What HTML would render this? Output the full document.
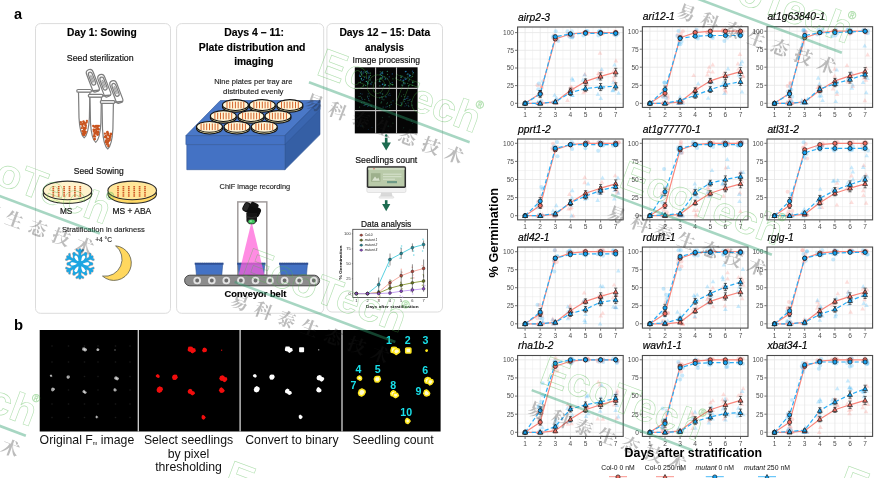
<!DOCTYPE html>
<html lang="en">
<head>
<meta charset="utf-8">
<title>Seed germination phenotyping workflow</title>
<style>
html,body{margin:0;padding:0;background:#fff;}
body{width:878px;height:478px;overflow:hidden;font-family:'Liberation Sans', sans-serif;}
svg{display:block;font-family:'Liberation Sans', sans-serif;}
</style>
</head>
<body>
<svg width="878" height="478" viewBox="0 0 878 478">
<rect x="0" y="0" width="878" height="478" fill="#ffffff"/>
<g id="panel-a-workflow">
<text x="14.00" y="18.70" font-size="14.5" text-anchor="start" fill="#000" font-weight="bold">a</text>
<text x="13.90" y="329.90" font-size="14.8" text-anchor="start" fill="#000" font-weight="bold">b</text>
<rect x="35.5" y="23.6" width="135.0" height="289.7" rx="5" ry="5" fill="#fff" stroke="#dcdcdc" stroke-width="1"/>
<rect x="176.6" y="23.6" width="147.1" height="289.7" rx="5" ry="5" fill="#fff" stroke="#dcdcdc" stroke-width="1"/>
<rect x="326.9" y="23.6" width="115.60000000000002" height="288.4" rx="5" ry="5" fill="#fff" stroke="#dcdcdc" stroke-width="1"/>
<text x="101.95" y="36.20" font-size="10.4" text-anchor="middle" fill="#000" font-weight="bold" textLength="69.70" lengthAdjust="spacingAndGlyphs" stroke="#000" stroke-width="0.15">Day 1: Sowing</text>
<text x="100.20" y="60.70" font-size="8.8" text-anchor="middle" fill="#141414" textLength="66.80" lengthAdjust="spacingAndGlyphs" stroke="#141414" stroke-width="0.2">Seed sterilization</text>
<text x="98.70" y="174.40" font-size="8.8" text-anchor="middle" fill="#141414" textLength="49.80" lengthAdjust="spacingAndGlyphs" stroke="#141414" stroke-width="0.2">Seed Sowing</text>
<text x="66.10" y="214.40" font-size="8.8" text-anchor="middle" fill="#141414" textLength="12.40" lengthAdjust="spacingAndGlyphs" stroke="#141414" stroke-width="0.2">MS</text>
<text x="131.85" y="214.40" font-size="8.8" text-anchor="middle" fill="#141414" textLength="38.70" lengthAdjust="spacingAndGlyphs" stroke="#141414" stroke-width="0.2">MS + ABA</text>
<text x="103.40" y="231.70" font-size="7.5" text-anchor="middle" fill="#1c1c1c" textLength="82.80" lengthAdjust="spacingAndGlyphs" stroke="#141414" stroke-width="0.12">Stratification in darkness</text>
<text x="103.60" y="241.50" font-size="7.5" text-anchor="middle" fill="#1c1c1c" textLength="16.80" lengthAdjust="spacingAndGlyphs" stroke="#141414" stroke-width="0.12">+4 °C</text>
<g fill="#fff" stroke="#7d7d7d" stroke-width="1.2" stroke-linejoin="round" stroke-linecap="round">
<g transform="translate(99.8,90.4) rotate(-21)">
<path d="M-6.6,-3 L-6.6,-19.5 Q-6.6,-23.4 -3.2,-23.4 Q0.4,-23.4 0.4,-19.5 L0.4,-3 Q0.4,0 -2,0 L-4.6,0 Q-6.6,0 -6.6,-3 Z"/>
<path d="M-5.1,-9 L-5.1,-17.6 Q-5.1,-20.6 -3.1,-20.6 Q-1.1,-20.6 -1.1,-17.6 L-1.1,-9 Q-1.1,-7 -3.1,-7 Q-5.1,-7 -5.1,-9 Z" fill="#f4f4f4"/>
<path d="M-3.7,-10 L-3.7,-16.5 Q-3.1,-18 -2.5,-16.5 L-2.5,-10" fill="none" stroke-width="0.7"/>
</g>
<path d="M90.7,91.0 L98.7,90.4" fill="none" stroke-width="1.6"/>
<path d="M78.5,92.0 L79.0,117.8 Q79.9,134.4 84.2,137.9 Q88.5,134.4 89.4,117.8 L89.9,92.0 Z"/>
<rect x="76.8" y="89.5" width="14.6" height="2.7" rx="1.3"/>
</g>
<g fill="#c9541f">
<circle cx="85.3" cy="133.4" r="1.15"/>
<circle cx="82.6" cy="124.2" r="1.15"/>
<circle cx="83.9" cy="128.1" r="1.15"/>
<circle cx="85.9" cy="125.9" r="1.15"/>
<circle cx="82.9" cy="133.9" r="1.15"/>
<circle cx="83.7" cy="123.2" r="1.15"/>
<circle cx="81.0" cy="124.2" r="1.15"/>
<circle cx="85.3" cy="128.8" r="1.15"/>
<circle cx="85.8" cy="132.0" r="1.15"/>
<circle cx="80.9" cy="122.2" r="1.15"/>
<circle cx="84.3" cy="134.9" r="1.15"/>
<circle cx="83.4" cy="121.7" r="1.15"/>
<circle cx="83.9" cy="132.2" r="1.15"/>
<circle cx="83.6" cy="134.9" r="1.15"/>
<circle cx="84.2" cy="129.0" r="1.15"/>
<circle cx="83.2" cy="131.9" r="1.15"/>
<circle cx="84.1" cy="132.1" r="1.15"/>
<circle cx="82.3" cy="131.1" r="1.15"/>
<circle cx="84.6" cy="123.2" r="1.15"/>
<circle cx="82.4" cy="126.0" r="1.15"/>
<circle cx="86.9" cy="120.9" r="1.15"/>
<circle cx="83.7" cy="133.5" r="1.15"/>
<circle cx="85.5" cy="124.8" r="1.15"/>
<circle cx="83.6" cy="121.7" r="1.15"/>
<circle cx="85.3" cy="123.3" r="1.15"/>
<circle cx="84.6" cy="130.9" r="1.15"/>
<circle cx="86.6" cy="122.5" r="1.15"/>
<circle cx="84.7" cy="128.0" r="1.15"/>
<circle cx="83.6" cy="134.8" r="1.15"/>
<circle cx="83.6" cy="123.7" r="1.15"/>
<circle cx="84.4" cy="132.8" r="1.15"/>
<circle cx="85.3" cy="125.1" r="1.15"/>
<circle cx="83.9" cy="129.9" r="1.15"/>
<circle cx="85.7" cy="127.9" r="1.15"/>
<circle cx="83.6" cy="127.7" r="1.15"/>
<circle cx="81.8" cy="128.2" r="1.15"/>
</g>
<g fill="#fff" stroke="#7d7d7d" stroke-width="1.2" stroke-linejoin="round" stroke-linecap="round">
<g transform="translate(111.3,95.3) rotate(-21)">
<path d="M-6.6,-3 L-6.6,-19.5 Q-6.6,-23.4 -3.2,-23.4 Q0.4,-23.4 0.4,-19.5 L0.4,-3 Q0.4,0 -2,0 L-4.6,0 Q-6.6,0 -6.6,-3 Z"/>
<path d="M-5.1,-9 L-5.1,-17.6 Q-5.1,-20.6 -3.1,-20.6 Q-1.1,-20.6 -1.1,-17.6 L-1.1,-9 Q-1.1,-7 -3.1,-7 Q-5.1,-7 -5.1,-9 Z" fill="#f4f4f4"/>
<path d="M-3.7,-10 L-3.7,-16.5 Q-3.1,-18 -2.5,-16.5 L-2.5,-10" fill="none" stroke-width="0.7"/>
</g>
<path d="M102.2,95.9 L110.2,95.3" fill="none" stroke-width="1.6"/>
<path d="M90.0,96.9 L90.5,122.7 Q91.4,138.9 95.7,142.4 Q100.0,138.9 100.9,122.7 L101.4,96.9 Z"/>
<rect x="88.3" y="94.4" width="14.6" height="2.7" rx="1.3"/>
</g>
<g fill="#c9541f">
<circle cx="98.9" cy="125.9" r="1.15"/>
<circle cx="94.7" cy="139.0" r="1.15"/>
<circle cx="97.3" cy="127.7" r="1.15"/>
<circle cx="94.6" cy="130.1" r="1.15"/>
<circle cx="96.3" cy="131.0" r="1.15"/>
<circle cx="93.8" cy="131.4" r="1.15"/>
<circle cx="95.2" cy="133.6" r="1.15"/>
<circle cx="98.8" cy="129.3" r="1.15"/>
<circle cx="96.0" cy="126.0" r="1.15"/>
<circle cx="94.6" cy="133.3" r="1.15"/>
<circle cx="94.7" cy="139.3" r="1.15"/>
<circle cx="94.8" cy="133.1" r="1.15"/>
<circle cx="97.5" cy="134.3" r="1.15"/>
<circle cx="96.0" cy="132.2" r="1.15"/>
<circle cx="93.9" cy="136.4" r="1.15"/>
<circle cx="94.2" cy="135.1" r="1.15"/>
<circle cx="98.3" cy="132.4" r="1.15"/>
<circle cx="93.8" cy="130.0" r="1.15"/>
<circle cx="97.8" cy="126.8" r="1.15"/>
<circle cx="98.3" cy="129.2" r="1.15"/>
<circle cx="97.6" cy="128.7" r="1.15"/>
<circle cx="97.8" cy="134.7" r="1.15"/>
<circle cx="93.2" cy="125.9" r="1.15"/>
<circle cx="97.1" cy="128.9" r="1.15"/>
<circle cx="95.9" cy="133.1" r="1.15"/>
<circle cx="97.9" cy="132.7" r="1.15"/>
<circle cx="97.4" cy="132.5" r="1.15"/>
<circle cx="97.4" cy="134.7" r="1.15"/>
<circle cx="95.4" cy="126.8" r="1.15"/>
<circle cx="98.0" cy="131.6" r="1.15"/>
<circle cx="95.6" cy="129.3" r="1.15"/>
<circle cx="95.1" cy="136.6" r="1.15"/>
<circle cx="93.7" cy="129.7" r="1.15"/>
<circle cx="94.1" cy="126.6" r="1.15"/>
<circle cx="94.4" cy="126.6" r="1.15"/>
<circle cx="97.2" cy="125.9" r="1.15"/>
</g>
<g fill="#fff" stroke="#7d7d7d" stroke-width="1.2" stroke-linejoin="round" stroke-linecap="round">
<g transform="translate(123.3,101.6) rotate(-21)">
<path d="M-6.6,-3 L-6.6,-19.5 Q-6.6,-23.4 -3.2,-23.4 Q0.4,-23.4 0.4,-19.5 L0.4,-3 Q0.4,0 -2,0 L-4.6,0 Q-6.6,0 -6.6,-3 Z"/>
<path d="M-5.1,-9 L-5.1,-17.6 Q-5.1,-20.6 -3.1,-20.6 Q-1.1,-20.6 -1.1,-17.6 L-1.1,-9 Q-1.1,-7 -3.1,-7 Q-5.1,-7 -5.1,-9 Z" fill="#f4f4f4"/>
<path d="M-3.7,-10 L-3.7,-16.5 Q-3.1,-18 -2.5,-16.5 L-2.5,-10" fill="none" stroke-width="0.7"/>
</g>
<path d="M114.2,102.2 L122.2,101.6" fill="none" stroke-width="1.6"/>
<path d="M102.0,103.2 L102.5,129.0 Q103.4,145.5 107.7,149.0 Q112.0,145.5 112.9,129.0 L113.4,103.2 Z"/>
<rect x="100.3" y="100.7" width="14.6" height="2.7" rx="1.3"/>
</g>
<g fill="#c9541f">
<circle cx="107.9" cy="142.9" r="1.15"/>
<circle cx="108.2" cy="141.0" r="1.15"/>
<circle cx="105.2" cy="137.3" r="1.15"/>
<circle cx="108.3" cy="146.2" r="1.15"/>
<circle cx="106.7" cy="142.6" r="1.15"/>
<circle cx="107.5" cy="132.0" r="1.15"/>
<circle cx="107.5" cy="134.3" r="1.15"/>
<circle cx="105.7" cy="137.1" r="1.15"/>
<circle cx="109.8" cy="137.2" r="1.15"/>
<circle cx="109.0" cy="138.8" r="1.15"/>
<circle cx="105.1" cy="136.7" r="1.15"/>
<circle cx="108.3" cy="135.4" r="1.15"/>
<circle cx="105.8" cy="142.0" r="1.15"/>
<circle cx="107.5" cy="133.8" r="1.15"/>
<circle cx="110.0" cy="136.0" r="1.15"/>
<circle cx="110.3" cy="136.0" r="1.15"/>
<circle cx="109.1" cy="140.7" r="1.15"/>
<circle cx="109.8" cy="140.0" r="1.15"/>
<circle cx="104.9" cy="133.7" r="1.15"/>
<circle cx="106.8" cy="144.4" r="1.15"/>
<circle cx="107.2" cy="132.4" r="1.15"/>
<circle cx="106.5" cy="137.3" r="1.15"/>
<circle cx="107.1" cy="139.0" r="1.15"/>
<circle cx="108.1" cy="141.3" r="1.15"/>
<circle cx="110.0" cy="137.9" r="1.15"/>
<circle cx="110.3" cy="136.5" r="1.15"/>
<circle cx="111.0" cy="134.0" r="1.15"/>
<circle cx="105.7" cy="136.7" r="1.15"/>
<circle cx="110.9" cy="133.9" r="1.15"/>
<circle cx="108.2" cy="133.3" r="1.15"/>
<circle cx="105.9" cy="136.0" r="1.15"/>
<circle cx="108.2" cy="134.3" r="1.15"/>
<circle cx="106.0" cy="142.3" r="1.15"/>
<circle cx="111.0" cy="134.0" r="1.15"/>
<circle cx="108.5" cy="145.1" r="1.15"/>
<circle cx="106.1" cy="140.4" r="1.15"/>
</g>
<ellipse cx="67.5" cy="194.1" rx="24.3" ry="9.3" fill="#fdfbc4" stroke="#2b2b2b" stroke-width="1.1"/>
<ellipse cx="67.5" cy="190.4" rx="24.3" ry="9.3" fill="#fff2cc" stroke="#2b2b2b" stroke-width="1.1"/>
<line x1="53.3" y1="186.1" x2="53.3" y2="196.8" stroke="#cf5a26" stroke-width="1.7" stroke-dasharray="1.3 0.55"/>
<line x1="58.7" y1="186.1" x2="58.7" y2="196.8" stroke="#cf5a26" stroke-width="1.7" stroke-dasharray="1.3 0.55"/>
<line x1="64.1" y1="186.1" x2="64.1" y2="196.8" stroke="#cf5a26" stroke-width="1.7" stroke-dasharray="1.3 0.55"/>
<line x1="69.5" y1="186.1" x2="69.5" y2="196.8" stroke="#cf5a26" stroke-width="1.7" stroke-dasharray="1.3 0.55"/>
<line x1="74.9" y1="186.1" x2="74.9" y2="196.8" stroke="#cf5a26" stroke-width="1.7" stroke-dasharray="1.3 0.55"/>
<line x1="80.3" y1="186.1" x2="80.3" y2="196.8" stroke="#cf5a26" stroke-width="1.7" stroke-dasharray="1.3 0.55"/>
<ellipse cx="132.2" cy="194.1" rx="24.3" ry="9.3" fill="#ffd966" stroke="#2b2b2b" stroke-width="1.1"/>
<ellipse cx="132.2" cy="190.4" rx="24.3" ry="9.3" fill="#ffe699" stroke="#2b2b2b" stroke-width="1.1"/>
<line x1="118.0" y1="186.1" x2="118.0" y2="196.8" stroke="#cf5a26" stroke-width="1.7" stroke-dasharray="1.3 0.55"/>
<line x1="123.4" y1="186.1" x2="123.4" y2="196.8" stroke="#cf5a26" stroke-width="1.7" stroke-dasharray="1.3 0.55"/>
<line x1="128.8" y1="186.1" x2="128.8" y2="196.8" stroke="#cf5a26" stroke-width="1.7" stroke-dasharray="1.3 0.55"/>
<line x1="134.2" y1="186.1" x2="134.2" y2="196.8" stroke="#cf5a26" stroke-width="1.7" stroke-dasharray="1.3 0.55"/>
<line x1="139.6" y1="186.1" x2="139.6" y2="196.8" stroke="#cf5a26" stroke-width="1.7" stroke-dasharray="1.3 0.55"/>
<line x1="145.0" y1="186.1" x2="145.0" y2="196.8" stroke="#cf5a26" stroke-width="1.7" stroke-dasharray="1.3 0.55"/>
<g transform="translate(79.85,263.85)">
<g stroke="#c98f80" stroke-linecap="round" stroke-linejoin="round" fill="none" opacity="0.55">
<g transform="rotate(0)"><line x1="0" y1="0" x2="0" y2="-14.10" stroke-width="3.5"/><path d="M-3.06,-13.77 L0,-11.63 L3.06,-13.77" stroke-width="2.9"/><path d="M-6.12,-10.10 L0,-6.43 L6.12,-10.10" stroke-width="3.3"/></g>
<g transform="rotate(60)"><line x1="0" y1="0" x2="0" y2="-14.10" stroke-width="3.5"/><path d="M-3.06,-13.77 L0,-11.63 L3.06,-13.77" stroke-width="2.9"/><path d="M-6.12,-10.10 L0,-6.43 L6.12,-10.10" stroke-width="3.3"/></g>
<g transform="rotate(120)"><line x1="0" y1="0" x2="0" y2="-14.10" stroke-width="3.5"/><path d="M-3.06,-13.77 L0,-11.63 L3.06,-13.77" stroke-width="2.9"/><path d="M-6.12,-10.10 L0,-6.43 L6.12,-10.10" stroke-width="3.3"/></g>
<g transform="rotate(180)"><line x1="0" y1="0" x2="0" y2="-14.10" stroke-width="3.5"/><path d="M-3.06,-13.77 L0,-11.63 L3.06,-13.77" stroke-width="2.9"/><path d="M-6.12,-10.10 L0,-6.43 L6.12,-10.10" stroke-width="3.3"/></g>
<g transform="rotate(240)"><line x1="0" y1="0" x2="0" y2="-14.10" stroke-width="3.5"/><path d="M-3.06,-13.77 L0,-11.63 L3.06,-13.77" stroke-width="2.9"/><path d="M-6.12,-10.10 L0,-6.43 L6.12,-10.10" stroke-width="3.3"/></g>
<g transform="rotate(300)"><line x1="0" y1="0" x2="0" y2="-14.10" stroke-width="3.5"/><path d="M-3.06,-13.77 L0,-11.63 L3.06,-13.77" stroke-width="2.9"/><path d="M-6.12,-10.10 L0,-6.43 L6.12,-10.10" stroke-width="3.3"/></g>
</g>
<g stroke="#1ba6e2" stroke-linecap="round" stroke-linejoin="round" fill="none">
<g transform="rotate(0)"><line x1="0" y1="0" x2="0" y2="-14.10" stroke-width="2.5"/><path d="M-3.06,-13.77 L0,-11.63 L3.06,-13.77" stroke-width="1.9"/><path d="M-6.12,-10.10 L0,-6.43 L6.12,-10.10" stroke-width="2.3"/></g>
<g transform="rotate(60)"><line x1="0" y1="0" x2="0" y2="-14.10" stroke-width="2.5"/><path d="M-3.06,-13.77 L0,-11.63 L3.06,-13.77" stroke-width="1.9"/><path d="M-6.12,-10.10 L0,-6.43 L6.12,-10.10" stroke-width="2.3"/></g>
<g transform="rotate(120)"><line x1="0" y1="0" x2="0" y2="-14.10" stroke-width="2.5"/><path d="M-3.06,-13.77 L0,-11.63 L3.06,-13.77" stroke-width="1.9"/><path d="M-6.12,-10.10 L0,-6.43 L6.12,-10.10" stroke-width="2.3"/></g>
<g transform="rotate(180)"><line x1="0" y1="0" x2="0" y2="-14.10" stroke-width="2.5"/><path d="M-3.06,-13.77 L0,-11.63 L3.06,-13.77" stroke-width="1.9"/><path d="M-6.12,-10.10 L0,-6.43 L6.12,-10.10" stroke-width="2.3"/></g>
<g transform="rotate(240)"><line x1="0" y1="0" x2="0" y2="-14.10" stroke-width="2.5"/><path d="M-3.06,-13.77 L0,-11.63 L3.06,-13.77" stroke-width="1.9"/><path d="M-6.12,-10.10 L0,-6.43 L6.12,-10.10" stroke-width="2.3"/></g>
<g transform="rotate(300)"><line x1="0" y1="0" x2="0" y2="-14.10" stroke-width="2.5"/><path d="M-3.06,-13.77 L0,-11.63 L3.06,-13.77" stroke-width="1.9"/><path d="M-6.12,-10.10 L0,-6.43 L6.12,-10.10" stroke-width="2.3"/></g>
</g>
<circle cx="0" cy="0" r="7.65" fill="#1ba6e2"/>
<path transform="rotate(30)" d="M0,-2.60 Q1.99,-6.12 1.53,-8.26 Q0,-10.71 -1.53,-8.26 Q-1.99,-6.12 0,-2.60 Z" fill="#fff"/>
<path transform="rotate(90)" d="M0,-2.60 Q1.99,-6.12 1.53,-8.26 Q0,-10.71 -1.53,-8.26 Q-1.99,-6.12 0,-2.60 Z" fill="#fff"/>
<path transform="rotate(150)" d="M0,-2.60 Q1.99,-6.12 1.53,-8.26 Q0,-10.71 -1.53,-8.26 Q-1.99,-6.12 0,-2.60 Z" fill="#fff"/>
<path transform="rotate(210)" d="M0,-2.60 Q1.99,-6.12 1.53,-8.26 Q0,-10.71 -1.53,-8.26 Q-1.99,-6.12 0,-2.60 Z" fill="#fff"/>
<path transform="rotate(270)" d="M0,-2.60 Q1.99,-6.12 1.53,-8.26 Q0,-10.71 -1.53,-8.26 Q-1.99,-6.12 0,-2.60 Z" fill="#fff"/>
<path transform="rotate(330)" d="M0,-2.60 Q1.99,-6.12 1.53,-8.26 Q0,-10.71 -1.53,-8.26 Q-1.99,-6.12 0,-2.60 Z" fill="#fff"/>
<circle cx="0" cy="0" r="3.06" fill="#1ba6e2"/>
</g>
<path d="M115.6,245.8 A17.35,17.35 0 1 1 102.5,276.1 A17.1,17.1 0 0 0 115.6,245.8 Z" fill="#ffd75e" stroke="#5a5a4a" stroke-width="0.8" stroke-linejoin="round"/>
<text x="254.15" y="36.20" font-size="10.4" text-anchor="middle" fill="#000" font-weight="bold" textLength="59.90" lengthAdjust="spacingAndGlyphs" stroke="#000" stroke-width="0.15">Days 4 – 11:</text>
<text x="252.10" y="50.70" font-size="10.4" text-anchor="middle" fill="#000" font-weight="bold" textLength="106.80" lengthAdjust="spacingAndGlyphs" stroke="#000" stroke-width="0.15">Plate distribution and</text>
<text x="253.80" y="65.00" font-size="10.4" text-anchor="middle" fill="#000" font-weight="bold" textLength="39.20" lengthAdjust="spacingAndGlyphs" stroke="#000" stroke-width="0.15">imaging</text>
<text x="253.35" y="83.60" font-size="7.5" text-anchor="middle" fill="#1c1c1c" textLength="78.30" lengthAdjust="spacingAndGlyphs" stroke="#141414" stroke-width="0.12">Nine plates per tray are</text>
<text x="253.30" y="93.60" font-size="7.5" text-anchor="middle" fill="#1c1c1c" textLength="60.40" lengthAdjust="spacingAndGlyphs" stroke="#141414" stroke-width="0.12">distributed evenly</text>
<text x="254.90" y="189.20" font-size="7.5" text-anchor="middle" fill="#1c1c1c" textLength="70.60" lengthAdjust="spacingAndGlyphs" stroke="#141414" stroke-width="0.12">ChlF image recording</text>
<text x="255.50" y="296.50" font-size="9.4" text-anchor="middle" fill="#000" font-weight="bold" textLength="61.80" lengthAdjust="spacingAndGlyphs" stroke="#000" stroke-width="0.15">Conveyor belt</text>
<g stroke="#2f5597" stroke-width="0.6" stroke-linejoin="round">
<polygon points="220.3,100.5 320,100.5 284.9,135.6 185.9,135.6" fill="#4a78c8"/>
<polygon points="284.9,135.6 320,100.5 320,134.6 284.9,169.7" fill="#355fa5"/>
<polygon points="284.9,135.6 320,100.5 320,109.5 284.9,144.6" fill="#3a66b0"/>
<polygon points="185.9,135.6 284.9,135.6 284.9,144.6 185.9,144.6" fill="#4472c4"/>
<polygon points="186.8,144.6 284.9,144.6 284.9,169.7 186.8,169.7" fill="#4472c4"/>
</g>
<ellipse cx="235.4" cy="106.7" rx="13" ry="5.4" fill="#efe3a8" stroke="#111" stroke-width="1.05"/>
<ellipse cx="235.4" cy="105" rx="13" ry="5.4" fill="#fff6d8" stroke="#111" stroke-width="1.05"/>
<line x1="227.0" y1="101.7" x2="227.0" y2="108.3" stroke="#d4622a" stroke-width="1.0"/>
<line x1="229.8" y1="101.7" x2="229.8" y2="108.3" stroke="#d4622a" stroke-width="1.0"/>
<line x1="232.6" y1="101.7" x2="232.6" y2="108.3" stroke="#d4622a" stroke-width="1.0"/>
<line x1="235.4" y1="101.7" x2="235.4" y2="108.3" stroke="#d4622a" stroke-width="1.0"/>
<line x1="238.2" y1="101.7" x2="238.2" y2="108.3" stroke="#d4622a" stroke-width="1.0"/>
<line x1="241.0" y1="101.7" x2="241.0" y2="108.3" stroke="#d4622a" stroke-width="1.0"/>
<line x1="243.8" y1="101.7" x2="243.8" y2="108.3" stroke="#d4622a" stroke-width="1.0"/>
<ellipse cx="262.3" cy="106.7" rx="13" ry="5.4" fill="#efe3a8" stroke="#111" stroke-width="1.05"/>
<ellipse cx="262.3" cy="105" rx="13" ry="5.4" fill="#fff6d8" stroke="#111" stroke-width="1.05"/>
<line x1="253.9" y1="101.7" x2="253.9" y2="108.3" stroke="#d4622a" stroke-width="1.0"/>
<line x1="256.7" y1="101.7" x2="256.7" y2="108.3" stroke="#d4622a" stroke-width="1.0"/>
<line x1="259.5" y1="101.7" x2="259.5" y2="108.3" stroke="#d4622a" stroke-width="1.0"/>
<line x1="262.3" y1="101.7" x2="262.3" y2="108.3" stroke="#d4622a" stroke-width="1.0"/>
<line x1="265.1" y1="101.7" x2="265.1" y2="108.3" stroke="#d4622a" stroke-width="1.0"/>
<line x1="267.9" y1="101.7" x2="267.9" y2="108.3" stroke="#d4622a" stroke-width="1.0"/>
<line x1="270.7" y1="101.7" x2="270.7" y2="108.3" stroke="#d4622a" stroke-width="1.0"/>
<ellipse cx="289.9" cy="106.7" rx="13" ry="5.4" fill="#efe3a8" stroke="#111" stroke-width="1.05"/>
<ellipse cx="289.9" cy="105" rx="13" ry="5.4" fill="#fff6d8" stroke="#111" stroke-width="1.05"/>
<line x1="281.5" y1="101.7" x2="281.5" y2="108.3" stroke="#d4622a" stroke-width="1.0"/>
<line x1="284.3" y1="101.7" x2="284.3" y2="108.3" stroke="#d4622a" stroke-width="1.0"/>
<line x1="287.1" y1="101.7" x2="287.1" y2="108.3" stroke="#d4622a" stroke-width="1.0"/>
<line x1="289.9" y1="101.7" x2="289.9" y2="108.3" stroke="#d4622a" stroke-width="1.0"/>
<line x1="292.7" y1="101.7" x2="292.7" y2="108.3" stroke="#d4622a" stroke-width="1.0"/>
<line x1="295.5" y1="101.7" x2="295.5" y2="108.3" stroke="#d4622a" stroke-width="1.0"/>
<line x1="298.3" y1="101.7" x2="298.3" y2="108.3" stroke="#d4622a" stroke-width="1.0"/>
<ellipse cx="223.3" cy="117.7" rx="13" ry="5.4" fill="#efe3a8" stroke="#111" stroke-width="1.05"/>
<ellipse cx="223.3" cy="116" rx="13" ry="5.4" fill="#fff6d8" stroke="#111" stroke-width="1.05"/>
<line x1="214.9" y1="112.7" x2="214.9" y2="119.3" stroke="#d4622a" stroke-width="1.0"/>
<line x1="217.7" y1="112.7" x2="217.7" y2="119.3" stroke="#d4622a" stroke-width="1.0"/>
<line x1="220.5" y1="112.7" x2="220.5" y2="119.3" stroke="#d4622a" stroke-width="1.0"/>
<line x1="223.3" y1="112.7" x2="223.3" y2="119.3" stroke="#d4622a" stroke-width="1.0"/>
<line x1="226.1" y1="112.7" x2="226.1" y2="119.3" stroke="#d4622a" stroke-width="1.0"/>
<line x1="228.9" y1="112.7" x2="228.9" y2="119.3" stroke="#d4622a" stroke-width="1.0"/>
<line x1="231.7" y1="112.7" x2="231.7" y2="119.3" stroke="#d4622a" stroke-width="1.0"/>
<ellipse cx="251" cy="117.7" rx="13" ry="5.4" fill="#efe3a8" stroke="#111" stroke-width="1.05"/>
<ellipse cx="251" cy="116" rx="13" ry="5.4" fill="#fff6d8" stroke="#111" stroke-width="1.05"/>
<line x1="242.6" y1="112.7" x2="242.6" y2="119.3" stroke="#d4622a" stroke-width="1.0"/>
<line x1="245.4" y1="112.7" x2="245.4" y2="119.3" stroke="#d4622a" stroke-width="1.0"/>
<line x1="248.2" y1="112.7" x2="248.2" y2="119.3" stroke="#d4622a" stroke-width="1.0"/>
<line x1="251.0" y1="112.7" x2="251.0" y2="119.3" stroke="#d4622a" stroke-width="1.0"/>
<line x1="253.8" y1="112.7" x2="253.8" y2="119.3" stroke="#d4622a" stroke-width="1.0"/>
<line x1="256.6" y1="112.7" x2="256.6" y2="119.3" stroke="#d4622a" stroke-width="1.0"/>
<line x1="259.4" y1="112.7" x2="259.4" y2="119.3" stroke="#d4622a" stroke-width="1.0"/>
<ellipse cx="278" cy="117.7" rx="13" ry="5.4" fill="#efe3a8" stroke="#111" stroke-width="1.05"/>
<ellipse cx="278" cy="116" rx="13" ry="5.4" fill="#fff6d8" stroke="#111" stroke-width="1.05"/>
<line x1="269.6" y1="112.7" x2="269.6" y2="119.3" stroke="#d4622a" stroke-width="1.0"/>
<line x1="272.4" y1="112.7" x2="272.4" y2="119.3" stroke="#d4622a" stroke-width="1.0"/>
<line x1="275.2" y1="112.7" x2="275.2" y2="119.3" stroke="#d4622a" stroke-width="1.0"/>
<line x1="278.0" y1="112.7" x2="278.0" y2="119.3" stroke="#d4622a" stroke-width="1.0"/>
<line x1="280.8" y1="112.7" x2="280.8" y2="119.3" stroke="#d4622a" stroke-width="1.0"/>
<line x1="283.6" y1="112.7" x2="283.6" y2="119.3" stroke="#d4622a" stroke-width="1.0"/>
<line x1="286.4" y1="112.7" x2="286.4" y2="119.3" stroke="#d4622a" stroke-width="1.0"/>
<ellipse cx="209.5" cy="128.5" rx="13" ry="5.4" fill="#efe3a8" stroke="#111" stroke-width="1.05"/>
<ellipse cx="209.5" cy="126.8" rx="13" ry="5.4" fill="#fff6d8" stroke="#111" stroke-width="1.05"/>
<line x1="201.1" y1="123.5" x2="201.1" y2="130.1" stroke="#d4622a" stroke-width="1.0"/>
<line x1="203.9" y1="123.5" x2="203.9" y2="130.1" stroke="#d4622a" stroke-width="1.0"/>
<line x1="206.7" y1="123.5" x2="206.7" y2="130.1" stroke="#d4622a" stroke-width="1.0"/>
<line x1="209.5" y1="123.5" x2="209.5" y2="130.1" stroke="#d4622a" stroke-width="1.0"/>
<line x1="212.3" y1="123.5" x2="212.3" y2="130.1" stroke="#d4622a" stroke-width="1.0"/>
<line x1="215.1" y1="123.5" x2="215.1" y2="130.1" stroke="#d4622a" stroke-width="1.0"/>
<line x1="217.9" y1="123.5" x2="217.9" y2="130.1" stroke="#d4622a" stroke-width="1.0"/>
<ellipse cx="237" cy="128.5" rx="13" ry="5.4" fill="#efe3a8" stroke="#111" stroke-width="1.05"/>
<ellipse cx="237" cy="126.8" rx="13" ry="5.4" fill="#fff6d8" stroke="#111" stroke-width="1.05"/>
<line x1="228.6" y1="123.5" x2="228.6" y2="130.1" stroke="#d4622a" stroke-width="1.0"/>
<line x1="231.4" y1="123.5" x2="231.4" y2="130.1" stroke="#d4622a" stroke-width="1.0"/>
<line x1="234.2" y1="123.5" x2="234.2" y2="130.1" stroke="#d4622a" stroke-width="1.0"/>
<line x1="237.0" y1="123.5" x2="237.0" y2="130.1" stroke="#d4622a" stroke-width="1.0"/>
<line x1="239.8" y1="123.5" x2="239.8" y2="130.1" stroke="#d4622a" stroke-width="1.0"/>
<line x1="242.6" y1="123.5" x2="242.6" y2="130.1" stroke="#d4622a" stroke-width="1.0"/>
<line x1="245.4" y1="123.5" x2="245.4" y2="130.1" stroke="#d4622a" stroke-width="1.0"/>
<ellipse cx="264.3" cy="128.5" rx="13" ry="5.4" fill="#efe3a8" stroke="#111" stroke-width="1.05"/>
<ellipse cx="264.3" cy="126.8" rx="13" ry="5.4" fill="#fff6d8" stroke="#111" stroke-width="1.05"/>
<line x1="255.9" y1="123.5" x2="255.9" y2="130.1" stroke="#d4622a" stroke-width="1.0"/>
<line x1="258.7" y1="123.5" x2="258.7" y2="130.1" stroke="#d4622a" stroke-width="1.0"/>
<line x1="261.5" y1="123.5" x2="261.5" y2="130.1" stroke="#d4622a" stroke-width="1.0"/>
<line x1="264.3" y1="123.5" x2="264.3" y2="130.1" stroke="#d4622a" stroke-width="1.0"/>
<line x1="267.1" y1="123.5" x2="267.1" y2="130.1" stroke="#d4622a" stroke-width="1.0"/>
<line x1="269.9" y1="123.5" x2="269.9" y2="130.1" stroke="#d4622a" stroke-width="1.0"/>
<line x1="272.7" y1="123.5" x2="272.7" y2="130.1" stroke="#d4622a" stroke-width="1.0"/>
<rect x="237.8" y="201.9" width="29" height="73.2" fill="#fff" stroke="#a19c9c" stroke-width="1.5"/>
<polygon points="195.4,263.3 222.8,263.3 221.8,274.8 196.4,274.8" fill="#4472c4" stroke="#2f5597" stroke-width="0.6"/>
<rect x="194.70000000000002" y="262.7" width="28.800000000000004" height="2.0" fill="#2f4f93"/>
<line x1="196.4" y1="262.5" x2="221.8" y2="262.5" stroke="#e0e0e0" stroke-width="0.5" stroke-dasharray="1 1.2"/>
<polygon points="237.9,263.3 264.8,263.3 263.8,274.8 238.9,274.8" fill="#4472c4" stroke="#2f5597" stroke-width="0.6"/>
<rect x="237.20000000000002" y="262.7" width="28.300000000000004" height="2.0" fill="#2f4f93"/>
<line x1="238.9" y1="262.5" x2="263.8" y2="262.5" stroke="#e0e0e0" stroke-width="0.5" stroke-dasharray="1 1.2"/>
<polygon points="279.8,263.3 307.5,263.3 306.5,274.8 280.8,274.8" fill="#4472c4" stroke="#2f5597" stroke-width="0.6"/>
<rect x="279.1" y="262.7" width="29.099999999999987" height="2.0" fill="#2f4f93"/>
<line x1="280.8" y1="262.5" x2="306.5" y2="262.5" stroke="#e0e0e0" stroke-width="0.5" stroke-dasharray="1 1.2"/>
<polygon points="251.6,221.6 264.4,274.9 238.6,274.9" fill="#ff5fd8" opacity="0.72"/>
<g transform="translate(251.7,209.6)">
<g transform="rotate(27)">
<rect x="-9.2" y="-4.8" width="18.4" height="9.8" rx="3.2" fill="#0d0d0d"/>
<rect x="-3.6" y="-7.6" width="8.2" height="5" rx="1.8" fill="#111"/>
<rect x="-8.4" y="-4" width="4.6" height="8" rx="2" fill="#2a2a2a"/>
</g>
<path d="M-5.4,3.5 L5.4,3.5 L5.2,11.8 Q0,15.0 -5.2,11.8 Z" fill="#151515"/>
<path d="M-5.3,7.3 Q0,8.6 5.3,7.3" stroke="#444" stroke-width="0.6" fill="none"/>
<ellipse cx="-0.1" cy="11.8" rx="4.3" ry="2.8" fill="#2b2b2b"/>
<ellipse cx="-0.1" cy="11.9" rx="3.3" ry="2.1" fill="#3fc35c"/>
<ellipse cx="-0.9" cy="11.5" rx="1.3" ry="0.9" fill="#8fe8a0"/>
</g>
<rect x="184.6" y="275.2" width="135" height="10.6" rx="5.3" fill="#8c8c8c" stroke="#3a3a3a" stroke-width="0.9"/>
<circle cx="197.2" cy="280.5" r="2.9" fill="#6c6c6c" stroke="#e2e2e2" stroke-width="1.9"/>
<circle cx="211.8" cy="280.5" r="2.9" fill="#6c6c6c" stroke="#e2e2e2" stroke-width="1.9"/>
<circle cx="226.3" cy="280.5" r="2.9" fill="#6c6c6c" stroke="#e2e2e2" stroke-width="1.9"/>
<circle cx="240.9" cy="280.5" r="2.9" fill="#6c6c6c" stroke="#e2e2e2" stroke-width="1.9"/>
<circle cx="255.5" cy="280.5" r="2.9" fill="#6c6c6c" stroke="#e2e2e2" stroke-width="1.9"/>
<circle cx="270.0" cy="280.5" r="2.9" fill="#6c6c6c" stroke="#e2e2e2" stroke-width="1.9"/>
<circle cx="284.6" cy="280.5" r="2.9" fill="#6c6c6c" stroke="#e2e2e2" stroke-width="1.9"/>
<circle cx="299.2" cy="280.5" r="2.9" fill="#6c6c6c" stroke="#e2e2e2" stroke-width="1.9"/>
<circle cx="313.8" cy="280.5" r="2.9" fill="#6c6c6c" stroke="#e2e2e2" stroke-width="1.9"/>
<text x="384.82" y="36.20" font-size="10.4" text-anchor="middle" fill="#000" font-weight="bold" textLength="90.85" lengthAdjust="spacingAndGlyphs" stroke="#000" stroke-width="0.15">Days 12 – 15: Data</text>
<text x="384.50" y="50.60" font-size="10.4" text-anchor="middle" fill="#000" font-weight="bold" textLength="38.80" lengthAdjust="spacingAndGlyphs" stroke="#000" stroke-width="0.15">analysis</text>
<text x="386.30" y="62.50" font-size="8.8" text-anchor="middle" fill="#141414" textLength="67.40" lengthAdjust="spacingAndGlyphs" stroke="#141414" stroke-width="0.2">Image processing</text>
<text x="386.30" y="162.50" font-size="8.8" text-anchor="middle" fill="#141414" textLength="62.00" lengthAdjust="spacingAndGlyphs" stroke="#141414" stroke-width="0.2">Seedlings count</text>
<text x="386.15" y="226.50" font-size="8.8" text-anchor="middle" fill="#141414" textLength="50.30" lengthAdjust="spacingAndGlyphs" stroke="#141414" stroke-width="0.2">Data analysis</text>
<rect x="354.8" y="67.3" width="62.8" height="66.1" fill="#050505"/>
<g fill-opacity="0.62">
<circle cx="367.3" cy="71.2" r="0.6" fill="#2f86d0"/>
<circle cx="361.7" cy="72.9" r="0.6" fill="#3ec8a0"/>
<circle cx="367.8" cy="84.2" r="0.6" fill="#3ec8a0"/>
<circle cx="366.6" cy="71.3" r="0.6" fill="#3ec8a0"/>
<circle cx="361.4" cy="78.4" r="0.6" fill="#3ec8a0"/>
<circle cx="366.2" cy="81.5" r="0.6" fill="#2f9fd0"/>
<circle cx="361.4" cy="79.6" r="0.6" fill="#3ec8a0"/>
<circle cx="368.9" cy="73.2" r="0.6" fill="#2f9fd0"/>
<circle cx="363.1" cy="73.1" r="0.6" fill="#2f86d0"/>
<circle cx="359.7" cy="76.5" r="0.6" fill="#2f86d0"/>
<circle cx="370.2" cy="79.9" r="0.6" fill="#3ec8a0"/>
<circle cx="368.5" cy="78.8" r="0.6" fill="#2f9fd0"/>
<circle cx="359.4" cy="75.2" r="0.6" fill="#2f86d0"/>
<circle cx="366.4" cy="81.4" r="0.6" fill="#3ec8a0"/>
<circle cx="367.6" cy="82.4" r="0.6" fill="#3ec8a0"/>
<circle cx="370.3" cy="83.8" r="0.6" fill="#2f9fd0"/>
<circle cx="362.2" cy="80.3" r="0.6" fill="#2f86d0"/>
<circle cx="360.6" cy="76.1" r="0.6" fill="#2f86d0"/>
<circle cx="368.1" cy="81.1" r="0.6" fill="#3ec8a0"/>
<circle cx="366.8" cy="73.4" r="0.6" fill="#49c46a"/>
<circle cx="360.6" cy="76.5" r="0.6" fill="#49c46a"/>
<circle cx="367.9" cy="83.4" r="0.6" fill="#3ec8a0"/>
<circle cx="361.5" cy="71.3" r="0.6" fill="#2f86d0"/>
<circle cx="363.9" cy="71.8" r="0.6" fill="#2f86d0"/>
<circle cx="361.3" cy="78.3" r="0.6" fill="#2f9fd0"/>
<circle cx="360.3" cy="72.9" r="0.6" fill="#2f86d0"/>
<circle cx="368.8" cy="77.2" r="0.6" fill="#2f9fd0"/>
<circle cx="363.4" cy="85.8" r="0.6" fill="#49c46a"/>
<circle cx="365.4" cy="72.2" r="0.6" fill="#3ec8a0"/>
<circle cx="370.4" cy="73.1" r="0.6" fill="#49c46a"/>
<circle cx="369.4" cy="77.1" r="0.6" fill="#3ec8a0"/>
<circle cx="363.7" cy="79.7" r="0.6" fill="#2f9fd0"/>
<circle cx="365.7" cy="85.4" r="0.6" fill="#3ec8a0"/>
<circle cx="367.8" cy="72.5" r="0.6" fill="#2f86d0"/>
<circle cx="369.1" cy="75.9" r="0.6" fill="#2f86d0"/>
<circle cx="364.4" cy="77.6" r="0.6" fill="#2f86d0"/>
<circle cx="371.9" cy="82.2" r="0.6" fill="#3ec8a0"/>
<circle cx="370.5" cy="75.3" r="0.6" fill="#49c46a"/>
<circle cx="360.4" cy="82.2" r="0.6" fill="#3ec8a0"/>
<circle cx="366.7" cy="78.1" r="0.6" fill="#3ec8a0"/>
<circle cx="371.3" cy="84.0" r="0.6" fill="#2f86d0"/>
<circle cx="361.7" cy="74.4" r="0.6" fill="#3ec8a0"/>
</g>
<g fill-opacity="0.62">
<circle cx="380.4" cy="78.1" r="0.6" fill="#3ec8a0"/>
<circle cx="392.9" cy="78.8" r="0.6" fill="#49c46a"/>
<circle cx="381.0" cy="77.9" r="0.6" fill="#49c46a"/>
<circle cx="382.9" cy="83.9" r="0.6" fill="#2f9fd0"/>
<circle cx="392.7" cy="84.7" r="0.6" fill="#49c46a"/>
<circle cx="389.2" cy="76.8" r="0.6" fill="#2f86d0"/>
<circle cx="385.4" cy="78.6" r="0.6" fill="#3ec8a0"/>
<circle cx="382.7" cy="71.8" r="0.6" fill="#3ec8a0"/>
<circle cx="387.5" cy="74.3" r="0.6" fill="#49c46a"/>
<circle cx="379.3" cy="81.4" r="0.6" fill="#3ec8a0"/>
<circle cx="382.4" cy="84.4" r="0.6" fill="#2f86d0"/>
<circle cx="380.2" cy="74.4" r="0.6" fill="#2f9fd0"/>
<circle cx="382.2" cy="72.8" r="0.6" fill="#2f9fd0"/>
<circle cx="382.6" cy="77.9" r="0.6" fill="#2f9fd0"/>
<circle cx="381.9" cy="72.3" r="0.6" fill="#2f9fd0"/>
<circle cx="384.2" cy="77.0" r="0.6" fill="#3ec8a0"/>
<circle cx="388.7" cy="85.6" r="0.6" fill="#3ec8a0"/>
<circle cx="380.1" cy="81.7" r="0.6" fill="#3ec8a0"/>
<circle cx="382.7" cy="73.7" r="0.6" fill="#2f9fd0"/>
<circle cx="381.2" cy="73.6" r="0.6" fill="#2f9fd0"/>
<circle cx="382.7" cy="84.6" r="0.6" fill="#2f9fd0"/>
<circle cx="390.5" cy="83.6" r="0.6" fill="#3ec8a0"/>
<circle cx="379.9" cy="85.8" r="0.6" fill="#3ec8a0"/>
<circle cx="392.8" cy="84.7" r="0.6" fill="#49c46a"/>
<circle cx="381.6" cy="78.1" r="0.6" fill="#49c46a"/>
<circle cx="391.3" cy="84.3" r="0.6" fill="#49c46a"/>
<circle cx="384.5" cy="85.6" r="0.6" fill="#2f86d0"/>
<circle cx="392.2" cy="82.6" r="0.6" fill="#2f86d0"/>
<circle cx="385.2" cy="85.2" r="0.6" fill="#2f9fd0"/>
<circle cx="381.4" cy="75.3" r="0.6" fill="#3ec8a0"/>
<circle cx="387.3" cy="78.9" r="0.6" fill="#2f86d0"/>
<circle cx="380.0" cy="79.6" r="0.6" fill="#49c46a"/>
<circle cx="380.0" cy="78.4" r="0.6" fill="#49c46a"/>
<circle cx="380.2" cy="71.8" r="0.6" fill="#49c46a"/>
<circle cx="384.9" cy="84.9" r="0.6" fill="#49c46a"/>
<circle cx="387.3" cy="71.4" r="0.6" fill="#3ec8a0"/>
<circle cx="385.1" cy="79.6" r="0.6" fill="#2f86d0"/>
<circle cx="392.3" cy="73.9" r="0.6" fill="#2f86d0"/>
<circle cx="382.6" cy="76.7" r="0.6" fill="#2f86d0"/>
<circle cx="385.6" cy="84.7" r="0.6" fill="#3ec8a0"/>
<circle cx="379.4" cy="80.1" r="0.6" fill="#3ec8a0"/>
<circle cx="380.3" cy="74.0" r="0.6" fill="#2f86d0"/>
</g>
<g fill-opacity="0.62">
<circle cx="402.0" cy="76.0" r="0.6" fill="#3ec8a0"/>
<circle cx="412.5" cy="76.3" r="0.6" fill="#49c46a"/>
<circle cx="406.3" cy="78.9" r="0.6" fill="#2f86d0"/>
<circle cx="408.7" cy="85.6" r="0.6" fill="#3ec8a0"/>
<circle cx="409.5" cy="79.1" r="0.6" fill="#3ec8a0"/>
<circle cx="413.3" cy="72.8" r="0.6" fill="#3ec8a0"/>
<circle cx="412.6" cy="81.9" r="0.6" fill="#49c46a"/>
<circle cx="404.0" cy="79.9" r="0.6" fill="#2f86d0"/>
<circle cx="403.0" cy="80.3" r="0.6" fill="#2f86d0"/>
<circle cx="407.2" cy="74.6" r="0.6" fill="#3ec8a0"/>
<circle cx="401.5" cy="77.2" r="0.6" fill="#2f86d0"/>
<circle cx="400.8" cy="75.8" r="0.6" fill="#49c46a"/>
<circle cx="409.1" cy="74.7" r="0.6" fill="#2f9fd0"/>
<circle cx="407.9" cy="77.2" r="0.6" fill="#3ec8a0"/>
<circle cx="401.7" cy="85.0" r="0.6" fill="#49c46a"/>
<circle cx="407.8" cy="83.3" r="0.6" fill="#49c46a"/>
<circle cx="406.2" cy="71.4" r="0.6" fill="#2f86d0"/>
<circle cx="412.7" cy="82.7" r="0.6" fill="#3ec8a0"/>
<circle cx="412.7" cy="74.0" r="0.6" fill="#49c46a"/>
<circle cx="409.5" cy="76.1" r="0.6" fill="#2f9fd0"/>
<circle cx="413.8" cy="82.0" r="0.6" fill="#49c46a"/>
<circle cx="412.3" cy="85.4" r="0.6" fill="#49c46a"/>
<circle cx="412.5" cy="71.2" r="0.6" fill="#2f86d0"/>
<circle cx="411.1" cy="77.0" r="0.6" fill="#49c46a"/>
<circle cx="403.9" cy="82.6" r="0.6" fill="#3ec8a0"/>
<circle cx="405.5" cy="71.4" r="0.6" fill="#2f9fd0"/>
<circle cx="403.3" cy="83.0" r="0.6" fill="#2f9fd0"/>
<circle cx="405.1" cy="83.1" r="0.6" fill="#49c46a"/>
<circle cx="403.3" cy="80.7" r="0.6" fill="#2f9fd0"/>
<circle cx="404.8" cy="83.8" r="0.6" fill="#2f86d0"/>
<circle cx="405.1" cy="78.4" r="0.6" fill="#2f86d0"/>
<circle cx="413.3" cy="72.5" r="0.6" fill="#2f86d0"/>
<circle cx="402.7" cy="85.2" r="0.6" fill="#2f86d0"/>
<circle cx="400.7" cy="79.7" r="0.6" fill="#2f86d0"/>
<circle cx="410.4" cy="75.5" r="0.6" fill="#3ec8a0"/>
<circle cx="405.6" cy="79.4" r="0.6" fill="#2f86d0"/>
<circle cx="400.8" cy="77.3" r="0.6" fill="#49c46a"/>
<circle cx="405.3" cy="71.8" r="0.6" fill="#2f86d0"/>
<circle cx="408.9" cy="80.8" r="0.6" fill="#3ec8a0"/>
<circle cx="410.2" cy="75.3" r="0.6" fill="#2f86d0"/>
<circle cx="409.5" cy="75.7" r="0.6" fill="#2f86d0"/>
<circle cx="407.9" cy="73.7" r="0.6" fill="#2f9fd0"/>
</g>
<g fill-opacity="0.42">
<circle cx="367.8" cy="106.4" r="0.6" fill="#2f86d0"/>
<circle cx="364.0" cy="105.3" r="0.6" fill="#2f86d0"/>
<circle cx="362.3" cy="99.3" r="0.6" fill="#2f86d0"/>
<circle cx="364.8" cy="99.5" r="0.6" fill="#49c46a"/>
<circle cx="365.5" cy="104.7" r="0.6" fill="#49c46a"/>
<circle cx="367.5" cy="97.1" r="0.6" fill="#2f86d0"/>
<circle cx="359.6" cy="107.1" r="0.6" fill="#49c46a"/>
<circle cx="367.7" cy="96.2" r="0.6" fill="#49c46a"/>
<circle cx="360.4" cy="93.5" r="0.6" fill="#2f9fd0"/>
<circle cx="366.9" cy="104.4" r="0.6" fill="#2f9fd0"/>
<circle cx="364.1" cy="102.3" r="0.6" fill="#49c46a"/>
<circle cx="368.4" cy="98.6" r="0.6" fill="#2f9fd0"/>
<circle cx="361.7" cy="102.7" r="0.6" fill="#3ec8a0"/>
<circle cx="370.8" cy="105.7" r="0.6" fill="#3ec8a0"/>
<circle cx="369.2" cy="96.1" r="0.6" fill="#2f9fd0"/>
<circle cx="359.0" cy="96.6" r="0.6" fill="#3ec8a0"/>
<circle cx="364.7" cy="104.9" r="0.6" fill="#2f86d0"/>
<circle cx="371.6" cy="106.2" r="0.6" fill="#2f9fd0"/>
<circle cx="369.9" cy="101.0" r="0.6" fill="#49c46a"/>
<circle cx="368.7" cy="100.0" r="0.6" fill="#2f86d0"/>
<circle cx="368.8" cy="105.4" r="0.6" fill="#2f86d0"/>
<circle cx="369.0" cy="100.6" r="0.6" fill="#49c46a"/>
<circle cx="362.1" cy="94.0" r="0.6" fill="#2f86d0"/>
<circle cx="361.6" cy="97.9" r="0.6" fill="#3ec8a0"/>
<circle cx="360.2" cy="96.3" r="0.6" fill="#49c46a"/>
<circle cx="368.2" cy="93.8" r="0.6" fill="#2f9fd0"/>
</g>
<g fill-opacity="0.42">
<circle cx="383.9" cy="99.8" r="0.6" fill="#3ec8a0"/>
<circle cx="382.1" cy="99.1" r="0.6" fill="#3ec8a0"/>
<circle cx="391.2" cy="104.3" r="0.6" fill="#2f9fd0"/>
<circle cx="385.9" cy="107.0" r="0.6" fill="#2f86d0"/>
<circle cx="389.8" cy="105.6" r="0.6" fill="#2f9fd0"/>
<circle cx="386.8" cy="103.8" r="0.6" fill="#49c46a"/>
<circle cx="386.1" cy="96.9" r="0.6" fill="#2f9fd0"/>
<circle cx="379.6" cy="97.9" r="0.6" fill="#2f9fd0"/>
<circle cx="389.4" cy="105.4" r="0.6" fill="#49c46a"/>
<circle cx="393.0" cy="100.8" r="0.6" fill="#2f9fd0"/>
<circle cx="387.5" cy="102.8" r="0.6" fill="#3ec8a0"/>
<circle cx="388.2" cy="94.9" r="0.6" fill="#2f9fd0"/>
<circle cx="381.8" cy="96.7" r="0.6" fill="#2f86d0"/>
<circle cx="382.2" cy="97.7" r="0.6" fill="#2f9fd0"/>
<circle cx="383.1" cy="107.1" r="0.6" fill="#2f9fd0"/>
<circle cx="382.8" cy="94.1" r="0.6" fill="#3ec8a0"/>
<circle cx="389.7" cy="93.6" r="0.6" fill="#2f86d0"/>
<circle cx="382.4" cy="93.9" r="0.6" fill="#3ec8a0"/>
<circle cx="389.8" cy="107.1" r="0.6" fill="#49c46a"/>
<circle cx="391.0" cy="102.2" r="0.6" fill="#49c46a"/>
<circle cx="381.0" cy="102.9" r="0.6" fill="#49c46a"/>
<circle cx="385.7" cy="96.7" r="0.6" fill="#2f86d0"/>
<circle cx="381.6" cy="101.9" r="0.6" fill="#3ec8a0"/>
<circle cx="390.1" cy="95.3" r="0.6" fill="#2f86d0"/>
<circle cx="380.7" cy="93.2" r="0.6" fill="#2f86d0"/>
<circle cx="387.3" cy="106.5" r="0.6" fill="#2f9fd0"/>
</g>
<g fill-opacity="0.42">
<circle cx="405.7" cy="103.6" r="0.6" fill="#3ec8a0"/>
<circle cx="408.4" cy="105.3" r="0.6" fill="#49c46a"/>
<circle cx="401.6" cy="104.4" r="0.6" fill="#3ec8a0"/>
<circle cx="411.3" cy="101.3" r="0.6" fill="#3ec8a0"/>
<circle cx="405.0" cy="99.3" r="0.6" fill="#2f86d0"/>
<circle cx="401.1" cy="102.5" r="0.6" fill="#3ec8a0"/>
<circle cx="412.1" cy="105.2" r="0.6" fill="#3ec8a0"/>
<circle cx="406.2" cy="98.3" r="0.6" fill="#2f9fd0"/>
<circle cx="410.1" cy="99.4" r="0.6" fill="#2f86d0"/>
<circle cx="408.8" cy="106.6" r="0.6" fill="#2f9fd0"/>
<circle cx="406.7" cy="105.2" r="0.6" fill="#2f86d0"/>
<circle cx="404.7" cy="96.5" r="0.6" fill="#3ec8a0"/>
<circle cx="404.1" cy="99.6" r="0.6" fill="#2f9fd0"/>
<circle cx="408.1" cy="102.9" r="0.6" fill="#2f86d0"/>
<circle cx="400.6" cy="105.6" r="0.6" fill="#49c46a"/>
<circle cx="407.0" cy="98.2" r="0.6" fill="#2f86d0"/>
<circle cx="404.9" cy="106.0" r="0.6" fill="#2f86d0"/>
<circle cx="407.9" cy="100.6" r="0.6" fill="#49c46a"/>
<circle cx="401.4" cy="103.6" r="0.6" fill="#2f9fd0"/>
<circle cx="407.9" cy="96.4" r="0.6" fill="#2f9fd0"/>
<circle cx="409.2" cy="100.2" r="0.6" fill="#3ec8a0"/>
<circle cx="401.5" cy="96.2" r="0.6" fill="#49c46a"/>
<circle cx="404.4" cy="101.6" r="0.6" fill="#2f9fd0"/>
<circle cx="407.9" cy="98.0" r="0.6" fill="#2f86d0"/>
<circle cx="405.1" cy="99.6" r="0.6" fill="#2f86d0"/>
<circle cx="403.7" cy="94.6" r="0.6" fill="#49c46a"/>
</g>
<g fill-opacity="0.25">
<circle cx="362.7" cy="126.0" r="0.6" fill="#49c46a"/>
<circle cx="361.0" cy="125.9" r="0.6" fill="#2f86d0"/>
<circle cx="368.4" cy="129.5" r="0.6" fill="#2f86d0"/>
<circle cx="372.0" cy="127.3" r="0.6" fill="#2f86d0"/>
</g>
<g fill-opacity="0.25">
<circle cx="382.4" cy="117.6" r="0.6" fill="#3ec8a0"/>
<circle cx="389.1" cy="116.8" r="0.6" fill="#3ec8a0"/>
<circle cx="392.9" cy="123.2" r="0.6" fill="#49c46a"/>
<circle cx="388.2" cy="126.2" r="0.6" fill="#3ec8a0"/>
</g>
<g fill-opacity="0.25">
<circle cx="412.4" cy="123.5" r="0.6" fill="#2f9fd0"/>
<circle cx="406.9" cy="120.0" r="0.6" fill="#3ec8a0"/>
<circle cx="403.7" cy="127.8" r="0.6" fill="#3ec8a0"/>
<circle cx="411.7" cy="120.9" r="0.6" fill="#3ec8a0"/>
</g>
<g stroke="#bdbdbd" stroke-width="1.1">
<line x1="375.6" y1="67.3" x2="375.6" y2="133.4"/><line x1="396.5" y1="67.3" x2="396.5" y2="133.4"/>
<line x1="354.8" y1="88.4" x2="417.6" y2="88.4"/><line x1="354.8" y1="110.6" x2="417.6" y2="110.6"/>
</g>
<circle cx="386.2" cy="135.5" r="1.25" fill="#1d6b50"/>
<rect x="384.9" y="137.70000000000002" width="2.6" height="5.3" fill="#1d6b50"/>
<polygon points="381.5,142.6 390.9,142.6 386.2,150.6" fill="#1d6b50"/>
<rect x="384.9" y="200.2" width="2.6" height="4.2" fill="#1d6b50"/>
<polygon points="382.09999999999997,203.89999999999998 390.3,203.89999999999998 386.2,211.2" fill="#1d6b50"/>
<rect x="366.8" y="166.3" width="39.2" height="26.2" rx="1.6" fill="#f1f1f1" stroke="#cfcfcf" stroke-width="0.5"/>
<rect x="366.8" y="166.3" width="39.2" height="21.6" rx="1.6" fill="#2e2e2e"/>
<rect x="368.3" y="167.8" width="36.2" height="18.6" fill="#b9caa9"/>
<rect x="368.3" y="167.8" width="36.2" height="2" fill="#cfdcc3"/>
<circle cx="374" cy="168.8" r="0.7" fill="#d9534f"/>
<rect x="371" y="173.2" width="9.5" height="8.5" fill="#9db08c"/>
<polygon points="372,180.8 375,176.5 377,179 378.3,177.5 379.8,180.8" fill="#d9e3cf"/>
<g stroke="#dbe5d2" stroke-width="0.9"><line x1="383" y1="174.2" x2="401.5" y2="174.2"/><line x1="383" y1="176.7" x2="401.5" y2="176.7"/><line x1="383" y1="179.2" x2="395" y2="179.2"/></g>
<rect x="387" y="181" width="10" height="2.2" fill="#6f9a86"/>
<polygon points="381.2,192.5 391.6,192.5 392.6,196.6 380.2,196.6" fill="#d9d9d9"/>
<rect x="379" y="196.4" width="14.8" height="1.8" rx="0.8" fill="#ededed" stroke="#cfcfcf" stroke-width="0.4"/>
<rect x="352.8" y="229.3" width="74.80000000000001" height="68.09999999999997" fill="#fff" stroke="#3a3a3a" stroke-width="0.8"/>
<circle cx="378.2" cy="290.5" r="0.8" fill="#45cbdc" opacity="0.7"/>
<circle cx="379.2" cy="291.8" r="0.8" fill="#45cbdc" opacity="0.7"/>
<circle cx="378.8" cy="286.9" r="0.8" fill="#45cbdc" opacity="0.7"/>
<circle cx="388.6" cy="259.4" r="0.8" fill="#45cbdc" opacity="0.7"/>
<circle cx="388.6" cy="260.6" r="0.8" fill="#45cbdc" opacity="0.7"/>
<circle cx="388.7" cy="266.4" r="0.8" fill="#45cbdc" opacity="0.7"/>
<circle cx="401.0" cy="248.1" r="0.8" fill="#45cbdc" opacity="0.7"/>
<circle cx="400.1" cy="258.2" r="0.8" fill="#45cbdc" opacity="0.7"/>
<circle cx="401.6" cy="246.0" r="0.8" fill="#45cbdc" opacity="0.7"/>
<circle cx="412.6" cy="249.3" r="0.8" fill="#45cbdc" opacity="0.7"/>
<circle cx="413.8" cy="255.1" r="0.8" fill="#45cbdc" opacity="0.7"/>
<circle cx="413.5" cy="251.1" r="0.8" fill="#45cbdc" opacity="0.7"/>
<circle cx="422.6" cy="251.0" r="0.8" fill="#45cbdc" opacity="0.7"/>
<circle cx="423.0" cy="239.3" r="0.8" fill="#45cbdc" opacity="0.7"/>
<circle cx="422.7" cy="243.2" r="0.8" fill="#45cbdc" opacity="0.7"/>
<circle cx="379.2" cy="294.5" r="0.8" fill="#f5a397" opacity="0.7"/>
<circle cx="378.9" cy="299.7" r="0.8" fill="#f5a397" opacity="0.7"/>
<circle cx="377.4" cy="297.3" r="0.8" fill="#f5a397" opacity="0.7"/>
<circle cx="390.5" cy="284.0" r="0.8" fill="#f5a397" opacity="0.7"/>
<circle cx="389.4" cy="281.4" r="0.8" fill="#f5a397" opacity="0.7"/>
<circle cx="389.8" cy="286.2" r="0.8" fill="#f5a397" opacity="0.7"/>
<circle cx="402.1" cy="272.3" r="0.8" fill="#f5a397" opacity="0.7"/>
<circle cx="400.4" cy="274.4" r="0.8" fill="#f5a397" opacity="0.7"/>
<circle cx="401.3" cy="269.4" r="0.8" fill="#f5a397" opacity="0.7"/>
<circle cx="413.1" cy="275.0" r="0.8" fill="#f5a397" opacity="0.7"/>
<circle cx="413.8" cy="277.9" r="0.8" fill="#f5a397" opacity="0.7"/>
<circle cx="412.2" cy="267.2" r="0.8" fill="#f5a397" opacity="0.7"/>
<circle cx="422.6" cy="268.7" r="0.8" fill="#f5a397" opacity="0.7"/>
<circle cx="422.2" cy="265.7" r="0.8" fill="#f5a397" opacity="0.7"/>
<circle cx="424.4" cy="267.3" r="0.8" fill="#f5a397" opacity="0.7"/>
<circle cx="379.9" cy="296.1" r="0.8" fill="#8a9a35" opacity="0.7"/>
<circle cx="379.3" cy="291.4" r="0.8" fill="#8a9a35" opacity="0.7"/>
<circle cx="379.0" cy="293.7" r="0.8" fill="#8a9a35" opacity="0.7"/>
<circle cx="391.0" cy="280.8" r="0.8" fill="#8a9a35" opacity="0.7"/>
<circle cx="389.9" cy="285.5" r="0.8" fill="#8a9a35" opacity="0.7"/>
<circle cx="388.6" cy="284.8" r="0.8" fill="#8a9a35" opacity="0.7"/>
<circle cx="401.6" cy="277.0" r="0.8" fill="#8a9a35" opacity="0.7"/>
<circle cx="402.1" cy="288.8" r="0.8" fill="#8a9a35" opacity="0.7"/>
<circle cx="400.8" cy="282.4" r="0.8" fill="#8a9a35" opacity="0.7"/>
<circle cx="411.0" cy="283.5" r="0.8" fill="#8a9a35" opacity="0.7"/>
<circle cx="411.4" cy="289.2" r="0.8" fill="#8a9a35" opacity="0.7"/>
<circle cx="411.1" cy="278.3" r="0.8" fill="#8a9a35" opacity="0.7"/>
<circle cx="422.5" cy="285.3" r="0.8" fill="#8a9a35" opacity="0.7"/>
<circle cx="423.3" cy="274.8" r="0.8" fill="#8a9a35" opacity="0.7"/>
<circle cx="422.4" cy="281.9" r="0.8" fill="#8a9a35" opacity="0.7"/>
<circle cx="390.1" cy="286.6" r="0.8" fill="#c19af0" opacity="0.7"/>
<circle cx="390.9" cy="286.9" r="0.8" fill="#c19af0" opacity="0.7"/>
<circle cx="389.3" cy="294.4" r="0.8" fill="#c19af0" opacity="0.7"/>
<circle cx="400.8" cy="284.8" r="0.8" fill="#c19af0" opacity="0.7"/>
<circle cx="402.6" cy="297.1" r="0.8" fill="#c19af0" opacity="0.7"/>
<circle cx="400.2" cy="295.7" r="0.8" fill="#c19af0" opacity="0.7"/>
<circle cx="411.6" cy="290.3" r="0.8" fill="#c19af0" opacity="0.7"/>
<circle cx="412.7" cy="294.0" r="0.8" fill="#c19af0" opacity="0.7"/>
<circle cx="410.9" cy="291.4" r="0.8" fill="#c19af0" opacity="0.7"/>
<circle cx="423.2" cy="287.7" r="0.8" fill="#c19af0" opacity="0.7"/>
<circle cx="425.0" cy="285.6" r="0.8" fill="#c19af0" opacity="0.7"/>
<circle cx="423.7" cy="286.8" r="0.8" fill="#c19af0" opacity="0.7"/>
<polyline points="356.3,293.6 367.5,293.6 378.7,284.6 390.0,259.5 401.2,253.5 412.4,247.6 423.6,244.6" fill="none" stroke="#45cbdc" stroke-width="0.9"/>
<polyline points="356.3,293.6 367.5,293.6 378.7,292.4 390.0,282.8 401.2,275.7 412.4,271.5 423.6,268.5" fill="none" stroke="#f5a397" stroke-width="0.9"/>
<polyline points="356.3,293.6 367.5,293.6 378.7,293.0 390.0,288.2 401.2,285.2 412.4,282.8 423.6,281.0" fill="none" stroke="#8a9a35" stroke-width="0.9"/>
<polyline points="356.3,293.6 367.5,293.6 378.7,293.6 390.0,293.0 401.2,291.2 412.4,290.0 423.6,288.8" fill="none" stroke="#c19af0" stroke-width="0.9"/>
<circle cx="356.3" cy="293.6" r="1.4" fill="#1f8a99" stroke="#222" stroke-width="0.45"/>
<circle cx="367.5" cy="293.6" r="1.4" fill="#1f8a99" stroke="#222" stroke-width="0.45"/>
<line x1="378.7" y1="291.8" x2="378.7" y2="277.5" stroke="#222" stroke-width="0.5"/>
<circle cx="378.7" cy="284.6" r="1.4" fill="#1f8a99" stroke="#222" stroke-width="0.45"/>
<line x1="390.0" y1="265.5" x2="390.0" y2="253.5" stroke="#222" stroke-width="0.5"/>
<circle cx="390.0" cy="259.5" r="1.4" fill="#1f8a99" stroke="#222" stroke-width="0.45"/>
<line x1="401.2" y1="258.9" x2="401.2" y2="248.2" stroke="#222" stroke-width="0.5"/>
<circle cx="401.2" cy="253.5" r="1.4" fill="#1f8a99" stroke="#222" stroke-width="0.45"/>
<line x1="412.4" y1="251.7" x2="412.4" y2="243.4" stroke="#222" stroke-width="0.5"/>
<circle cx="412.4" cy="247.6" r="1.4" fill="#1f8a99" stroke="#222" stroke-width="0.45"/>
<line x1="423.6" y1="248.8" x2="423.6" y2="240.4" stroke="#222" stroke-width="0.5"/>
<circle cx="423.6" cy="244.6" r="1.4" fill="#1f8a99" stroke="#222" stroke-width="0.45"/>
<circle cx="356.3" cy="293.6" r="1.4" fill="#b5483c" stroke="#222" stroke-width="0.45"/>
<circle cx="367.5" cy="293.6" r="1.4" fill="#b5483c" stroke="#222" stroke-width="0.45"/>
<line x1="378.7" y1="294.8" x2="378.7" y2="290.0" stroke="#222" stroke-width="0.5"/>
<circle cx="378.7" cy="292.4" r="1.4" fill="#b5483c" stroke="#222" stroke-width="0.45"/>
<line x1="390.0" y1="286.4" x2="390.0" y2="279.2" stroke="#222" stroke-width="0.5"/>
<circle cx="390.0" cy="282.8" r="1.4" fill="#b5483c" stroke="#222" stroke-width="0.45"/>
<line x1="401.2" y1="281.0" x2="401.2" y2="270.3" stroke="#222" stroke-width="0.5"/>
<circle cx="401.2" cy="275.7" r="1.4" fill="#b5483c" stroke="#222" stroke-width="0.45"/>
<line x1="412.4" y1="278.7" x2="412.4" y2="264.3" stroke="#222" stroke-width="0.5"/>
<circle cx="412.4" cy="271.5" r="1.4" fill="#b5483c" stroke="#222" stroke-width="0.45"/>
<line x1="423.6" y1="277.5" x2="423.6" y2="259.5" stroke="#222" stroke-width="0.5"/>
<circle cx="423.6" cy="268.5" r="1.4" fill="#b5483c" stroke="#222" stroke-width="0.45"/>
<circle cx="356.3" cy="293.6" r="1.4" fill="#66751c" stroke="#222" stroke-width="0.45"/>
<circle cx="367.5" cy="293.6" r="1.4" fill="#66751c" stroke="#222" stroke-width="0.45"/>
<line x1="378.7" y1="294.8" x2="378.7" y2="291.2" stroke="#222" stroke-width="0.5"/>
<circle cx="378.7" cy="293.0" r="1.4" fill="#66751c" stroke="#222" stroke-width="0.45"/>
<line x1="390.0" y1="291.2" x2="390.0" y2="285.2" stroke="#222" stroke-width="0.5"/>
<circle cx="390.0" cy="288.2" r="1.4" fill="#66751c" stroke="#222" stroke-width="0.45"/>
<line x1="401.2" y1="289.4" x2="401.2" y2="281.0" stroke="#222" stroke-width="0.5"/>
<circle cx="401.2" cy="285.2" r="1.4" fill="#66751c" stroke="#222" stroke-width="0.45"/>
<line x1="412.4" y1="288.2" x2="412.4" y2="277.5" stroke="#222" stroke-width="0.5"/>
<circle cx="412.4" cy="282.8" r="1.4" fill="#66751c" stroke="#222" stroke-width="0.45"/>
<line x1="423.6" y1="287.0" x2="423.6" y2="275.1" stroke="#222" stroke-width="0.5"/>
<circle cx="423.6" cy="281.0" r="1.4" fill="#66751c" stroke="#222" stroke-width="0.45"/>
<circle cx="356.3" cy="293.6" r="1.4" fill="#8a45c8" stroke="#222" stroke-width="0.45"/>
<circle cx="367.5" cy="293.6" r="1.4" fill="#8a45c8" stroke="#222" stroke-width="0.45"/>
<line x1="378.7" y1="294.2" x2="378.7" y2="293.0" stroke="#222" stroke-width="0.5"/>
<circle cx="378.7" cy="293.6" r="1.4" fill="#8a45c8" stroke="#222" stroke-width="0.45"/>
<line x1="390.0" y1="294.2" x2="390.0" y2="291.8" stroke="#222" stroke-width="0.5"/>
<circle cx="390.0" cy="293.0" r="1.4" fill="#8a45c8" stroke="#222" stroke-width="0.45"/>
<line x1="401.2" y1="293.0" x2="401.2" y2="289.4" stroke="#222" stroke-width="0.5"/>
<circle cx="401.2" cy="291.2" r="1.4" fill="#8a45c8" stroke="#222" stroke-width="0.45"/>
<line x1="412.4" y1="293.0" x2="412.4" y2="287.0" stroke="#222" stroke-width="0.5"/>
<circle cx="412.4" cy="290.0" r="1.4" fill="#8a45c8" stroke="#222" stroke-width="0.45"/>
<line x1="423.6" y1="291.8" x2="423.6" y2="285.8" stroke="#222" stroke-width="0.5"/>
<circle cx="423.6" cy="288.8" r="1.4" fill="#8a45c8" stroke="#222" stroke-width="0.45"/>
<line x1="359.3" y1="235.2" x2="363.3" y2="235.2" stroke="#b5483c" stroke-width="0.5"/>
<circle cx="361.3" cy="235.2" r="1.15" fill="#b5483c" stroke="#222" stroke-width="0.4"/>
<text x="364.80" y="236.30" font-size="3.2" text-anchor="start" fill="#141414">Col-0</text>
<line x1="359.3" y1="240.2" x2="363.3" y2="240.2" stroke="#66751c" stroke-width="0.5"/>
<circle cx="361.3" cy="240.2" r="1.15" fill="#66751c" stroke="#222" stroke-width="0.4"/>
<text x="364.80" y="241.30" font-size="3.2" text-anchor="start" fill="#141414" font-style="italic">mutant 1</text>
<line x1="359.3" y1="245.2" x2="363.3" y2="245.2" stroke="#1f8a99" stroke-width="0.5"/>
<circle cx="361.3" cy="245.2" r="1.15" fill="#1f8a99" stroke="#222" stroke-width="0.4"/>
<text x="364.80" y="246.30" font-size="3.2" text-anchor="start" fill="#141414" font-style="italic">mutant 2</text>
<line x1="359.3" y1="250.2" x2="363.3" y2="250.2" stroke="#8a45c8" stroke-width="0.5"/>
<circle cx="361.3" cy="250.2" r="1.15" fill="#8a45c8" stroke="#222" stroke-width="0.4"/>
<text x="364.80" y="251.30" font-size="3.2" text-anchor="start" fill="#141414" font-style="italic">mutant 3</text>
<text x="350.80" y="295.00" font-size="4.0" text-anchor="end" fill="#333">0</text>
<line x1="351.8" y1="293.6" x2="352.8" y2="293.6" stroke="#333" stroke-width="0.4"/>
<text x="350.80" y="280.05" font-size="4.0" text-anchor="end" fill="#333">25</text>
<line x1="351.8" y1="278.7" x2="352.8" y2="278.7" stroke="#333" stroke-width="0.4"/>
<text x="350.80" y="265.10" font-size="4.0" text-anchor="end" fill="#333">50</text>
<line x1="351.8" y1="263.7" x2="352.8" y2="263.7" stroke="#333" stroke-width="0.4"/>
<text x="350.80" y="250.15" font-size="4.0" text-anchor="end" fill="#333">75</text>
<line x1="351.8" y1="248.8" x2="352.8" y2="248.8" stroke="#333" stroke-width="0.4"/>
<text x="350.80" y="235.20" font-size="4.0" text-anchor="end" fill="#333">100</text>
<line x1="351.8" y1="233.8" x2="352.8" y2="233.8" stroke="#333" stroke-width="0.4"/>
<text x="356.30" y="302.00" font-size="4.0" text-anchor="middle" fill="#333">1</text>
<text x="367.52" y="302.00" font-size="4.0" text-anchor="middle" fill="#333">2</text>
<text x="378.74" y="302.00" font-size="4.0" text-anchor="middle" fill="#333">3</text>
<text x="389.96" y="302.00" font-size="4.0" text-anchor="middle" fill="#333">4</text>
<text x="401.18" y="302.00" font-size="4.0" text-anchor="middle" fill="#333">5</text>
<text x="412.40" y="302.00" font-size="4.0" text-anchor="middle" fill="#333">6</text>
<text x="423.62" y="302.00" font-size="4.0" text-anchor="middle" fill="#333">7</text>
<text transform="translate(342.2,262.5) rotate(-90)" font-size="4.3" font-weight="bold" text-anchor="middle" fill="#111" textLength="34" lengthAdjust="spacingAndGlyphs">% Germination</text>
<text x="392.30" y="307.60" font-size="4.3" text-anchor="middle" fill="#111" font-weight="bold" textLength="52.50" lengthAdjust="spacingAndGlyphs">Days after stratification</text>
</g>
<g id="panel-b-image-analysis">
<rect x="39.7" y="330" width="400.9" height="101.5" fill="#000"/>
<rect x="137.65" y="330" width="1.3" height="101.5" fill="#d4d4d4"/>
<rect x="239.45" y="330" width="1.3" height="101.5" fill="#d4d4d4"/>
<rect x="341.35" y="330" width="1.3" height="101.5" fill="#d4d4d4"/>
<defs><filter id="bl" x="-50%" y="-50%" width="200%" height="200%"><feGaussianBlur stdDeviation="0.6"/></filter><filter id="bl2" x="-50%" y="-50%" width="200%" height="200%"><feGaussianBlur stdDeviation="0.35"/></filter></defs>
<g filter="url(#bl)">
<path d="M85.6,348.7 L84.7,350.2 L83.7,350.7 L82.2,350.2 L82.2,349.2 L82.6,347.6 L83.8,347.5 L84.9,347.6Z" fill="#e6e6e6" opacity="0.78" stroke-linejoin="round"/>
<path d="M87.1,350.3 L86.4,350.7 L85.0,351.7 L84.1,350.9 L83.6,349.9 L84.2,348.9 L85.2,348.3 L86.7,348.7Z" fill="#e6e6e6" opacity="0.78" stroke-linejoin="round"/>
<path d="M99.3,349.5 L99.0,350.7 L97.7,351.0 L96.9,351.1 L96.4,349.8 L97.0,348.5 L98.0,348.2 L98.8,348.8Z" fill="#e6e6e6" opacity="0.78" stroke-linejoin="round"/>
<circle cx="115.0" cy="349.9" r="1" fill="#777" opacity="0.5"/>
<path d="M52.2,375.8 L52.1,376.6 L51.2,377.0 L50.2,376.4 L49.8,375.8 L50.0,375.1 L51.1,374.6 L51.8,375.1Z" fill="#e6e6e6" opacity="0.78" stroke-linejoin="round"/>
<path d="M70.0,377.1 L69.2,378.2 L68.5,378.7 L67.0,378.5 L66.5,377.0 L67.0,375.8 L68.0,375.5 L69.3,375.6Z" fill="#e6e6e6" opacity="0.78" stroke-linejoin="round"/>
<path d="M117.4,377.8 L116.9,379.0 L115.7,379.7 L114.6,379.2 L114.1,378.2 L114.6,376.9 L115.8,376.3 L117.2,376.7Z" fill="#e6e6e6" opacity="0.78" stroke-linejoin="round"/>
<path d="M119.0,378.8 L118.1,380.0 L117.0,380.5 L116.2,379.7 L115.7,379.1 L116.3,377.7 L117.2,377.3 L118.7,377.7Z" fill="#e6e6e6" opacity="0.78" stroke-linejoin="round"/>
<path d="M54.8,389.2 L54.1,390.6 L52.8,391.4 L51.5,390.9 L51.0,389.7 L51.6,388.1 L52.9,387.4 L54.6,388.2Z" fill="#e6e6e6" opacity="0.78" stroke-linejoin="round"/>
<path d="M85.1,391.9 L85.2,392.6 L83.9,393.0 L82.7,392.6 L82.4,391.4 L82.9,390.4 L83.8,389.9 L85.1,390.5Z" fill="#e6e6e6" opacity="0.78" stroke-linejoin="round"/>
<path d="M86.8,392.7 L85.9,393.5 L85.1,393.9 L84.2,393.4 L83.7,392.6 L84.0,391.6 L84.9,391.2 L86.2,391.6Z" fill="#e6e6e6" opacity="0.78" stroke-linejoin="round"/>
<path d="M116.7,390.0 L116.4,391.0 L115.2,391.5 L114.0,391.3 L113.4,390.1 L113.9,388.6 L115.0,388.2 L116.1,389.1Z" fill="#e6e6e6" opacity="0.78" stroke-linejoin="round"/>
<path d="M98.1,417.1 L97.4,418.0 L97.0,418.4 L95.9,418.0 L95.5,416.9 L95.9,415.9 L96.4,415.5 L97.5,416.2Z" fill="#e6e6e6" opacity="0.78" stroke-linejoin="round"/>
<circle cx="52" cy="346" r="0.8" fill="#5a5a5a" opacity="0.3"/>
<circle cx="52" cy="362" r="0.8" fill="#5a5a5a" opacity="0.3"/>
<circle cx="52" cy="376.5" r="0.8" fill="#5a5a5a" opacity="0.3"/>
<circle cx="52" cy="390" r="0.8" fill="#5a5a5a" opacity="0.3"/>
<circle cx="52" cy="404" r="0.8" fill="#5a5a5a" opacity="0.3"/>
<circle cx="52" cy="417.5" r="0.8" fill="#5a5a5a" opacity="0.3"/>
<circle cx="68.5" cy="346" r="0.8" fill="#5a5a5a" opacity="0.3"/>
<circle cx="68.5" cy="362" r="0.8" fill="#5a5a5a" opacity="0.3"/>
<circle cx="68.5" cy="376.5" r="0.8" fill="#5a5a5a" opacity="0.3"/>
<circle cx="68.5" cy="390" r="0.8" fill="#5a5a5a" opacity="0.3"/>
<circle cx="68.5" cy="404" r="0.8" fill="#5a5a5a" opacity="0.3"/>
<circle cx="68.5" cy="417.5" r="0.8" fill="#5a5a5a" opacity="0.3"/>
<circle cx="84.5" cy="346" r="0.8" fill="#5a5a5a" opacity="0.3"/>
<circle cx="84.5" cy="362" r="0.8" fill="#5a5a5a" opacity="0.3"/>
<circle cx="84.5" cy="376.5" r="0.8" fill="#5a5a5a" opacity="0.3"/>
<circle cx="84.5" cy="390" r="0.8" fill="#5a5a5a" opacity="0.3"/>
<circle cx="84.5" cy="404" r="0.8" fill="#5a5a5a" opacity="0.3"/>
<circle cx="84.5" cy="417.5" r="0.8" fill="#5a5a5a" opacity="0.3"/>
<circle cx="98" cy="346" r="0.8" fill="#5a5a5a" opacity="0.3"/>
<circle cx="98" cy="362" r="0.8" fill="#5a5a5a" opacity="0.3"/>
<circle cx="98" cy="376.5" r="0.8" fill="#5a5a5a" opacity="0.3"/>
<circle cx="98" cy="390" r="0.8" fill="#5a5a5a" opacity="0.3"/>
<circle cx="98" cy="404" r="0.8" fill="#5a5a5a" opacity="0.3"/>
<circle cx="98" cy="417.5" r="0.8" fill="#5a5a5a" opacity="0.3"/>
<circle cx="115.5" cy="346" r="0.8" fill="#5a5a5a" opacity="0.3"/>
<circle cx="115.5" cy="362" r="0.8" fill="#5a5a5a" opacity="0.3"/>
<circle cx="115.5" cy="376.5" r="0.8" fill="#5a5a5a" opacity="0.3"/>
<circle cx="115.5" cy="390" r="0.8" fill="#5a5a5a" opacity="0.3"/>
<circle cx="115.5" cy="404" r="0.8" fill="#5a5a5a" opacity="0.3"/>
<circle cx="115.5" cy="417.5" r="0.8" fill="#5a5a5a" opacity="0.3"/>
<circle cx="130" cy="346" r="0.8" fill="#5a5a5a" opacity="0.3"/>
<circle cx="130" cy="362" r="0.8" fill="#5a5a5a" opacity="0.3"/>
<circle cx="130" cy="376.5" r="0.8" fill="#5a5a5a" opacity="0.3"/>
<circle cx="130" cy="390" r="0.8" fill="#5a5a5a" opacity="0.3"/>
<circle cx="130" cy="404" r="0.8" fill="#5a5a5a" opacity="0.3"/>
<circle cx="130" cy="417.5" r="0.8" fill="#5a5a5a" opacity="0.3"/>
</g>
<g filter="url(#bl2)">
<path d="M193.4,348.5 L191.9,351.1 L190.2,351.9 L187.8,351.1 L187.7,349.4 L188.4,346.7 L190.4,346.5 L192.3,346.7Z" fill="#f20d0d" opacity="1" stroke-linejoin="round"/>
<path d="M195.9,351.2 L194.8,352.0 L192.4,353.5 L190.9,352.3 L190.0,350.5 L191.1,348.8 L192.8,347.9 L195.3,348.5Z" fill="#f20d0d" opacity="1" stroke-linejoin="round"/>
<path d="M207.1,349.7 L206.5,351.8 L204.4,352.2 L202.9,352.3 L202.2,350.2 L203.1,347.9 L204.8,347.5 L206.2,348.5Z" fill="#f20d0d" opacity="1" stroke-linejoin="round"/>
<path d="M222.4,350.3 L222.1,350.6 L221.8,350.8 L221.2,350.7 L221.0,350.2 L221.2,349.8 L221.8,349.6 L222.2,349.8Z" fill="#f20d0d" opacity="1" stroke-linejoin="round"/>
<path d="M159.7,376.1 L159.5,377.5 L158.1,378.1 L156.3,377.1 L155.6,376.1 L156.1,375.0 L157.9,374.1 L159.1,374.9Z" fill="#f20d0d" opacity="1" stroke-linejoin="round"/>
<path d="M177.9,377.4 L176.6,379.3 L175.4,380.1 L172.9,379.8 L172.0,377.2 L172.8,375.2 L174.5,374.6 L176.8,374.8Z" fill="#f20d0d" opacity="1" stroke-linejoin="round"/>
<path d="M224.7,377.7 L223.9,379.8 L222.0,380.9 L220.0,380.2 L219.3,378.4 L220.0,376.2 L222.1,375.2 L224.4,375.9Z" fill="#f20d0d" opacity="1" stroke-linejoin="round"/>
<path d="M227.4,379.5 L225.9,381.5 L224.2,382.3 L222.7,381.0 L221.9,380.0 L222.9,377.5 L224.5,376.9 L226.9,377.6Z" fill="#f20d0d" opacity="1" stroke-linejoin="round"/>
<path d="M162.9,389.4 L161.7,391.7 L159.5,393.1 L157.2,392.1 L156.5,390.1 L157.5,387.5 L159.7,386.3 L162.5,387.6Z" fill="#f20d0d" opacity="1" stroke-linejoin="round"/>
<path d="M192.3,392.1 L192.5,393.3 L190.3,393.9 L188.1,393.3 L187.6,391.3 L188.6,389.6 L190.1,388.7 L192.2,389.8Z" fill="#f20d0d" opacity="1" stroke-linejoin="round"/>
<path d="M195.1,393.6 L193.6,394.8 L192.3,395.5 L190.8,394.6 L190.0,393.4 L190.5,391.6 L192.0,391.0 L194.2,391.5Z" fill="#f20d0d" opacity="1" stroke-linejoin="round"/>
<path d="M224.6,390.4 L224.1,392.1 L222.0,393.0 L220.0,392.5 L218.9,390.6 L219.9,388.0 L221.6,387.3 L223.6,388.9Z" fill="#f20d0d" opacity="1" stroke-linejoin="round"/>
<path d="M205.8,417.4 L204.6,419.0 L203.8,419.7 L202.0,418.9 L201.4,417.0 L202.1,415.5 L203.0,414.8 L204.8,416.0Z" fill="#f20d0d" opacity="1" stroke-linejoin="round"/>
</g>
<g filter="url(#bl2)">
<path d="M290.4,348.3 L288.9,350.7 L287.3,351.5 L285.0,350.7 L284.9,349.1 L285.6,346.5 L287.6,346.4 L289.4,346.6Z" fill="#fff" opacity="1" stroke-linejoin="round"/>
<path d="M292.8,350.8 L291.7,351.6 L289.5,353.1 L288.0,351.9 L287.1,350.1 L288.2,348.5 L289.8,347.7 L292.2,348.3Z" fill="#fff" opacity="1" stroke-linejoin="round"/>
<rect x="299.1" y="347.2" width="5.0" height="5.0" rx="0.9" fill="#fff" opacity="1"/>
<path d="M319.4,350.0 L319.2,350.3 L318.9,350.5 L318.4,350.3 L318.2,349.9 L318.3,349.5 L318.9,349.3 L319.2,349.5Z" fill="#fff" opacity="1" stroke-linejoin="round"/>
<path d="M256.7,375.8 L256.5,377.1 L255.2,377.7 L253.4,376.8 L252.8,375.8 L253.3,374.7 L255.0,373.9 L256.1,374.7Z" fill="#fff" opacity="1" stroke-linejoin="round"/>
<path d="M274.8,377.1 L273.6,378.9 L272.5,379.7 L270.1,379.4 L269.2,376.9 L270.0,375.0 L271.6,374.5 L273.9,374.7Z" fill="#fff" opacity="1" stroke-linejoin="round"/>
<path d="M321.7,377.5 L321.0,379.5 L319.1,380.5 L317.2,379.8 L316.5,378.1 L317.2,376.0 L319.3,375.1 L321.5,375.7Z" fill="#fff" opacity="1" stroke-linejoin="round"/>
<path d="M324.3,379.1 L322.9,381.1 L321.2,381.8 L319.8,380.6 L319.1,379.6 L320.0,377.3 L321.5,376.7 L323.8,377.4Z" fill="#fff" opacity="1" stroke-linejoin="round"/>
<path d="M259.8,389.1 L258.7,391.4 L256.6,392.6 L254.5,391.7 L253.7,389.8 L254.7,387.3 L256.8,386.1 L259.4,387.4Z" fill="#fff" opacity="1" stroke-linejoin="round"/>
<path d="M289.3,391.8 L289.5,393.0 L287.4,393.6 L285.4,393.0 L284.9,391.0 L285.8,389.5 L287.3,388.6 L289.3,389.6Z" fill="#fff" opacity="1" stroke-linejoin="round"/>
<path d="M292.0,393.2 L290.6,394.4 L289.3,395.0 L287.9,394.2 L287.1,393.0 L287.6,391.3 L289.0,390.8 L291.1,391.3Z" fill="#fff" opacity="1" stroke-linejoin="round"/>
<path d="M321.6,390.1 L321.1,391.7 L319.1,392.5 L317.2,392.1 L316.1,390.3 L317.1,387.8 L318.7,387.1 L320.6,388.7Z" fill="#fff" opacity="1" stroke-linejoin="round"/>
<path d="M302.8,417.1 L301.6,418.6 L300.9,419.3 L299.2,418.5 L298.6,416.8 L299.3,415.3 L300.1,414.6 L301.9,415.7Z" fill="#fff" opacity="1" stroke-linejoin="round"/>
</g>
<g filter="url(#bl2)">
<path d="M397.1,349.3 L395.5,352.0 L393.7,352.8 L391.2,352.0 L391.1,350.2 L391.9,347.4 L394.0,347.2 L396.0,347.4Z" fill="#fffbd0" opacity="1" stroke-linejoin="round" stroke="#ffe81a" stroke-width="1.5"/>
<path d="M399.7,352.0 L398.6,352.9 L396.1,354.5 L394.4,353.2 L393.5,351.3 L394.7,349.5 L396.4,348.6 L399.1,349.3Z" fill="#fffbd0" opacity="1" stroke-linejoin="round" stroke="#ffe81a" stroke-width="1.5"/>
<rect x="405.7" y="347.9" width="5.2" height="5.2" rx="0.9" fill="#fffbd0" opacity="1" stroke="#ffe81a" stroke-width="1.5"/>
<path d="M427.3,350.6 L427.0,350.9 L426.7,351.2 L426.1,351.0 L425.9,350.5 L426.1,350.1 L426.7,349.9 L427.1,350.0Z" fill="#fffbd0" opacity="1" stroke-linejoin="round" stroke="#ffe81a" stroke-width="1.5"/>
<path d="M361.6,378.1 L361.4,379.5 L359.9,380.2 L358.0,379.2 L357.3,378.1 L357.8,376.9 L359.7,376.0 L361.0,376.9Z" fill="#fffbd0" opacity="1" stroke-linejoin="round" stroke="#ffe81a" stroke-width="1.5"/>
<path d="M380.5,379.3 L379.1,381.3 L378.0,382.1 L375.3,381.8 L374.3,379.1 L375.2,377.0 L377.0,376.4 L379.4,376.6Z" fill="#fffbd0" opacity="1" stroke-linejoin="round" stroke="#ffe81a" stroke-width="1.5"/>
<path d="M430.4,380.1 L429.6,382.3 L427.5,383.4 L425.4,382.7 L424.7,380.8 L425.4,378.5 L427.7,377.5 L430.1,378.2Z" fill="#fffbd0" opacity="1" stroke-linejoin="round" stroke="#ffe81a" stroke-width="1.5"/>
<path d="M433.2,381.9 L431.6,384.1 L429.8,384.9 L428.3,383.5 L427.5,382.4 L428.5,379.9 L430.2,379.2 L432.7,380.0Z" fill="#fffbd0" opacity="1" stroke-linejoin="round" stroke="#ffe81a" stroke-width="1.5"/>
<path d="M365.2,392.1 L363.9,394.6 L361.6,396.0 L359.2,395.0 L358.5,392.9 L359.5,390.1 L361.9,388.9 L364.7,390.3Z" fill="#fffbd0" opacity="1" stroke-linejoin="round" stroke="#ffe81a" stroke-width="1.5"/>
<path d="M395.5,394.2 L395.7,395.5 L393.4,396.1 L391.2,395.5 L390.7,393.4 L391.7,391.6 L393.3,390.7 L395.5,391.7Z" fill="#fffbd0" opacity="1" stroke-linejoin="round" stroke="#ffe81a" stroke-width="1.5"/>
<path d="M398.5,395.7 L396.9,397.0 L395.5,397.7 L394.0,396.8 L393.1,395.5 L393.6,393.6 L395.2,393.0 L397.5,393.6Z" fill="#fffbd0" opacity="1" stroke-linejoin="round" stroke="#ffe81a" stroke-width="1.5"/>
<path d="M429.7,393.3 L429.1,395.0 L427.0,395.9 L424.9,395.4 L423.7,393.4 L424.7,390.7 L426.5,389.9 L428.6,391.6Z" fill="#fffbd0" opacity="1" stroke-linejoin="round" stroke="#ffe81a" stroke-width="1.5"/>
<path d="M410.1,421.1 L408.8,422.8 L408.0,423.5 L406.1,422.7 L405.5,420.7 L406.2,419.1 L407.1,418.4 L409.1,419.6Z" fill="#fffbd0" opacity="1" stroke-linejoin="round" stroke="#ffe81a" stroke-width="1.5"/>
</g>
<text x="389.00" y="343.70" font-size="10.6" text-anchor="middle" fill="#19e0ea" font-weight="bold">1</text>
<text x="407.60" y="343.70" font-size="10.6" text-anchor="middle" fill="#19e0ea" font-weight="bold">2</text>
<text x="425.50" y="343.70" font-size="10.6" text-anchor="middle" fill="#19e0ea" font-weight="bold">3</text>
<text x="358.50" y="372.50" font-size="10.6" text-anchor="middle" fill="#19e0ea" font-weight="bold">4</text>
<text x="377.80" y="372.80" font-size="10.6" text-anchor="middle" fill="#19e0ea" font-weight="bold">5</text>
<text x="425.20" y="373.50" font-size="10.6" text-anchor="middle" fill="#19e0ea" font-weight="bold">6</text>
<text x="353.50" y="389.00" font-size="10.6" text-anchor="middle" fill="#19e0ea" font-weight="bold">7</text>
<text x="393.20" y="389.30" font-size="10.6" text-anchor="middle" fill="#19e0ea" font-weight="bold">8</text>
<text x="418.50" y="395.30" font-size="10.6" text-anchor="middle" fill="#19e0ea" font-weight="bold">9</text>
<text x="406.20" y="415.70" font-size="10.6" text-anchor="middle" fill="#19e0ea" font-weight="bold">10</text>
<text x="39.6" y="444.0" font-size="12.25" fill="#111" textLength="94.7" lengthAdjust="spacingAndGlyphs">Original F<tspan font-size="5.5" dy="1.2">m</tspan><tspan dy="-1.2"> image</tspan></text>
<text x="188.50" y="444.00" font-size="12.25" text-anchor="middle" fill="#111">Select seedlings</text>
<text x="188.50" y="457.60" font-size="12.25" text-anchor="middle" fill="#111">by pixel</text>
<text x="188.50" y="471.20" font-size="12.25" text-anchor="middle" fill="#111">thresholding</text>
<text x="291.90" y="444.00" font-size="12.25" text-anchor="middle" fill="#111">Convert to binary</text>
<text x="393.10" y="444.00" font-size="12.25" text-anchor="middle" fill="#111">Seedling count</text>
</g>
<g id="germination-charts">
<rect x="517.6" y="27.0" width="105.6" height="80.4" fill="#fff"/>
<g stroke="#e6e6e6"><line x1="532.6" y1="27.0" x2="532.6" y2="107.4" stroke-width="0.4"/><line x1="547.8" y1="27.0" x2="547.8" y2="107.4" stroke-width="0.4"/><line x1="562.9" y1="27.0" x2="562.9" y2="107.4" stroke-width="0.4"/><line x1="578.0" y1="27.0" x2="578.0" y2="107.4" stroke-width="0.4"/><line x1="593.1" y1="27.0" x2="593.1" y2="107.4" stroke-width="0.4"/><line x1="608.1" y1="27.0" x2="608.1" y2="107.4" stroke-width="0.4"/><line x1="517.6" y1="94.5" x2="623.2" y2="94.5" stroke-width="0.4"/><line x1="517.6" y1="76.8" x2="623.2" y2="76.8" stroke-width="0.4"/><line x1="517.6" y1="59.1" x2="623.2" y2="59.1" stroke-width="0.4"/><line x1="517.6" y1="41.4" x2="623.2" y2="41.4" stroke-width="0.4"/><line x1="525.1" y1="27.0" x2="525.1" y2="107.4" stroke-width="0.8"/><line x1="540.2" y1="27.0" x2="540.2" y2="107.4" stroke-width="0.8"/><line x1="555.3" y1="27.0" x2="555.3" y2="107.4" stroke-width="0.8"/><line x1="570.4" y1="27.0" x2="570.4" y2="107.4" stroke-width="0.8"/><line x1="585.5" y1="27.0" x2="585.5" y2="107.4" stroke-width="0.8"/><line x1="600.6" y1="27.0" x2="600.6" y2="107.4" stroke-width="0.8"/><line x1="615.7" y1="27.0" x2="615.7" y2="107.4" stroke-width="0.8"/><line x1="517.6" y1="103.3" x2="623.2" y2="103.3" stroke-width="0.8"/><line x1="517.6" y1="85.6" x2="623.2" y2="85.6" stroke-width="0.8"/><line x1="517.6" y1="68.0" x2="623.2" y2="68.0" stroke-width="0.8"/><line x1="517.6" y1="50.3" x2="623.2" y2="50.3" stroke-width="0.8"/><line x1="517.6" y1="32.6" x2="623.2" y2="32.6" stroke-width="0.8"/></g>
<g fill="#f8766d" fill-opacity="0.24">
<circle cx="541.8" cy="87.7" r="2"/>
<circle cx="541.4" cy="86.0" r="2"/>
<circle cx="542.0" cy="94.4" r="2"/>
<circle cx="540.4" cy="102.4" r="2"/>
<circle cx="537.5" cy="85.2" r="2"/>
<circle cx="557.9" cy="36.7" r="2"/>
<circle cx="554.2" cy="35.3" r="2"/>
<circle cx="556.9" cy="40.2" r="2"/>
<circle cx="553.4" cy="38.2" r="2"/>
<circle cx="554.4" cy="36.4" r="2"/>
<circle cx="568.7" cy="35.9" r="2"/>
<circle cx="573.1" cy="36.0" r="2"/>
<circle cx="572.3" cy="36.2" r="2"/>
<circle cx="568.4" cy="34.8" r="2"/>
<circle cx="567.4" cy="34.3" r="2"/>
<circle cx="584.9" cy="33.0" r="2"/>
<circle cx="583.7" cy="32.4" r="2"/>
<circle cx="587.5" cy="34.0" r="2"/>
<circle cx="585.2" cy="31.9" r="2"/>
<circle cx="586.3" cy="33.0" r="2"/>
<circle cx="600.9" cy="32.1" r="2"/>
<circle cx="603.4" cy="32.9" r="2"/>
<circle cx="602.2" cy="33.9" r="2"/>
<circle cx="600.6" cy="33.7" r="2"/>
<circle cx="600.8" cy="33.0" r="2"/>
<circle cx="614.8" cy="31.2" r="2"/>
<circle cx="615.6" cy="32.0" r="2"/>
<circle cx="617.3" cy="33.4" r="2"/>
<circle cx="616.6" cy="31.7" r="2"/>
<circle cx="614.2" cy="34.7" r="2"/>
</g>
<g fill="#f8766d" fill-opacity="0.24">
<path d="M541.5,99.6l2.3,4.1h-4.6z"/>
<path d="M541.8,100.9l2.3,4.1h-4.6z"/>
<path d="M540.7,100.9l2.3,4.1h-4.6z"/>
<path d="M538.1,100.9l2.3,4.1h-4.6z"/>
<path d="M538.2,100.9l2.3,4.1h-4.6z"/>
<path d="M556.8,100.9l2.3,4.1h-4.6z"/>
<path d="M552.6,99.8l2.3,4.1h-4.6z"/>
<path d="M555.9,100.5l2.3,4.1h-4.6z"/>
<path d="M556.0,99.1l2.3,4.1h-4.6z"/>
<path d="M556.2,97.7l2.3,4.1h-4.6z"/>
<path d="M569.4,88.2l2.3,4.1h-4.6z"/>
<path d="M567.5,97.8l2.3,4.1h-4.6z"/>
<path d="M570.6,84.5l2.3,4.1h-4.6z"/>
<path d="M571.7,85.0l2.3,4.1h-4.6z"/>
<path d="M573.0,86.3l2.3,4.1h-4.6z"/>
<path d="M584.9,71.8l2.3,4.1h-4.6z"/>
<path d="M586.5,81.3l2.3,4.1h-4.6z"/>
<path d="M585.4,89.0l2.3,4.1h-4.6z"/>
<path d="M583.5,90.1l2.3,4.1h-4.6z"/>
<path d="M587.3,82.2l2.3,4.1h-4.6z"/>
<path d="M598.8,71.7l2.3,4.1h-4.6z"/>
<path d="M599.1,76.4l2.3,4.1h-4.6z"/>
<path d="M601.4,69.2l2.3,4.1h-4.6z"/>
<path d="M598.3,70.8l2.3,4.1h-4.6z"/>
<path d="M600.0,50.6l2.3,4.1h-4.6z"/>
<path d="M615.9,58.3l2.3,4.1h-4.6z"/>
<path d="M615.4,80.4l2.3,4.1h-4.6z"/>
<path d="M613.9,68.1l2.3,4.1h-4.6z"/>
<path d="M613.6,77.6l2.3,4.1h-4.6z"/>
<path d="M614.0,74.1l2.3,4.1h-4.6z"/>
</g>
<g fill="#1aa7f5" fill-opacity="0.24">
<circle cx="540.8" cy="103.3" r="2"/>
<circle cx="543.1" cy="81.3" r="2"/>
<circle cx="541.5" cy="100.8" r="2"/>
<circle cx="538.3" cy="89.3" r="2"/>
<circle cx="538.8" cy="83.6" r="2"/>
<circle cx="553.9" cy="36.9" r="2"/>
<circle cx="558.3" cy="41.0" r="2"/>
<circle cx="555.7" cy="31.2" r="2"/>
<circle cx="552.8" cy="36.8" r="2"/>
<circle cx="554.1" cy="36.1" r="2"/>
<circle cx="572.5" cy="36.8" r="2"/>
<circle cx="572.3" cy="37.5" r="2"/>
<circle cx="570.1" cy="36.9" r="2"/>
<circle cx="571.8" cy="31.2" r="2"/>
<circle cx="567.5" cy="31.2" r="2"/>
<circle cx="586.2" cy="31.2" r="2"/>
<circle cx="583.4" cy="35.6" r="2"/>
<circle cx="587.8" cy="31.2" r="2"/>
<circle cx="586.7" cy="31.2" r="2"/>
<circle cx="585.5" cy="33.2" r="2"/>
<circle cx="600.3" cy="32.4" r="2"/>
<circle cx="598.9" cy="31.5" r="2"/>
<circle cx="600.9" cy="31.2" r="2"/>
<circle cx="599.2" cy="31.2" r="2"/>
<circle cx="598.4" cy="35.4" r="2"/>
<circle cx="616.2" cy="35.4" r="2"/>
<circle cx="614.5" cy="34.2" r="2"/>
<circle cx="617.9" cy="33.8" r="2"/>
<circle cx="615.1" cy="34.6" r="2"/>
<circle cx="615.5" cy="34.0" r="2"/>
</g>
<g fill="#1aa7f5" fill-opacity="0.24">
<path d="M537.7,100.9l2.3,4.1h-4.6z"/>
<path d="M537.5,100.9l2.3,4.1h-4.6z"/>
<path d="M538.1,100.9l2.3,4.1h-4.6z"/>
<path d="M537.8,100.8l2.3,4.1h-4.6z"/>
<path d="M537.8,99.6l2.3,4.1h-4.6z"/>
<path d="M555.7,97.1l2.3,4.1h-4.6z"/>
<path d="M556.9,97.8l2.3,4.1h-4.6z"/>
<path d="M555.8,99.9l2.3,4.1h-4.6z"/>
<path d="M556.7,95.7l2.3,4.1h-4.6z"/>
<path d="M554.6,92.7l2.3,4.1h-4.6z"/>
<path d="M572.4,87.3l2.3,4.1h-4.6z"/>
<path d="M572.5,92.9l2.3,4.1h-4.6z"/>
<path d="M572.1,76.2l2.3,4.1h-4.6z"/>
<path d="M572.9,77.7l2.3,4.1h-4.6z"/>
<path d="M572.1,93.0l2.3,4.1h-4.6z"/>
<path d="M584.6,72.4l2.3,4.1h-4.6z"/>
<path d="M585.5,84.7l2.3,4.1h-4.6z"/>
<path d="M585.8,85.7l2.3,4.1h-4.6z"/>
<path d="M582.8,77.6l2.3,4.1h-4.6z"/>
<path d="M585.4,77.6l2.3,4.1h-4.6z"/>
<path d="M597.9,91.8l2.3,4.1h-4.6z"/>
<path d="M603.0,85.1l2.3,4.1h-4.6z"/>
<path d="M597.8,76.2l2.3,4.1h-4.6z"/>
<path d="M600.8,95.9l2.3,4.1h-4.6z"/>
<path d="M601.7,67.0l2.3,4.1h-4.6z"/>
<path d="M612.9,88.1l2.3,4.1h-4.6z"/>
<path d="M618.6,90.7l2.3,4.1h-4.6z"/>
<path d="M612.8,87.6l2.3,4.1h-4.6z"/>
<path d="M613.4,80.2l2.3,4.1h-4.6z"/>
<path d="M614.5,62.4l2.3,4.1h-4.6z"/>
</g>
<polyline points="525.1,103.3 540.2,93.4 555.3,39.0 570.4,34.0 585.5,32.6 600.6,32.6 615.7,32.6" fill="none" stroke="#f9867c" stroke-width="1.2" stroke-linejoin="round"/>
<polyline points="525.1,103.3 540.2,103.3 555.3,101.9 570.4,90.6 585.5,81.4 600.6,76.4 615.7,72.2" fill="none" stroke="#f9867c" stroke-width="1.2" stroke-linejoin="round"/>
<polyline points="525.1,103.3 540.2,94.1 555.3,36.8 570.4,34.0 585.5,33.3 600.6,33.3 615.7,33.3" fill="none" stroke="#2baef7" stroke-width="1.2" stroke-linejoin="round" stroke-dasharray="4.2 2.4"/>
<polyline points="525.1,103.3 540.2,103.3 555.3,101.9 570.4,92.7 585.5,88.5 600.6,87.0 615.7,86.3" fill="none" stroke="#2baef7" stroke-width="1.2" stroke-linejoin="round" stroke-dasharray="4.2 2.4"/>
<path d="M540.2,90.6 V96.2 M538.6,90.6 h3.2 M538.6,96.2 h3.2" stroke="#111" stroke-width="0.6" fill="none"/>
<path d="M555.3,37.5 V40.4 M553.7,37.5 h3.2 M553.7,40.4 h3.2" stroke="#111" stroke-width="0.6" fill="none"/>
<path d="M555.3,101.2 V102.6 M553.7,101.2 h3.2 M553.7,102.6 h3.2" stroke="#111" stroke-width="0.6" fill="none"/>
<path d="M570.4,88.1 V93.0 M568.8,88.1 h3.2 M568.8,93.0 h3.2" stroke="#111" stroke-width="0.6" fill="none"/>
<path d="M585.5,78.9 V83.9 M583.9,78.9 h3.2 M583.9,83.9 h3.2" stroke="#111" stroke-width="0.6" fill="none"/>
<path d="M600.6,72.9 V80.0 M599.0,72.9 h3.2 M599.0,80.0 h3.2" stroke="#111" stroke-width="0.6" fill="none"/>
<path d="M615.7,68.3 V76.1 M614.1,68.3 h3.2 M614.1,76.1 h3.2" stroke="#111" stroke-width="0.6" fill="none"/>
<path d="M540.2,90.6 V97.6 M538.6,90.6 h3.2 M538.6,97.6 h3.2" stroke="#111" stroke-width="0.6" fill="none"/>
<path d="M555.3,35.1 V38.6 M553.7,35.1 h3.2 M553.7,38.6 h3.2" stroke="#111" stroke-width="0.6" fill="none"/>
<path d="M570.4,33.0 V35.1 M568.8,33.0 h3.2 M568.8,35.1 h3.2" stroke="#111" stroke-width="0.6" fill="none"/>
<path d="M585.5,32.6 V34.0 M583.9,32.6 h3.2 M583.9,34.0 h3.2" stroke="#111" stroke-width="0.6" fill="none"/>
<path d="M600.6,32.6 V34.0 M599.0,32.6 h3.2 M599.0,34.0 h3.2" stroke="#111" stroke-width="0.6" fill="none"/>
<path d="M615.7,32.6 V34.0 M614.1,32.6 h3.2 M614.1,34.0 h3.2" stroke="#111" stroke-width="0.6" fill="none"/>
<path d="M555.3,100.8 V102.9 M553.7,100.8 h3.2 M553.7,102.9 h3.2" stroke="#111" stroke-width="0.6" fill="none"/>
<path d="M570.4,89.9 V95.5 M568.8,89.9 h3.2 M568.8,95.5 h3.2" stroke="#111" stroke-width="0.6" fill="none"/>
<path d="M585.5,85.6 V91.3 M583.9,85.6 h3.2 M583.9,91.3 h3.2" stroke="#111" stroke-width="0.6" fill="none"/>
<path d="M600.6,83.5 V90.6 M599.0,83.5 h3.2 M599.0,90.6 h3.2" stroke="#111" stroke-width="0.6" fill="none"/>
<path d="M615.7,82.8 V89.9 M614.1,82.8 h3.2 M614.1,89.9 h3.2" stroke="#111" stroke-width="0.6" fill="none"/>
<circle cx="525.1" cy="103.3" r="2.1" fill="#ee6a5f" stroke="#1a1a1a" stroke-width="0.7"/>
<circle cx="540.2" cy="93.4" r="2.1" fill="#ee6a5f" stroke="#1a1a1a" stroke-width="0.7"/>
<circle cx="555.3" cy="39.0" r="2.1" fill="#ee6a5f" stroke="#1a1a1a" stroke-width="0.7"/>
<circle cx="570.4" cy="34.0" r="2.1" fill="#ee6a5f" stroke="#1a1a1a" stroke-width="0.7"/>
<circle cx="585.5" cy="32.6" r="2.1" fill="#ee6a5f" stroke="#1a1a1a" stroke-width="0.7"/>
<circle cx="600.6" cy="32.6" r="2.1" fill="#ee6a5f" stroke="#1a1a1a" stroke-width="0.7"/>
<circle cx="615.7" cy="32.6" r="2.1" fill="#ee6a5f" stroke="#1a1a1a" stroke-width="0.7"/>
<polygon points="525.1,100.8 527.5,105.1 522.7,105.1" fill="#ee6a5f" stroke="#1a1a1a" stroke-width="0.7" stroke-linejoin="round"/>
<polygon points="540.2,100.8 542.6,105.1 537.8,105.1" fill="#ee6a5f" stroke="#1a1a1a" stroke-width="0.7" stroke-linejoin="round"/>
<polygon points="555.3,99.4 557.7,103.7 552.9,103.7" fill="#ee6a5f" stroke="#1a1a1a" stroke-width="0.7" stroke-linejoin="round"/>
<polygon points="570.4,88.1 572.8,92.4 568.0,92.4" fill="#ee6a5f" stroke="#1a1a1a" stroke-width="0.7" stroke-linejoin="round"/>
<polygon points="585.5,78.9 587.9,83.2 583.1,83.2" fill="#ee6a5f" stroke="#1a1a1a" stroke-width="0.7" stroke-linejoin="round"/>
<polygon points="600.6,73.9 603.0,78.2 598.2,78.2" fill="#ee6a5f" stroke="#1a1a1a" stroke-width="0.7" stroke-linejoin="round"/>
<polygon points="615.7,69.7 618.1,74.0 613.3,74.0" fill="#ee6a5f" stroke="#1a1a1a" stroke-width="0.7" stroke-linejoin="round"/>
<circle cx="525.1" cy="103.3" r="2.1" fill="#12a0f0" stroke="#1a1a1a" stroke-width="0.7"/>
<circle cx="540.2" cy="94.1" r="2.1" fill="#12a0f0" stroke="#1a1a1a" stroke-width="0.7"/>
<circle cx="555.3" cy="36.8" r="2.1" fill="#12a0f0" stroke="#1a1a1a" stroke-width="0.7"/>
<circle cx="570.4" cy="34.0" r="2.1" fill="#12a0f0" stroke="#1a1a1a" stroke-width="0.7"/>
<circle cx="585.5" cy="33.3" r="2.1" fill="#12a0f0" stroke="#1a1a1a" stroke-width="0.7"/>
<circle cx="600.6" cy="33.3" r="2.1" fill="#12a0f0" stroke="#1a1a1a" stroke-width="0.7"/>
<circle cx="615.7" cy="33.3" r="2.1" fill="#12a0f0" stroke="#1a1a1a" stroke-width="0.7"/>
<polygon points="525.1,100.8 527.5,105.1 522.7,105.1" fill="#12a0f0" stroke="#1a1a1a" stroke-width="0.7" stroke-linejoin="round"/>
<polygon points="540.2,100.8 542.6,105.1 537.8,105.1" fill="#12a0f0" stroke="#1a1a1a" stroke-width="0.7" stroke-linejoin="round"/>
<polygon points="555.3,99.4 557.7,103.7 552.9,103.7" fill="#12a0f0" stroke="#1a1a1a" stroke-width="0.7" stroke-linejoin="round"/>
<polygon points="570.4,90.2 572.8,94.5 568.0,94.5" fill="#12a0f0" stroke="#1a1a1a" stroke-width="0.7" stroke-linejoin="round"/>
<polygon points="585.5,86.0 587.9,90.3 583.1,90.3" fill="#12a0f0" stroke="#1a1a1a" stroke-width="0.7" stroke-linejoin="round"/>
<polygon points="600.6,84.5 603.0,88.8 598.2,88.8" fill="#12a0f0" stroke="#1a1a1a" stroke-width="0.7" stroke-linejoin="round"/>
<polygon points="615.7,83.8 618.1,88.1 613.3,88.1" fill="#12a0f0" stroke="#1a1a1a" stroke-width="0.7" stroke-linejoin="round"/>
<rect x="517.6" y="27.0" width="105.6" height="80.4" fill="none" stroke="#4a4a4a" stroke-width="1.1"/>
<g stroke="#333" stroke-width="0.7"><line x1="515.0" y1="103.3" x2="517.1" y2="103.3"/><line x1="515.0" y1="85.6" x2="517.1" y2="85.6"/><line x1="515.0" y1="68.0" x2="517.1" y2="68.0"/><line x1="515.0" y1="50.3" x2="517.1" y2="50.3"/><line x1="515.0" y1="32.6" x2="517.1" y2="32.6"/><line x1="525.1" y1="107.9" x2="525.1" y2="110.0"/><line x1="540.2" y1="107.9" x2="540.2" y2="110.0"/><line x1="555.3" y1="107.9" x2="555.3" y2="110.0"/><line x1="570.4" y1="107.9" x2="570.4" y2="110.0"/><line x1="585.5" y1="107.9" x2="585.5" y2="110.0"/><line x1="600.6" y1="107.9" x2="600.6" y2="110.0"/><line x1="615.7" y1="107.9" x2="615.7" y2="110.0"/></g>
<g font-size="6.6" fill="#4d4d4d">
<text x="514.00" y="105.65" font-size="6.6" text-anchor="end" fill="#4d4d4d">0</text>
<text x="514.00" y="87.97" font-size="6.6" text-anchor="end" fill="#4d4d4d">25</text>
<text x="514.00" y="70.30" font-size="6.6" text-anchor="end" fill="#4d4d4d">50</text>
<text x="514.00" y="52.63" font-size="6.6" text-anchor="end" fill="#4d4d4d">75</text>
<text x="514.00" y="34.95" font-size="6.6" text-anchor="end" fill="#4d4d4d">100</text>
<text x="525.10" y="116.80" font-size="6.6" text-anchor="middle" fill="#4d4d4d">1</text>
<text x="540.20" y="116.80" font-size="6.6" text-anchor="middle" fill="#4d4d4d">2</text>
<text x="555.30" y="116.80" font-size="6.6" text-anchor="middle" fill="#4d4d4d">3</text>
<text x="570.40" y="116.80" font-size="6.6" text-anchor="middle" fill="#4d4d4d">4</text>
<text x="585.50" y="116.80" font-size="6.6" text-anchor="middle" fill="#4d4d4d">5</text>
<text x="600.60" y="116.80" font-size="6.6" text-anchor="middle" fill="#4d4d4d">6</text>
<text x="615.70" y="116.80" font-size="6.6" text-anchor="middle" fill="#4d4d4d">7</text>
</g>
<text x="518.00" y="20.70" font-size="10.3" text-anchor="start" fill="#000" font-style="italic" stroke="#000" stroke-width="0.18">airp2-3</text>
<rect x="642.4" y="26.7" width="105.6" height="80.7" fill="#fff"/>
<g stroke="#e6e6e6"><line x1="657.4" y1="26.7" x2="657.4" y2="107.4" stroke-width="0.4"/><line x1="672.5" y1="26.7" x2="672.5" y2="107.4" stroke-width="0.4"/><line x1="687.6" y1="26.7" x2="687.6" y2="107.4" stroke-width="0.4"/><line x1="702.8" y1="26.7" x2="702.8" y2="107.4" stroke-width="0.4"/><line x1="717.9" y1="26.7" x2="717.9" y2="107.4" stroke-width="0.4"/><line x1="732.9" y1="26.7" x2="732.9" y2="107.4" stroke-width="0.4"/><line x1="642.4" y1="94.3" x2="748.0" y2="94.3" stroke-width="0.4"/><line x1="642.4" y1="76.3" x2="748.0" y2="76.3" stroke-width="0.4"/><line x1="642.4" y1="58.2" x2="748.0" y2="58.2" stroke-width="0.4"/><line x1="642.4" y1="40.2" x2="748.0" y2="40.2" stroke-width="0.4"/><line x1="649.9" y1="26.7" x2="649.9" y2="107.4" stroke-width="0.8"/><line x1="665.0" y1="26.7" x2="665.0" y2="107.4" stroke-width="0.8"/><line x1="680.1" y1="26.7" x2="680.1" y2="107.4" stroke-width="0.8"/><line x1="695.2" y1="26.7" x2="695.2" y2="107.4" stroke-width="0.8"/><line x1="710.3" y1="26.7" x2="710.3" y2="107.4" stroke-width="0.8"/><line x1="725.4" y1="26.7" x2="725.4" y2="107.4" stroke-width="0.8"/><line x1="740.5" y1="26.7" x2="740.5" y2="107.4" stroke-width="0.8"/><line x1="642.4" y1="103.3" x2="748.0" y2="103.3" stroke-width="0.8"/><line x1="642.4" y1="85.3" x2="748.0" y2="85.3" stroke-width="0.8"/><line x1="642.4" y1="67.2" x2="748.0" y2="67.2" stroke-width="0.8"/><line x1="642.4" y1="49.2" x2="748.0" y2="49.2" stroke-width="0.8"/><line x1="642.4" y1="31.2" x2="748.0" y2="31.2" stroke-width="0.8"/></g>
<g fill="#f8766d" fill-opacity="0.24">
<circle cx="667.8" cy="98.2" r="2"/>
<circle cx="667.5" cy="96.0" r="2"/>
<circle cx="663.3" cy="103.3" r="2"/>
<circle cx="663.3" cy="90.6" r="2"/>
<circle cx="663.3" cy="96.4" r="2"/>
<circle cx="682.9" cy="31.2" r="2"/>
<circle cx="677.6" cy="35.1" r="2"/>
<circle cx="681.7" cy="36.5" r="2"/>
<circle cx="679.1" cy="41.0" r="2"/>
<circle cx="680.9" cy="34.1" r="2"/>
<circle cx="694.8" cy="33.3" r="2"/>
<circle cx="694.0" cy="32.2" r="2"/>
<circle cx="696.3" cy="31.1" r="2"/>
<circle cx="696.2" cy="31.4" r="2"/>
<circle cx="694.5" cy="31.8" r="2"/>
<circle cx="709.8" cy="31.9" r="2"/>
<circle cx="707.3" cy="32.5" r="2"/>
<circle cx="710.1" cy="30.3" r="2"/>
<circle cx="707.4" cy="32.2" r="2"/>
<circle cx="711.5" cy="31.4" r="2"/>
<circle cx="723.3" cy="29.8" r="2"/>
<circle cx="722.6" cy="31.1" r="2"/>
<circle cx="723.3" cy="31.0" r="2"/>
<circle cx="726.5" cy="30.8" r="2"/>
<circle cx="726.3" cy="31.3" r="2"/>
<circle cx="740.4" cy="32.2" r="2"/>
<circle cx="739.4" cy="33.4" r="2"/>
<circle cx="742.7" cy="31.2" r="2"/>
<circle cx="737.5" cy="31.8" r="2"/>
<circle cx="738.0" cy="32.7" r="2"/>
</g>
<g fill="#f8766d" fill-opacity="0.24">
<path d="M667.7,99.9l2.3,4.1h-4.6z"/>
<path d="M667.3,100.7l2.3,4.1h-4.6z"/>
<path d="M666.2,100.6l2.3,4.1h-4.6z"/>
<path d="M666.6,100.9l2.3,4.1h-4.6z"/>
<path d="M662.8,100.2l2.3,4.1h-4.6z"/>
<path d="M678.2,100.9l2.3,4.1h-4.6z"/>
<path d="M682.5,98.5l2.3,4.1h-4.6z"/>
<path d="M679.8,100.9l2.3,4.1h-4.6z"/>
<path d="M682.8,98.5l2.3,4.1h-4.6z"/>
<path d="M682.4,100.2l2.3,4.1h-4.6z"/>
<path d="M695.5,89.4l2.3,4.1h-4.6z"/>
<path d="M696.3,85.5l2.3,4.1h-4.6z"/>
<path d="M693.9,89.5l2.3,4.1h-4.6z"/>
<path d="M697.1,85.8l2.3,4.1h-4.6z"/>
<path d="M693.7,72.9l2.3,4.1h-4.6z"/>
<path d="M708.5,68.9l2.3,4.1h-4.6z"/>
<path d="M712.7,62.3l2.3,4.1h-4.6z"/>
<path d="M709.2,64.7l2.3,4.1h-4.6z"/>
<path d="M712.6,69.5l2.3,4.1h-4.6z"/>
<path d="M707.4,72.3l2.3,4.1h-4.6z"/>
<path d="M725.2,87.8l2.3,4.1h-4.6z"/>
<path d="M725.8,89.3l2.3,4.1h-4.6z"/>
<path d="M724.0,70.8l2.3,4.1h-4.6z"/>
<path d="M726.4,81.0l2.3,4.1h-4.6z"/>
<path d="M724.4,86.2l2.3,4.1h-4.6z"/>
<path d="M743.1,73.9l2.3,4.1h-4.6z"/>
<path d="M742.9,73.4l2.3,4.1h-4.6z"/>
<path d="M739.9,51.8l2.3,4.1h-4.6z"/>
<path d="M737.9,61.3l2.3,4.1h-4.6z"/>
<path d="M738.4,66.4l2.3,4.1h-4.6z"/>
</g>
<g fill="#1aa7f5" fill-opacity="0.24">
<circle cx="664.2" cy="82.4" r="2"/>
<circle cx="664.7" cy="82.8" r="2"/>
<circle cx="666.1" cy="97.9" r="2"/>
<circle cx="664.2" cy="103.3" r="2"/>
<circle cx="662.8" cy="96.7" r="2"/>
<circle cx="680.4" cy="44.2" r="2"/>
<circle cx="681.5" cy="41.8" r="2"/>
<circle cx="678.5" cy="31.0" r="2"/>
<circle cx="678.9" cy="43.9" r="2"/>
<circle cx="677.3" cy="36.0" r="2"/>
<circle cx="696.6" cy="29.8" r="2"/>
<circle cx="694.8" cy="33.1" r="2"/>
<circle cx="696.5" cy="37.5" r="2"/>
<circle cx="697.9" cy="38.5" r="2"/>
<circle cx="698.1" cy="35.7" r="2"/>
<circle cx="712.8" cy="37.9" r="2"/>
<circle cx="710.0" cy="33.4" r="2"/>
<circle cx="708.9" cy="34.7" r="2"/>
<circle cx="711.8" cy="36.4" r="2"/>
<circle cx="712.4" cy="36.3" r="2"/>
<circle cx="724.0" cy="32.5" r="2"/>
<circle cx="726.2" cy="34.3" r="2"/>
<circle cx="727.2" cy="37.7" r="2"/>
<circle cx="724.4" cy="41.1" r="2"/>
<circle cx="726.7" cy="35.7" r="2"/>
<circle cx="740.0" cy="36.7" r="2"/>
<circle cx="738.8" cy="35.7" r="2"/>
<circle cx="742.3" cy="33.9" r="2"/>
<circle cx="738.7" cy="34.2" r="2"/>
<circle cx="738.4" cy="34.6" r="2"/>
</g>
<g fill="#1aa7f5" fill-opacity="0.24">
<path d="M666.0,100.9l2.3,4.1h-4.6z"/>
<path d="M667.4,100.9l2.3,4.1h-4.6z"/>
<path d="M663.1,100.9l2.3,4.1h-4.6z"/>
<path d="M665.1,100.8l2.3,4.1h-4.6z"/>
<path d="M665.1,100.9l2.3,4.1h-4.6z"/>
<path d="M678.5,100.9l2.3,4.1h-4.6z"/>
<path d="M679.1,100.9l2.3,4.1h-4.6z"/>
<path d="M682.7,100.9l2.3,4.1h-4.6z"/>
<path d="M680.0,94.5l2.3,4.1h-4.6z"/>
<path d="M677.9,100.4l2.3,4.1h-4.6z"/>
<path d="M695.9,91.0l2.3,4.1h-4.6z"/>
<path d="M696.5,91.4l2.3,4.1h-4.6z"/>
<path d="M698.2,81.2l2.3,4.1h-4.6z"/>
<path d="M694.6,93.5l2.3,4.1h-4.6z"/>
<path d="M693.9,90.9l2.3,4.1h-4.6z"/>
<path d="M710.5,84.9l2.3,4.1h-4.6z"/>
<path d="M708.7,80.0l2.3,4.1h-4.6z"/>
<path d="M711.6,87.8l2.3,4.1h-4.6z"/>
<path d="M708.2,95.7l2.3,4.1h-4.6z"/>
<path d="M712.4,80.1l2.3,4.1h-4.6z"/>
<path d="M728.0,66.3l2.3,4.1h-4.6z"/>
<path d="M724.4,91.0l2.3,4.1h-4.6z"/>
<path d="M727.8,73.1l2.3,4.1h-4.6z"/>
<path d="M725.2,80.3l2.3,4.1h-4.6z"/>
<path d="M723.4,80.3l2.3,4.1h-4.6z"/>
<path d="M740.1,73.4l2.3,4.1h-4.6z"/>
<path d="M742.0,59.2l2.3,4.1h-4.6z"/>
<path d="M742.0,89.4l2.3,4.1h-4.6z"/>
<path d="M738.8,72.5l2.3,4.1h-4.6z"/>
<path d="M740.7,61.8l2.3,4.1h-4.6z"/>
</g>
<polyline points="649.9,103.3 665.0,93.2 680.1,37.7 695.2,32.6 710.3,31.2 725.4,31.2 740.5,31.2" fill="none" stroke="#f9867c" stroke-width="1.2" stroke-linejoin="round"/>
<polyline points="649.9,103.3 665.0,103.3 680.1,101.9 695.2,90.3 710.3,80.9 725.4,75.9 740.5,71.6" fill="none" stroke="#f9867c" stroke-width="1.2" stroke-linejoin="round"/>
<polyline points="649.9,103.3 665.0,89.6 680.1,38.4 695.2,36.2 710.3,35.5 725.4,35.5 740.5,35.5" fill="none" stroke="#2baef7" stroke-width="1.2" stroke-linejoin="round" stroke-dasharray="4.2 2.4"/>
<polyline points="649.9,103.3 665.0,103.3 680.1,100.4 695.2,95.4 710.3,89.6 725.4,84.6 740.5,81.7" fill="none" stroke="#2baef7" stroke-width="1.2" stroke-linejoin="round" stroke-dasharray="4.2 2.4"/>
<path d="M665.0,90.3 V96.1 M663.4,90.3 h3.2 M663.4,96.1 h3.2" stroke="#111" stroke-width="0.6" fill="none"/>
<path d="M680.1,36.2 V39.1 M678.5,36.2 h3.2 M678.5,39.1 h3.2" stroke="#111" stroke-width="0.6" fill="none"/>
<path d="M680.1,101.1 V102.6 M678.5,101.1 h3.2 M678.5,102.6 h3.2" stroke="#111" stroke-width="0.6" fill="none"/>
<path d="M695.2,87.8 V92.8 M693.6,87.8 h3.2 M693.6,92.8 h3.2" stroke="#111" stroke-width="0.6" fill="none"/>
<path d="M710.3,78.4 V83.5 M708.7,78.4 h3.2 M708.7,83.5 h3.2" stroke="#111" stroke-width="0.6" fill="none"/>
<path d="M725.4,72.3 V79.5 M723.8,72.3 h3.2 M723.8,79.5 h3.2" stroke="#111" stroke-width="0.6" fill="none"/>
<path d="M740.5,67.6 V75.5 M738.9,67.6 h3.2 M738.9,75.5 h3.2" stroke="#111" stroke-width="0.6" fill="none"/>
<path d="M665.0,86.0 V93.2 M663.4,86.0 h3.2 M663.4,93.2 h3.2" stroke="#111" stroke-width="0.6" fill="none"/>
<path d="M680.1,36.6 V40.2 M678.5,36.6 h3.2 M678.5,40.2 h3.2" stroke="#111" stroke-width="0.6" fill="none"/>
<path d="M695.2,35.2 V37.3 M693.6,35.2 h3.2 M693.6,37.3 h3.2" stroke="#111" stroke-width="0.6" fill="none"/>
<path d="M710.3,34.8 V36.2 M708.7,34.8 h3.2 M708.7,36.2 h3.2" stroke="#111" stroke-width="0.6" fill="none"/>
<path d="M725.4,34.8 V36.2 M723.8,34.8 h3.2 M723.8,36.2 h3.2" stroke="#111" stroke-width="0.6" fill="none"/>
<path d="M740.5,34.8 V36.2 M738.9,34.8 h3.2 M738.9,36.2 h3.2" stroke="#111" stroke-width="0.6" fill="none"/>
<path d="M680.1,99.3 V101.5 M678.5,99.3 h3.2 M678.5,101.5 h3.2" stroke="#111" stroke-width="0.6" fill="none"/>
<path d="M695.2,92.5 V98.3 M693.6,92.5 h3.2 M693.6,98.3 h3.2" stroke="#111" stroke-width="0.6" fill="none"/>
<path d="M710.3,86.7 V92.5 M708.7,86.7 h3.2 M708.7,92.5 h3.2" stroke="#111" stroke-width="0.6" fill="none"/>
<path d="M725.4,80.9 V88.2 M723.8,80.9 h3.2 M723.8,88.2 h3.2" stroke="#111" stroke-width="0.6" fill="none"/>
<path d="M740.5,78.1 V85.3 M738.9,78.1 h3.2 M738.9,85.3 h3.2" stroke="#111" stroke-width="0.6" fill="none"/>
<circle cx="649.9" cy="103.3" r="2.1" fill="#ee6a5f" stroke="#1a1a1a" stroke-width="0.7"/>
<circle cx="665.0" cy="93.2" r="2.1" fill="#ee6a5f" stroke="#1a1a1a" stroke-width="0.7"/>
<circle cx="680.1" cy="37.7" r="2.1" fill="#ee6a5f" stroke="#1a1a1a" stroke-width="0.7"/>
<circle cx="695.2" cy="32.6" r="2.1" fill="#ee6a5f" stroke="#1a1a1a" stroke-width="0.7"/>
<circle cx="710.3" cy="31.2" r="2.1" fill="#ee6a5f" stroke="#1a1a1a" stroke-width="0.7"/>
<circle cx="725.4" cy="31.2" r="2.1" fill="#ee6a5f" stroke="#1a1a1a" stroke-width="0.7"/>
<circle cx="740.5" cy="31.2" r="2.1" fill="#ee6a5f" stroke="#1a1a1a" stroke-width="0.7"/>
<polygon points="649.9,100.8 652.3,105.1 647.5,105.1" fill="#ee6a5f" stroke="#1a1a1a" stroke-width="0.7" stroke-linejoin="round"/>
<polygon points="665.0,100.8 667.4,105.1 662.6,105.1" fill="#ee6a5f" stroke="#1a1a1a" stroke-width="0.7" stroke-linejoin="round"/>
<polygon points="680.1,99.4 682.5,103.7 677.7,103.7" fill="#ee6a5f" stroke="#1a1a1a" stroke-width="0.7" stroke-linejoin="round"/>
<polygon points="695.2,87.8 697.6,92.1 692.8,92.1" fill="#ee6a5f" stroke="#1a1a1a" stroke-width="0.7" stroke-linejoin="round"/>
<polygon points="710.3,78.4 712.7,82.7 707.9,82.7" fill="#ee6a5f" stroke="#1a1a1a" stroke-width="0.7" stroke-linejoin="round"/>
<polygon points="725.4,73.4 727.8,77.7 723.0,77.7" fill="#ee6a5f" stroke="#1a1a1a" stroke-width="0.7" stroke-linejoin="round"/>
<polygon points="740.5,69.1 742.9,73.4 738.1,73.4" fill="#ee6a5f" stroke="#1a1a1a" stroke-width="0.7" stroke-linejoin="round"/>
<circle cx="649.9" cy="103.3" r="2.1" fill="#12a0f0" stroke="#1a1a1a" stroke-width="0.7"/>
<circle cx="665.0" cy="89.6" r="2.1" fill="#12a0f0" stroke="#1a1a1a" stroke-width="0.7"/>
<circle cx="680.1" cy="38.4" r="2.1" fill="#12a0f0" stroke="#1a1a1a" stroke-width="0.7"/>
<circle cx="695.2" cy="36.2" r="2.1" fill="#12a0f0" stroke="#1a1a1a" stroke-width="0.7"/>
<circle cx="710.3" cy="35.5" r="2.1" fill="#12a0f0" stroke="#1a1a1a" stroke-width="0.7"/>
<circle cx="725.4" cy="35.5" r="2.1" fill="#12a0f0" stroke="#1a1a1a" stroke-width="0.7"/>
<circle cx="740.5" cy="35.5" r="2.1" fill="#12a0f0" stroke="#1a1a1a" stroke-width="0.7"/>
<polygon points="649.9,100.8 652.3,105.1 647.5,105.1" fill="#12a0f0" stroke="#1a1a1a" stroke-width="0.7" stroke-linejoin="round"/>
<polygon points="665.0,100.8 667.4,105.1 662.6,105.1" fill="#12a0f0" stroke="#1a1a1a" stroke-width="0.7" stroke-linejoin="round"/>
<polygon points="680.1,97.9 682.5,102.2 677.7,102.2" fill="#12a0f0" stroke="#1a1a1a" stroke-width="0.7" stroke-linejoin="round"/>
<polygon points="695.2,92.9 697.6,97.2 692.8,97.2" fill="#12a0f0" stroke="#1a1a1a" stroke-width="0.7" stroke-linejoin="round"/>
<polygon points="710.3,87.1 712.7,91.4 707.9,91.4" fill="#12a0f0" stroke="#1a1a1a" stroke-width="0.7" stroke-linejoin="round"/>
<polygon points="725.4,82.1 727.8,86.4 723.0,86.4" fill="#12a0f0" stroke="#1a1a1a" stroke-width="0.7" stroke-linejoin="round"/>
<polygon points="740.5,79.2 742.9,83.5 738.1,83.5" fill="#12a0f0" stroke="#1a1a1a" stroke-width="0.7" stroke-linejoin="round"/>
<rect x="642.4" y="26.7" width="105.6" height="80.7" fill="none" stroke="#4a4a4a" stroke-width="1.1"/>
<g stroke="#333" stroke-width="0.7"><line x1="639.8" y1="103.3" x2="641.9" y2="103.3"/><line x1="639.8" y1="85.3" x2="641.9" y2="85.3"/><line x1="639.8" y1="67.2" x2="641.9" y2="67.2"/><line x1="639.8" y1="49.2" x2="641.9" y2="49.2"/><line x1="639.8" y1="31.2" x2="641.9" y2="31.2"/><line x1="649.9" y1="107.9" x2="649.9" y2="110.0"/><line x1="665.0" y1="107.9" x2="665.0" y2="110.0"/><line x1="680.1" y1="107.9" x2="680.1" y2="110.0"/><line x1="695.2" y1="107.9" x2="695.2" y2="110.0"/><line x1="710.3" y1="107.9" x2="710.3" y2="110.0"/><line x1="725.4" y1="107.9" x2="725.4" y2="110.0"/><line x1="740.5" y1="107.9" x2="740.5" y2="110.0"/></g>
<g font-size="6.6" fill="#4d4d4d">
<text x="638.80" y="105.65" font-size="6.6" text-anchor="end" fill="#4d4d4d">0</text>
<text x="638.80" y="87.62" font-size="6.6" text-anchor="end" fill="#4d4d4d">25</text>
<text x="638.80" y="69.60" font-size="6.6" text-anchor="end" fill="#4d4d4d">50</text>
<text x="638.80" y="51.57" font-size="6.6" text-anchor="end" fill="#4d4d4d">75</text>
<text x="638.80" y="33.55" font-size="6.6" text-anchor="end" fill="#4d4d4d">100</text>
<text x="649.90" y="116.80" font-size="6.6" text-anchor="middle" fill="#4d4d4d">1</text>
<text x="665.00" y="116.80" font-size="6.6" text-anchor="middle" fill="#4d4d4d">2</text>
<text x="680.10" y="116.80" font-size="6.6" text-anchor="middle" fill="#4d4d4d">3</text>
<text x="695.20" y="116.80" font-size="6.6" text-anchor="middle" fill="#4d4d4d">4</text>
<text x="710.30" y="116.80" font-size="6.6" text-anchor="middle" fill="#4d4d4d">5</text>
<text x="725.40" y="116.80" font-size="6.6" text-anchor="middle" fill="#4d4d4d">6</text>
<text x="740.50" y="116.80" font-size="6.6" text-anchor="middle" fill="#4d4d4d">7</text>
</g>
<text x="642.80" y="20.40" font-size="10.3" text-anchor="start" fill="#000" font-style="italic" stroke="#000" stroke-width="0.18">ari12-1</text>
<rect x="767.0" y="26.7" width="105.6" height="80.7" fill="#fff"/>
<g stroke="#e6e6e6"><line x1="782.0" y1="26.7" x2="782.0" y2="107.4" stroke-width="0.4"/><line x1="797.1" y1="26.7" x2="797.1" y2="107.4" stroke-width="0.4"/><line x1="812.2" y1="26.7" x2="812.2" y2="107.4" stroke-width="0.4"/><line x1="827.4" y1="26.7" x2="827.4" y2="107.4" stroke-width="0.4"/><line x1="842.5" y1="26.7" x2="842.5" y2="107.4" stroke-width="0.4"/><line x1="857.5" y1="26.7" x2="857.5" y2="107.4" stroke-width="0.4"/><line x1="767.0" y1="94.3" x2="872.6" y2="94.3" stroke-width="0.4"/><line x1="767.0" y1="76.3" x2="872.6" y2="76.3" stroke-width="0.4"/><line x1="767.0" y1="58.2" x2="872.6" y2="58.2" stroke-width="0.4"/><line x1="767.0" y1="40.2" x2="872.6" y2="40.2" stroke-width="0.4"/><line x1="774.5" y1="26.7" x2="774.5" y2="107.4" stroke-width="0.8"/><line x1="789.6" y1="26.7" x2="789.6" y2="107.4" stroke-width="0.8"/><line x1="804.7" y1="26.7" x2="804.7" y2="107.4" stroke-width="0.8"/><line x1="819.8" y1="26.7" x2="819.8" y2="107.4" stroke-width="0.8"/><line x1="834.9" y1="26.7" x2="834.9" y2="107.4" stroke-width="0.8"/><line x1="850.0" y1="26.7" x2="850.0" y2="107.4" stroke-width="0.8"/><line x1="865.1" y1="26.7" x2="865.1" y2="107.4" stroke-width="0.8"/><line x1="767.0" y1="103.3" x2="872.6" y2="103.3" stroke-width="0.8"/><line x1="767.0" y1="85.3" x2="872.6" y2="85.3" stroke-width="0.8"/><line x1="767.0" y1="67.2" x2="872.6" y2="67.2" stroke-width="0.8"/><line x1="767.0" y1="49.2" x2="872.6" y2="49.2" stroke-width="0.8"/><line x1="767.0" y1="31.2" x2="872.6" y2="31.2" stroke-width="0.8"/></g>
<g fill="#f8766d" fill-opacity="0.24">
<circle cx="787.6" cy="86.1" r="2"/>
<circle cx="790.9" cy="83.6" r="2"/>
<circle cx="790.3" cy="99.8" r="2"/>
<circle cx="790.0" cy="98.5" r="2"/>
<circle cx="790.3" cy="83.0" r="2"/>
<circle cx="804.8" cy="36.3" r="2"/>
<circle cx="804.0" cy="32.6" r="2"/>
<circle cx="803.1" cy="42.5" r="2"/>
<circle cx="805.8" cy="32.2" r="2"/>
<circle cx="805.4" cy="32.0" r="2"/>
<circle cx="818.1" cy="33.8" r="2"/>
<circle cx="820.0" cy="32.2" r="2"/>
<circle cx="820.6" cy="31.7" r="2"/>
<circle cx="820.8" cy="31.4" r="2"/>
<circle cx="818.8" cy="32.6" r="2"/>
<circle cx="836.0" cy="30.7" r="2"/>
<circle cx="834.5" cy="33.0" r="2"/>
<circle cx="834.3" cy="31.3" r="2"/>
<circle cx="833.1" cy="30.7" r="2"/>
<circle cx="835.4" cy="31.6" r="2"/>
<circle cx="850.3" cy="32.0" r="2"/>
<circle cx="849.6" cy="32.0" r="2"/>
<circle cx="852.0" cy="32.3" r="2"/>
<circle cx="850.8" cy="33.2" r="2"/>
<circle cx="849.7" cy="33.8" r="2"/>
<circle cx="865.9" cy="30.7" r="2"/>
<circle cx="864.4" cy="30.1" r="2"/>
<circle cx="866.6" cy="32.4" r="2"/>
<circle cx="865.8" cy="33.1" r="2"/>
<circle cx="865.3" cy="32.6" r="2"/>
</g>
<g fill="#f8766d" fill-opacity="0.24">
<path d="M789.0,99.6l2.3,4.1h-4.6z"/>
<path d="M792.2,100.9l2.3,4.1h-4.6z"/>
<path d="M787.0,100.3l2.3,4.1h-4.6z"/>
<path d="M791.7,100.9l2.3,4.1h-4.6z"/>
<path d="M788.1,100.1l2.3,4.1h-4.6z"/>
<path d="M805.8,100.9l2.3,4.1h-4.6z"/>
<path d="M804.4,98.1l2.3,4.1h-4.6z"/>
<path d="M805.7,100.0l2.3,4.1h-4.6z"/>
<path d="M802.6,99.0l2.3,4.1h-4.6z"/>
<path d="M804.6,97.3l2.3,4.1h-4.6z"/>
<path d="M819.1,87.5l2.3,4.1h-4.6z"/>
<path d="M817.7,84.8l2.3,4.1h-4.6z"/>
<path d="M819.3,84.7l2.3,4.1h-4.6z"/>
<path d="M818.7,85.0l2.3,4.1h-4.6z"/>
<path d="M818.3,89.0l2.3,4.1h-4.6z"/>
<path d="M833.0,86.3l2.3,4.1h-4.6z"/>
<path d="M833.1,82.2l2.3,4.1h-4.6z"/>
<path d="M834.7,66.6l2.3,4.1h-4.6z"/>
<path d="M834.7,73.6l2.3,4.1h-4.6z"/>
<path d="M837.0,91.9l2.3,4.1h-4.6z"/>
<path d="M847.6,78.4l2.3,4.1h-4.6z"/>
<path d="M848.0,79.6l2.3,4.1h-4.6z"/>
<path d="M852.0,70.8l2.3,4.1h-4.6z"/>
<path d="M852.8,83.9l2.3,4.1h-4.6z"/>
<path d="M847.0,62.9l2.3,4.1h-4.6z"/>
<path d="M863.8,75.7l2.3,4.1h-4.6z"/>
<path d="M866.3,65.8l2.3,4.1h-4.6z"/>
<path d="M867.6,52.3l2.3,4.1h-4.6z"/>
<path d="M865.9,77.6l2.3,4.1h-4.6z"/>
<path d="M864.9,98.1l2.3,4.1h-4.6z"/>
</g>
<g fill="#1aa7f5" fill-opacity="0.24">
<circle cx="791.3" cy="89.4" r="2"/>
<circle cx="791.0" cy="101.3" r="2"/>
<circle cx="787.7" cy="91.4" r="2"/>
<circle cx="792.3" cy="96.8" r="2"/>
<circle cx="790.2" cy="86.5" r="2"/>
<circle cx="804.6" cy="30.9" r="2"/>
<circle cx="803.7" cy="29.8" r="2"/>
<circle cx="802.5" cy="44.8" r="2"/>
<circle cx="803.2" cy="30.4" r="2"/>
<circle cx="802.5" cy="38.6" r="2"/>
<circle cx="818.5" cy="29.8" r="2"/>
<circle cx="820.1" cy="32.4" r="2"/>
<circle cx="822.5" cy="29.8" r="2"/>
<circle cx="817.2" cy="34.4" r="2"/>
<circle cx="822.6" cy="32.4" r="2"/>
<circle cx="832.1" cy="36.3" r="2"/>
<circle cx="835.5" cy="35.4" r="2"/>
<circle cx="834.7" cy="32.8" r="2"/>
<circle cx="837.2" cy="33.3" r="2"/>
<circle cx="836.1" cy="29.8" r="2"/>
<circle cx="847.5" cy="29.8" r="2"/>
<circle cx="851.2" cy="32.6" r="2"/>
<circle cx="850.9" cy="29.8" r="2"/>
<circle cx="848.2" cy="29.8" r="2"/>
<circle cx="848.1" cy="31.5" r="2"/>
<circle cx="868.0" cy="30.5" r="2"/>
<circle cx="862.9" cy="30.6" r="2"/>
<circle cx="864.1" cy="29.8" r="2"/>
<circle cx="867.9" cy="33.2" r="2"/>
<circle cx="863.5" cy="30.8" r="2"/>
</g>
<g fill="#1aa7f5" fill-opacity="0.24">
<path d="M787.3,100.9l2.3,4.1h-4.6z"/>
<path d="M790.7,100.8l2.3,4.1h-4.6z"/>
<path d="M790.8,100.9l2.3,4.1h-4.6z"/>
<path d="M787.1,99.8l2.3,4.1h-4.6z"/>
<path d="M792.6,99.3l2.3,4.1h-4.6z"/>
<path d="M801.8,97.8l2.3,4.1h-4.6z"/>
<path d="M806.7,100.9l2.3,4.1h-4.6z"/>
<path d="M807.6,96.4l2.3,4.1h-4.6z"/>
<path d="M802.0,100.9l2.3,4.1h-4.6z"/>
<path d="M804.5,100.9l2.3,4.1h-4.6z"/>
<path d="M819.4,81.5l2.3,4.1h-4.6z"/>
<path d="M819.5,93.5l2.3,4.1h-4.6z"/>
<path d="M822.6,98.0l2.3,4.1h-4.6z"/>
<path d="M818.2,75.6l2.3,4.1h-4.6z"/>
<path d="M821.3,93.3l2.3,4.1h-4.6z"/>
<path d="M836.8,67.4l2.3,4.1h-4.6z"/>
<path d="M837.0,89.4l2.3,4.1h-4.6z"/>
<path d="M835.7,98.9l2.3,4.1h-4.6z"/>
<path d="M837.1,82.2l2.3,4.1h-4.6z"/>
<path d="M837.0,77.9l2.3,4.1h-4.6z"/>
<path d="M851.4,70.5l2.3,4.1h-4.6z"/>
<path d="M852.6,82.5l2.3,4.1h-4.6z"/>
<path d="M848.0,76.5l2.3,4.1h-4.6z"/>
<path d="M848.3,74.8l2.3,4.1h-4.6z"/>
<path d="M851.9,85.7l2.3,4.1h-4.6z"/>
<path d="M866.2,90.2l2.3,4.1h-4.6z"/>
<path d="M864.7,43.4l2.3,4.1h-4.6z"/>
<path d="M867.6,76.0l2.3,4.1h-4.6z"/>
<path d="M865.6,73.6l2.3,4.1h-4.6z"/>
<path d="M863.1,80.0l2.3,4.1h-4.6z"/>
</g>
<polyline points="774.5,103.3 789.6,93.2 804.7,37.7 819.8,32.6 834.9,31.2 850.0,31.2 865.1,31.2" fill="none" stroke="#f9867c" stroke-width="1.2" stroke-linejoin="round"/>
<polyline points="774.5,103.3 789.6,103.3 804.7,101.9 819.8,90.3 834.9,80.9 850.0,75.9 865.1,71.6" fill="none" stroke="#f9867c" stroke-width="1.2" stroke-linejoin="round"/>
<polyline points="774.5,103.3 789.6,93.9 804.7,35.5 819.8,32.6 834.9,32.6 850.0,31.9 865.1,31.2" fill="none" stroke="#2baef7" stroke-width="1.2" stroke-linejoin="round" stroke-dasharray="4.2 2.4"/>
<polyline points="774.5,103.3 789.6,103.3 804.7,101.9 819.8,88.9 834.9,83.8 850.0,79.5 865.1,74.5" fill="none" stroke="#2baef7" stroke-width="1.2" stroke-linejoin="round" stroke-dasharray="4.2 2.4"/>
<path d="M789.6,90.3 V96.1 M788.0,90.3 h3.2 M788.0,96.1 h3.2" stroke="#111" stroke-width="0.6" fill="none"/>
<path d="M804.7,36.2 V39.1 M803.1,36.2 h3.2 M803.1,39.1 h3.2" stroke="#111" stroke-width="0.6" fill="none"/>
<path d="M804.7,101.1 V102.6 M803.1,101.1 h3.2 M803.1,102.6 h3.2" stroke="#111" stroke-width="0.6" fill="none"/>
<path d="M819.8,87.8 V92.8 M818.2,87.8 h3.2 M818.2,92.8 h3.2" stroke="#111" stroke-width="0.6" fill="none"/>
<path d="M834.9,78.4 V83.5 M833.3,78.4 h3.2 M833.3,83.5 h3.2" stroke="#111" stroke-width="0.6" fill="none"/>
<path d="M850.0,72.3 V79.5 M848.4,72.3 h3.2 M848.4,79.5 h3.2" stroke="#111" stroke-width="0.6" fill="none"/>
<path d="M865.1,67.6 V75.5 M863.5,67.6 h3.2 M863.5,75.5 h3.2" stroke="#111" stroke-width="0.6" fill="none"/>
<path d="M789.6,90.3 V97.5 M788.0,90.3 h3.2 M788.0,97.5 h3.2" stroke="#111" stroke-width="0.6" fill="none"/>
<path d="M804.7,33.7 V37.3 M803.1,33.7 h3.2 M803.1,37.3 h3.2" stroke="#111" stroke-width="0.6" fill="none"/>
<path d="M819.8,31.6 V33.7 M818.2,31.6 h3.2 M818.2,33.7 h3.2" stroke="#111" stroke-width="0.6" fill="none"/>
<path d="M834.9,31.9 V33.4 M833.3,31.9 h3.2 M833.3,33.4 h3.2" stroke="#111" stroke-width="0.6" fill="none"/>
<path d="M850.0,31.2 V32.6 M848.4,31.2 h3.2 M848.4,32.6 h3.2" stroke="#111" stroke-width="0.6" fill="none"/>
<path d="M865.1,30.5 V31.9 M863.5,30.5 h3.2 M863.5,31.9 h3.2" stroke="#111" stroke-width="0.6" fill="none"/>
<path d="M804.7,100.8 V102.9 M803.1,100.8 h3.2 M803.1,102.9 h3.2" stroke="#111" stroke-width="0.6" fill="none"/>
<path d="M819.8,86.0 V91.8 M818.2,86.0 h3.2 M818.2,91.8 h3.2" stroke="#111" stroke-width="0.6" fill="none"/>
<path d="M834.9,80.9 V86.7 M833.3,80.9 h3.2 M833.3,86.7 h3.2" stroke="#111" stroke-width="0.6" fill="none"/>
<path d="M850.0,75.9 V83.1 M848.4,75.9 h3.2 M848.4,83.1 h3.2" stroke="#111" stroke-width="0.6" fill="none"/>
<path d="M865.1,70.9 V78.1 M863.5,70.9 h3.2 M863.5,78.1 h3.2" stroke="#111" stroke-width="0.6" fill="none"/>
<circle cx="774.5" cy="103.3" r="2.1" fill="#ee6a5f" stroke="#1a1a1a" stroke-width="0.7"/>
<circle cx="789.6" cy="93.2" r="2.1" fill="#ee6a5f" stroke="#1a1a1a" stroke-width="0.7"/>
<circle cx="804.7" cy="37.7" r="2.1" fill="#ee6a5f" stroke="#1a1a1a" stroke-width="0.7"/>
<circle cx="819.8" cy="32.6" r="2.1" fill="#ee6a5f" stroke="#1a1a1a" stroke-width="0.7"/>
<circle cx="834.9" cy="31.2" r="2.1" fill="#ee6a5f" stroke="#1a1a1a" stroke-width="0.7"/>
<circle cx="850.0" cy="31.2" r="2.1" fill="#ee6a5f" stroke="#1a1a1a" stroke-width="0.7"/>
<circle cx="865.1" cy="31.2" r="2.1" fill="#ee6a5f" stroke="#1a1a1a" stroke-width="0.7"/>
<polygon points="774.5,100.8 776.9,105.1 772.1,105.1" fill="#ee6a5f" stroke="#1a1a1a" stroke-width="0.7" stroke-linejoin="round"/>
<polygon points="789.6,100.8 792.0,105.1 787.2,105.1" fill="#ee6a5f" stroke="#1a1a1a" stroke-width="0.7" stroke-linejoin="round"/>
<polygon points="804.7,99.4 807.1,103.7 802.3,103.7" fill="#ee6a5f" stroke="#1a1a1a" stroke-width="0.7" stroke-linejoin="round"/>
<polygon points="819.8,87.8 822.2,92.1 817.4,92.1" fill="#ee6a5f" stroke="#1a1a1a" stroke-width="0.7" stroke-linejoin="round"/>
<polygon points="834.9,78.4 837.3,82.7 832.5,82.7" fill="#ee6a5f" stroke="#1a1a1a" stroke-width="0.7" stroke-linejoin="round"/>
<polygon points="850.0,73.4 852.4,77.7 847.6,77.7" fill="#ee6a5f" stroke="#1a1a1a" stroke-width="0.7" stroke-linejoin="round"/>
<polygon points="865.1,69.1 867.5,73.4 862.7,73.4" fill="#ee6a5f" stroke="#1a1a1a" stroke-width="0.7" stroke-linejoin="round"/>
<circle cx="774.5" cy="103.3" r="2.1" fill="#12a0f0" stroke="#1a1a1a" stroke-width="0.7"/>
<circle cx="789.6" cy="93.9" r="2.1" fill="#12a0f0" stroke="#1a1a1a" stroke-width="0.7"/>
<circle cx="804.7" cy="35.5" r="2.1" fill="#12a0f0" stroke="#1a1a1a" stroke-width="0.7"/>
<circle cx="819.8" cy="32.6" r="2.1" fill="#12a0f0" stroke="#1a1a1a" stroke-width="0.7"/>
<circle cx="834.9" cy="32.6" r="2.1" fill="#12a0f0" stroke="#1a1a1a" stroke-width="0.7"/>
<circle cx="850.0" cy="31.9" r="2.1" fill="#12a0f0" stroke="#1a1a1a" stroke-width="0.7"/>
<circle cx="865.1" cy="31.2" r="2.1" fill="#12a0f0" stroke="#1a1a1a" stroke-width="0.7"/>
<polygon points="774.5,100.8 776.9,105.1 772.1,105.1" fill="#12a0f0" stroke="#1a1a1a" stroke-width="0.7" stroke-linejoin="round"/>
<polygon points="789.6,100.8 792.0,105.1 787.2,105.1" fill="#12a0f0" stroke="#1a1a1a" stroke-width="0.7" stroke-linejoin="round"/>
<polygon points="804.7,99.4 807.1,103.7 802.3,103.7" fill="#12a0f0" stroke="#1a1a1a" stroke-width="0.7" stroke-linejoin="round"/>
<polygon points="819.8,86.4 822.2,90.7 817.4,90.7" fill="#12a0f0" stroke="#1a1a1a" stroke-width="0.7" stroke-linejoin="round"/>
<polygon points="834.9,81.3 837.3,85.6 832.5,85.6" fill="#12a0f0" stroke="#1a1a1a" stroke-width="0.7" stroke-linejoin="round"/>
<polygon points="850.0,77.0 852.4,81.3 847.6,81.3" fill="#12a0f0" stroke="#1a1a1a" stroke-width="0.7" stroke-linejoin="round"/>
<polygon points="865.1,72.0 867.5,76.3 862.7,76.3" fill="#12a0f0" stroke="#1a1a1a" stroke-width="0.7" stroke-linejoin="round"/>
<rect x="767.0" y="26.7" width="105.6" height="80.7" fill="none" stroke="#4a4a4a" stroke-width="1.1"/>
<g stroke="#333" stroke-width="0.7"><line x1="764.4" y1="103.3" x2="766.5" y2="103.3"/><line x1="764.4" y1="85.3" x2="766.5" y2="85.3"/><line x1="764.4" y1="67.2" x2="766.5" y2="67.2"/><line x1="764.4" y1="49.2" x2="766.5" y2="49.2"/><line x1="764.4" y1="31.2" x2="766.5" y2="31.2"/><line x1="774.5" y1="107.9" x2="774.5" y2="110.0"/><line x1="789.6" y1="107.9" x2="789.6" y2="110.0"/><line x1="804.7" y1="107.9" x2="804.7" y2="110.0"/><line x1="819.8" y1="107.9" x2="819.8" y2="110.0"/><line x1="834.9" y1="107.9" x2="834.9" y2="110.0"/><line x1="850.0" y1="107.9" x2="850.0" y2="110.0"/><line x1="865.1" y1="107.9" x2="865.1" y2="110.0"/></g>
<g font-size="6.6" fill="#4d4d4d">
<text x="763.40" y="105.65" font-size="6.6" text-anchor="end" fill="#4d4d4d">0</text>
<text x="763.40" y="87.62" font-size="6.6" text-anchor="end" fill="#4d4d4d">25</text>
<text x="763.40" y="69.60" font-size="6.6" text-anchor="end" fill="#4d4d4d">50</text>
<text x="763.40" y="51.57" font-size="6.6" text-anchor="end" fill="#4d4d4d">75</text>
<text x="763.40" y="33.55" font-size="6.6" text-anchor="end" fill="#4d4d4d">100</text>
<text x="774.50" y="116.80" font-size="6.6" text-anchor="middle" fill="#4d4d4d">1</text>
<text x="789.60" y="116.80" font-size="6.6" text-anchor="middle" fill="#4d4d4d">2</text>
<text x="804.70" y="116.80" font-size="6.6" text-anchor="middle" fill="#4d4d4d">3</text>
<text x="819.80" y="116.80" font-size="6.6" text-anchor="middle" fill="#4d4d4d">4</text>
<text x="834.90" y="116.80" font-size="6.6" text-anchor="middle" fill="#4d4d4d">5</text>
<text x="850.00" y="116.80" font-size="6.6" text-anchor="middle" fill="#4d4d4d">6</text>
<text x="865.10" y="116.80" font-size="6.6" text-anchor="middle" fill="#4d4d4d">7</text>
</g>
<text x="767.40" y="20.40" font-size="10.3" text-anchor="start" fill="#000" font-style="italic" stroke="#000" stroke-width="0.18">at1g63840-1</text>
<rect x="517.6" y="139.0" width="105.6" height="80.85" fill="#fff"/>
<g stroke="#e6e6e6"><line x1="532.6" y1="139.0" x2="532.6" y2="219.8" stroke-width="0.4"/><line x1="547.8" y1="139.0" x2="547.8" y2="219.8" stroke-width="0.4"/><line x1="562.9" y1="139.0" x2="562.9" y2="219.8" stroke-width="0.4"/><line x1="578.0" y1="139.0" x2="578.0" y2="219.8" stroke-width="0.4"/><line x1="593.1" y1="139.0" x2="593.1" y2="219.8" stroke-width="0.4"/><line x1="608.1" y1="139.0" x2="608.1" y2="219.8" stroke-width="0.4"/><line x1="517.6" y1="206.6" x2="623.2" y2="206.6" stroke-width="0.4"/><line x1="517.6" y1="188.6" x2="623.2" y2="188.6" stroke-width="0.4"/><line x1="517.6" y1="170.5" x2="623.2" y2="170.5" stroke-width="0.4"/><line x1="517.6" y1="152.4" x2="623.2" y2="152.4" stroke-width="0.4"/><line x1="525.1" y1="139.0" x2="525.1" y2="219.8" stroke-width="0.8"/><line x1="540.2" y1="139.0" x2="540.2" y2="219.8" stroke-width="0.8"/><line x1="555.3" y1="139.0" x2="555.3" y2="219.8" stroke-width="0.8"/><line x1="570.4" y1="139.0" x2="570.4" y2="219.8" stroke-width="0.8"/><line x1="585.5" y1="139.0" x2="585.5" y2="219.8" stroke-width="0.8"/><line x1="600.6" y1="139.0" x2="600.6" y2="219.8" stroke-width="0.8"/><line x1="615.7" y1="139.0" x2="615.7" y2="219.8" stroke-width="0.8"/><line x1="517.6" y1="215.7" x2="623.2" y2="215.7" stroke-width="0.8"/><line x1="517.6" y1="197.6" x2="623.2" y2="197.6" stroke-width="0.8"/><line x1="517.6" y1="179.5" x2="623.2" y2="179.5" stroke-width="0.8"/><line x1="517.6" y1="161.4" x2="623.2" y2="161.4" stroke-width="0.8"/><line x1="517.6" y1="143.3" x2="623.2" y2="143.3" stroke-width="0.8"/></g>
<g fill="#f8766d" fill-opacity="0.24">
<circle cx="541.5" cy="196.1" r="2"/>
<circle cx="541.6" cy="206.8" r="2"/>
<circle cx="540.8" cy="204.8" r="2"/>
<circle cx="537.9" cy="202.1" r="2"/>
<circle cx="542.4" cy="215.7" r="2"/>
<circle cx="553.0" cy="143.7" r="2"/>
<circle cx="557.3" cy="147.1" r="2"/>
<circle cx="552.4" cy="148.3" r="2"/>
<circle cx="553.1" cy="149.5" r="2"/>
<circle cx="555.4" cy="147.8" r="2"/>
<circle cx="571.8" cy="144.3" r="2"/>
<circle cx="571.7" cy="143.7" r="2"/>
<circle cx="570.8" cy="146.4" r="2"/>
<circle cx="572.4" cy="143.8" r="2"/>
<circle cx="570.9" cy="144.7" r="2"/>
<circle cx="588.2" cy="142.3" r="2"/>
<circle cx="584.0" cy="144.2" r="2"/>
<circle cx="584.2" cy="144.1" r="2"/>
<circle cx="587.8" cy="142.6" r="2"/>
<circle cx="587.9" cy="141.9" r="2"/>
<circle cx="599.4" cy="145.0" r="2"/>
<circle cx="600.5" cy="143.6" r="2"/>
<circle cx="599.1" cy="142.6" r="2"/>
<circle cx="598.2" cy="142.4" r="2"/>
<circle cx="602.5" cy="142.9" r="2"/>
<circle cx="616.9" cy="143.5" r="2"/>
<circle cx="618.7" cy="142.2" r="2"/>
<circle cx="618.6" cy="142.6" r="2"/>
<circle cx="617.0" cy="145.0" r="2"/>
<circle cx="614.5" cy="144.0" r="2"/>
</g>
<g fill="#f8766d" fill-opacity="0.24">
<path d="M539.6,213.3l2.3,4.1h-4.6z"/>
<path d="M542.1,213.3l2.3,4.1h-4.6z"/>
<path d="M537.6,213.3l2.3,4.1h-4.6z"/>
<path d="M539.9,212.7l2.3,4.1h-4.6z"/>
<path d="M542.4,211.8l2.3,4.1h-4.6z"/>
<path d="M555.6,211.0l2.3,4.1h-4.6z"/>
<path d="M553.7,213.3l2.3,4.1h-4.6z"/>
<path d="M554.6,213.1l2.3,4.1h-4.6z"/>
<path d="M554.6,213.3l2.3,4.1h-4.6z"/>
<path d="M555.2,213.3l2.3,4.1h-4.6z"/>
<path d="M571.5,205.0l2.3,4.1h-4.6z"/>
<path d="M569.4,191.8l2.3,4.1h-4.6z"/>
<path d="M570.6,206.1l2.3,4.1h-4.6z"/>
<path d="M573.3,213.3l2.3,4.1h-4.6z"/>
<path d="M568.5,206.5l2.3,4.1h-4.6z"/>
<path d="M584.7,175.0l2.3,4.1h-4.6z"/>
<path d="M586.2,190.1l2.3,4.1h-4.6z"/>
<path d="M587.7,192.6l2.3,4.1h-4.6z"/>
<path d="M584.6,180.1l2.3,4.1h-4.6z"/>
<path d="M584.5,194.8l2.3,4.1h-4.6z"/>
<path d="M597.8,188.5l2.3,4.1h-4.6z"/>
<path d="M602.9,188.7l2.3,4.1h-4.6z"/>
<path d="M600.2,190.3l2.3,4.1h-4.6z"/>
<path d="M599.3,190.4l2.3,4.1h-4.6z"/>
<path d="M601.9,179.7l2.3,4.1h-4.6z"/>
<path d="M617.2,188.6l2.3,4.1h-4.6z"/>
<path d="M615.8,185.3l2.3,4.1h-4.6z"/>
<path d="M615.1,173.2l2.3,4.1h-4.6z"/>
<path d="M617.5,190.3l2.3,4.1h-4.6z"/>
<path d="M615.2,187.4l2.3,4.1h-4.6z"/>
</g>
<g fill="#1aa7f5" fill-opacity="0.24">
<circle cx="542.6" cy="188.9" r="2"/>
<circle cx="541.3" cy="187.1" r="2"/>
<circle cx="542.8" cy="215.7" r="2"/>
<circle cx="537.3" cy="207.6" r="2"/>
<circle cx="539.2" cy="203.3" r="2"/>
<circle cx="553.8" cy="148.3" r="2"/>
<circle cx="557.5" cy="156.3" r="2"/>
<circle cx="553.9" cy="146.4" r="2"/>
<circle cx="557.0" cy="141.9" r="2"/>
<circle cx="555.6" cy="146.9" r="2"/>
<circle cx="573.0" cy="143.9" r="2"/>
<circle cx="570.6" cy="144.1" r="2"/>
<circle cx="571.9" cy="141.9" r="2"/>
<circle cx="572.2" cy="149.1" r="2"/>
<circle cx="570.0" cy="144.8" r="2"/>
<circle cx="587.1" cy="143.1" r="2"/>
<circle cx="586.0" cy="143.7" r="2"/>
<circle cx="585.4" cy="148.3" r="2"/>
<circle cx="586.4" cy="143.6" r="2"/>
<circle cx="585.6" cy="141.9" r="2"/>
<circle cx="603.3" cy="145.6" r="2"/>
<circle cx="598.2" cy="150.7" r="2"/>
<circle cx="601.7" cy="145.4" r="2"/>
<circle cx="599.3" cy="141.9" r="2"/>
<circle cx="602.2" cy="142.6" r="2"/>
<circle cx="613.0" cy="145.8" r="2"/>
<circle cx="617.4" cy="144.8" r="2"/>
<circle cx="615.8" cy="144.3" r="2"/>
<circle cx="614.7" cy="141.9" r="2"/>
<circle cx="614.8" cy="145.6" r="2"/>
</g>
<g fill="#1aa7f5" fill-opacity="0.24">
<path d="M537.8,213.3l2.3,4.1h-4.6z"/>
<path d="M541.1,212.8l2.3,4.1h-4.6z"/>
<path d="M541.5,213.3l2.3,4.1h-4.6z"/>
<path d="M538.8,212.2l2.3,4.1h-4.6z"/>
<path d="M539.1,213.3l2.3,4.1h-4.6z"/>
<path d="M556.3,210.1l2.3,4.1h-4.6z"/>
<path d="M553.0,208.4l2.3,4.1h-4.6z"/>
<path d="M556.3,209.2l2.3,4.1h-4.6z"/>
<path d="M555.2,213.3l2.3,4.1h-4.6z"/>
<path d="M556.3,203.1l2.3,4.1h-4.6z"/>
<path d="M571.6,213.3l2.3,4.1h-4.6z"/>
<path d="M571.2,202.7l2.3,4.1h-4.6z"/>
<path d="M571.9,195.6l2.3,4.1h-4.6z"/>
<path d="M569.9,199.3l2.3,4.1h-4.6z"/>
<path d="M572.3,188.1l2.3,4.1h-4.6z"/>
<path d="M587.0,195.6l2.3,4.1h-4.6z"/>
<path d="M588.1,181.4l2.3,4.1h-4.6z"/>
<path d="M585.1,196.7l2.3,4.1h-4.6z"/>
<path d="M584.0,194.2l2.3,4.1h-4.6z"/>
<path d="M587.9,189.6l2.3,4.1h-4.6z"/>
<path d="M597.8,189.7l2.3,4.1h-4.6z"/>
<path d="M600.4,190.7l2.3,4.1h-4.6z"/>
<path d="M597.7,197.8l2.3,4.1h-4.6z"/>
<path d="M599.2,190.8l2.3,4.1h-4.6z"/>
<path d="M602.5,175.5l2.3,4.1h-4.6z"/>
<path d="M614.3,196.5l2.3,4.1h-4.6z"/>
<path d="M614.5,187.9l2.3,4.1h-4.6z"/>
<path d="M618.4,190.6l2.3,4.1h-4.6z"/>
<path d="M614.0,182.3l2.3,4.1h-4.6z"/>
<path d="M617.9,175.5l2.3,4.1h-4.6z"/>
</g>
<polyline points="525.1,215.7 540.2,205.6 555.3,149.8 570.4,144.7 585.5,143.3 600.6,143.3 615.7,143.3" fill="none" stroke="#f9867c" stroke-width="1.2" stroke-linejoin="round"/>
<polyline points="525.1,215.7 540.2,215.7 555.3,214.3 570.4,202.7 585.5,193.3 600.6,188.2 615.7,183.8" fill="none" stroke="#f9867c" stroke-width="1.2" stroke-linejoin="round"/>
<polyline points="525.1,215.7 540.2,201.2 555.3,148.4 570.4,144.7 585.5,144.7 600.6,144.7 615.7,144.7" fill="none" stroke="#2baef7" stroke-width="1.2" stroke-linejoin="round" stroke-dasharray="4.2 2.4"/>
<polyline points="525.1,215.7 540.2,215.7 555.3,213.5 570.4,202.7 585.5,196.2 600.6,190.4 615.7,186.7" fill="none" stroke="#2baef7" stroke-width="1.2" stroke-linejoin="round" stroke-dasharray="4.2 2.4"/>
<path d="M540.2,202.7 V208.5 M538.6,202.7 h3.2 M538.6,208.5 h3.2" stroke="#111" stroke-width="0.6" fill="none"/>
<path d="M555.3,148.4 V151.3 M553.7,148.4 h3.2 M553.7,151.3 h3.2" stroke="#111" stroke-width="0.6" fill="none"/>
<path d="M555.3,213.5 V215.0 M553.7,213.5 h3.2 M553.7,215.0 h3.2" stroke="#111" stroke-width="0.6" fill="none"/>
<path d="M570.4,200.1 V205.2 M568.8,200.1 h3.2 M568.8,205.2 h3.2" stroke="#111" stroke-width="0.6" fill="none"/>
<path d="M585.5,190.7 V195.8 M583.9,190.7 h3.2 M583.9,195.8 h3.2" stroke="#111" stroke-width="0.6" fill="none"/>
<path d="M600.6,184.6 V191.8 M599.0,184.6 h3.2 M599.0,191.8 h3.2" stroke="#111" stroke-width="0.6" fill="none"/>
<path d="M615.7,179.9 V187.8 M614.1,179.9 h3.2 M614.1,187.8 h3.2" stroke="#111" stroke-width="0.6" fill="none"/>
<path d="M540.2,197.6 V204.8 M538.6,197.6 h3.2 M538.6,204.8 h3.2" stroke="#111" stroke-width="0.6" fill="none"/>
<path d="M555.3,146.6 V150.2 M553.7,146.6 h3.2 M553.7,150.2 h3.2" stroke="#111" stroke-width="0.6" fill="none"/>
<path d="M570.4,143.7 V145.8 M568.8,143.7 h3.2 M568.8,145.8 h3.2" stroke="#111" stroke-width="0.6" fill="none"/>
<path d="M585.5,144.0 V145.5 M583.9,144.0 h3.2 M583.9,145.5 h3.2" stroke="#111" stroke-width="0.6" fill="none"/>
<path d="M600.6,144.0 V145.5 M599.0,144.0 h3.2 M599.0,145.5 h3.2" stroke="#111" stroke-width="0.6" fill="none"/>
<path d="M615.7,144.0 V145.5 M614.1,144.0 h3.2 M614.1,145.5 h3.2" stroke="#111" stroke-width="0.6" fill="none"/>
<path d="M555.3,212.4 V214.6 M553.7,212.4 h3.2 M553.7,214.6 h3.2" stroke="#111" stroke-width="0.6" fill="none"/>
<path d="M570.4,199.8 V205.6 M568.8,199.8 h3.2 M568.8,205.6 h3.2" stroke="#111" stroke-width="0.6" fill="none"/>
<path d="M585.5,193.3 V199.0 M583.9,193.3 h3.2 M583.9,199.0 h3.2" stroke="#111" stroke-width="0.6" fill="none"/>
<path d="M600.6,186.7 V194.0 M599.0,186.7 h3.2 M599.0,194.0 h3.2" stroke="#111" stroke-width="0.6" fill="none"/>
<path d="M615.7,183.1 V190.4 M614.1,183.1 h3.2 M614.1,190.4 h3.2" stroke="#111" stroke-width="0.6" fill="none"/>
<circle cx="525.1" cy="215.7" r="2.1" fill="#ee6a5f" stroke="#1a1a1a" stroke-width="0.7"/>
<circle cx="540.2" cy="205.6" r="2.1" fill="#ee6a5f" stroke="#1a1a1a" stroke-width="0.7"/>
<circle cx="555.3" cy="149.8" r="2.1" fill="#ee6a5f" stroke="#1a1a1a" stroke-width="0.7"/>
<circle cx="570.4" cy="144.7" r="2.1" fill="#ee6a5f" stroke="#1a1a1a" stroke-width="0.7"/>
<circle cx="585.5" cy="143.3" r="2.1" fill="#ee6a5f" stroke="#1a1a1a" stroke-width="0.7"/>
<circle cx="600.6" cy="143.3" r="2.1" fill="#ee6a5f" stroke="#1a1a1a" stroke-width="0.7"/>
<circle cx="615.7" cy="143.3" r="2.1" fill="#ee6a5f" stroke="#1a1a1a" stroke-width="0.7"/>
<polygon points="525.1,213.2 527.5,217.5 522.7,217.5" fill="#ee6a5f" stroke="#1a1a1a" stroke-width="0.7" stroke-linejoin="round"/>
<polygon points="540.2,213.2 542.6,217.5 537.8,217.5" fill="#ee6a5f" stroke="#1a1a1a" stroke-width="0.7" stroke-linejoin="round"/>
<polygon points="555.3,211.8 557.7,216.1 552.9,216.1" fill="#ee6a5f" stroke="#1a1a1a" stroke-width="0.7" stroke-linejoin="round"/>
<polygon points="570.4,200.2 572.8,204.5 568.0,204.5" fill="#ee6a5f" stroke="#1a1a1a" stroke-width="0.7" stroke-linejoin="round"/>
<polygon points="585.5,190.8 587.9,195.1 583.1,195.1" fill="#ee6a5f" stroke="#1a1a1a" stroke-width="0.7" stroke-linejoin="round"/>
<polygon points="600.6,185.7 603.0,190.0 598.2,190.0" fill="#ee6a5f" stroke="#1a1a1a" stroke-width="0.7" stroke-linejoin="round"/>
<polygon points="615.7,181.3 618.1,185.6 613.3,185.6" fill="#ee6a5f" stroke="#1a1a1a" stroke-width="0.7" stroke-linejoin="round"/>
<circle cx="525.1" cy="215.7" r="2.1" fill="#12a0f0" stroke="#1a1a1a" stroke-width="0.7"/>
<circle cx="540.2" cy="201.2" r="2.1" fill="#12a0f0" stroke="#1a1a1a" stroke-width="0.7"/>
<circle cx="555.3" cy="148.4" r="2.1" fill="#12a0f0" stroke="#1a1a1a" stroke-width="0.7"/>
<circle cx="570.4" cy="144.7" r="2.1" fill="#12a0f0" stroke="#1a1a1a" stroke-width="0.7"/>
<circle cx="585.5" cy="144.7" r="2.1" fill="#12a0f0" stroke="#1a1a1a" stroke-width="0.7"/>
<circle cx="600.6" cy="144.7" r="2.1" fill="#12a0f0" stroke="#1a1a1a" stroke-width="0.7"/>
<circle cx="615.7" cy="144.7" r="2.1" fill="#12a0f0" stroke="#1a1a1a" stroke-width="0.7"/>
<polygon points="525.1,213.2 527.5,217.5 522.7,217.5" fill="#12a0f0" stroke="#1a1a1a" stroke-width="0.7" stroke-linejoin="round"/>
<polygon points="540.2,213.2 542.6,217.5 537.8,217.5" fill="#12a0f0" stroke="#1a1a1a" stroke-width="0.7" stroke-linejoin="round"/>
<polygon points="555.3,211.0 557.7,215.3 552.9,215.3" fill="#12a0f0" stroke="#1a1a1a" stroke-width="0.7" stroke-linejoin="round"/>
<polygon points="570.4,200.2 572.8,204.5 568.0,204.5" fill="#12a0f0" stroke="#1a1a1a" stroke-width="0.7" stroke-linejoin="round"/>
<polygon points="585.5,193.7 587.9,198.0 583.1,198.0" fill="#12a0f0" stroke="#1a1a1a" stroke-width="0.7" stroke-linejoin="round"/>
<polygon points="600.6,187.9 603.0,192.2 598.2,192.2" fill="#12a0f0" stroke="#1a1a1a" stroke-width="0.7" stroke-linejoin="round"/>
<polygon points="615.7,184.2 618.1,188.5 613.3,188.5" fill="#12a0f0" stroke="#1a1a1a" stroke-width="0.7" stroke-linejoin="round"/>
<rect x="517.6" y="139.0" width="105.6" height="80.85" fill="none" stroke="#4a4a4a" stroke-width="1.1"/>
<g stroke="#333" stroke-width="0.7"><line x1="515.0" y1="215.7" x2="517.1" y2="215.7"/><line x1="515.0" y1="197.6" x2="517.1" y2="197.6"/><line x1="515.0" y1="179.5" x2="517.1" y2="179.5"/><line x1="515.0" y1="161.4" x2="517.1" y2="161.4"/><line x1="515.0" y1="143.3" x2="517.1" y2="143.3"/><line x1="525.1" y1="220.3" x2="525.1" y2="222.4"/><line x1="540.2" y1="220.3" x2="540.2" y2="222.4"/><line x1="555.3" y1="220.3" x2="555.3" y2="222.4"/><line x1="570.4" y1="220.3" x2="570.4" y2="222.4"/><line x1="585.5" y1="220.3" x2="585.5" y2="222.4"/><line x1="600.6" y1="220.3" x2="600.6" y2="222.4"/><line x1="615.7" y1="220.3" x2="615.7" y2="222.4"/></g>
<g font-size="6.6" fill="#4d4d4d">
<text x="514.00" y="218.05" font-size="6.6" text-anchor="end" fill="#4d4d4d">0</text>
<text x="514.00" y="199.95" font-size="6.6" text-anchor="end" fill="#4d4d4d">25</text>
<text x="514.00" y="181.85" font-size="6.6" text-anchor="end" fill="#4d4d4d">50</text>
<text x="514.00" y="163.75" font-size="6.6" text-anchor="end" fill="#4d4d4d">75</text>
<text x="514.00" y="145.65" font-size="6.6" text-anchor="end" fill="#4d4d4d">100</text>
<text x="525.10" y="229.25" font-size="6.6" text-anchor="middle" fill="#4d4d4d">1</text>
<text x="540.20" y="229.25" font-size="6.6" text-anchor="middle" fill="#4d4d4d">2</text>
<text x="555.30" y="229.25" font-size="6.6" text-anchor="middle" fill="#4d4d4d">3</text>
<text x="570.40" y="229.25" font-size="6.6" text-anchor="middle" fill="#4d4d4d">4</text>
<text x="585.50" y="229.25" font-size="6.6" text-anchor="middle" fill="#4d4d4d">5</text>
<text x="600.60" y="229.25" font-size="6.6" text-anchor="middle" fill="#4d4d4d">6</text>
<text x="615.70" y="229.25" font-size="6.6" text-anchor="middle" fill="#4d4d4d">7</text>
</g>
<text x="518.00" y="132.70" font-size="10.3" text-anchor="start" fill="#000" font-style="italic" stroke="#000" stroke-width="0.18">pprt1-2</text>
<rect x="642.4" y="139.0" width="105.6" height="80.85" fill="#fff"/>
<g stroke="#e6e6e6"><line x1="657.4" y1="139.0" x2="657.4" y2="219.8" stroke-width="0.4"/><line x1="672.5" y1="139.0" x2="672.5" y2="219.8" stroke-width="0.4"/><line x1="687.6" y1="139.0" x2="687.6" y2="219.8" stroke-width="0.4"/><line x1="702.8" y1="139.0" x2="702.8" y2="219.8" stroke-width="0.4"/><line x1="717.9" y1="139.0" x2="717.9" y2="219.8" stroke-width="0.4"/><line x1="732.9" y1="139.0" x2="732.9" y2="219.8" stroke-width="0.4"/><line x1="642.4" y1="206.6" x2="748.0" y2="206.6" stroke-width="0.4"/><line x1="642.4" y1="188.6" x2="748.0" y2="188.6" stroke-width="0.4"/><line x1="642.4" y1="170.5" x2="748.0" y2="170.5" stroke-width="0.4"/><line x1="642.4" y1="152.4" x2="748.0" y2="152.4" stroke-width="0.4"/><line x1="649.9" y1="139.0" x2="649.9" y2="219.8" stroke-width="0.8"/><line x1="665.0" y1="139.0" x2="665.0" y2="219.8" stroke-width="0.8"/><line x1="680.1" y1="139.0" x2="680.1" y2="219.8" stroke-width="0.8"/><line x1="695.2" y1="139.0" x2="695.2" y2="219.8" stroke-width="0.8"/><line x1="710.3" y1="139.0" x2="710.3" y2="219.8" stroke-width="0.8"/><line x1="725.4" y1="139.0" x2="725.4" y2="219.8" stroke-width="0.8"/><line x1="740.5" y1="139.0" x2="740.5" y2="219.8" stroke-width="0.8"/><line x1="642.4" y1="215.7" x2="748.0" y2="215.7" stroke-width="0.8"/><line x1="642.4" y1="197.6" x2="748.0" y2="197.6" stroke-width="0.8"/><line x1="642.4" y1="179.5" x2="748.0" y2="179.5" stroke-width="0.8"/><line x1="642.4" y1="161.4" x2="748.0" y2="161.4" stroke-width="0.8"/><line x1="642.4" y1="143.3" x2="748.0" y2="143.3" stroke-width="0.8"/></g>
<g fill="#f8766d" fill-opacity="0.24">
<circle cx="666.4" cy="188.5" r="2"/>
<circle cx="663.4" cy="209.9" r="2"/>
<circle cx="666.8" cy="212.2" r="2"/>
<circle cx="662.1" cy="193.5" r="2"/>
<circle cx="662.7" cy="196.3" r="2"/>
<circle cx="681.0" cy="141.9" r="2"/>
<circle cx="682.3" cy="152.8" r="2"/>
<circle cx="680.6" cy="144.3" r="2"/>
<circle cx="680.8" cy="152.8" r="2"/>
<circle cx="680.9" cy="147.4" r="2"/>
<circle cx="695.4" cy="145.8" r="2"/>
<circle cx="693.8" cy="144.1" r="2"/>
<circle cx="692.8" cy="144.1" r="2"/>
<circle cx="695.8" cy="143.5" r="2"/>
<circle cx="693.7" cy="144.1" r="2"/>
<circle cx="709.8" cy="145.2" r="2"/>
<circle cx="713.2" cy="142.4" r="2"/>
<circle cx="708.5" cy="143.8" r="2"/>
<circle cx="711.3" cy="143.1" r="2"/>
<circle cx="712.1" cy="143.6" r="2"/>
<circle cx="727.9" cy="144.8" r="2"/>
<circle cx="728.4" cy="143.8" r="2"/>
<circle cx="722.6" cy="142.7" r="2"/>
<circle cx="724.7" cy="142.1" r="2"/>
<circle cx="726.1" cy="142.9" r="2"/>
<circle cx="738.0" cy="142.8" r="2"/>
<circle cx="742.4" cy="143.2" r="2"/>
<circle cx="739.0" cy="143.2" r="2"/>
<circle cx="741.8" cy="141.9" r="2"/>
<circle cx="741.3" cy="142.6" r="2"/>
</g>
<g fill="#f8766d" fill-opacity="0.24">
<path d="M666.3,213.3l2.3,4.1h-4.6z"/>
<path d="M663.9,213.3l2.3,4.1h-4.6z"/>
<path d="M667.1,212.4l2.3,4.1h-4.6z"/>
<path d="M667.3,213.3l2.3,4.1h-4.6z"/>
<path d="M665.1,212.6l2.3,4.1h-4.6z"/>
<path d="M681.5,213.3l2.3,4.1h-4.6z"/>
<path d="M682.6,212.3l2.3,4.1h-4.6z"/>
<path d="M678.3,212.1l2.3,4.1h-4.6z"/>
<path d="M677.7,213.3l2.3,4.1h-4.6z"/>
<path d="M680.6,211.6l2.3,4.1h-4.6z"/>
<path d="M695.9,212.0l2.3,4.1h-4.6z"/>
<path d="M694.0,207.8l2.3,4.1h-4.6z"/>
<path d="M696.0,213.3l2.3,4.1h-4.6z"/>
<path d="M697.3,207.9l2.3,4.1h-4.6z"/>
<path d="M693.5,188.7l2.3,4.1h-4.6z"/>
<path d="M708.3,190.0l2.3,4.1h-4.6z"/>
<path d="M707.8,193.2l2.3,4.1h-4.6z"/>
<path d="M708.6,186.7l2.3,4.1h-4.6z"/>
<path d="M712.1,190.1l2.3,4.1h-4.6z"/>
<path d="M707.8,185.1l2.3,4.1h-4.6z"/>
<path d="M725.4,184.7l2.3,4.1h-4.6z"/>
<path d="M723.8,182.3l2.3,4.1h-4.6z"/>
<path d="M723.6,193.6l2.3,4.1h-4.6z"/>
<path d="M725.3,187.3l2.3,4.1h-4.6z"/>
<path d="M725.8,165.5l2.3,4.1h-4.6z"/>
<path d="M739.9,170.6l2.3,4.1h-4.6z"/>
<path d="M740.5,209.0l2.3,4.1h-4.6z"/>
<path d="M739.9,190.4l2.3,4.1h-4.6z"/>
<path d="M742.1,179.0l2.3,4.1h-4.6z"/>
<path d="M741.2,170.0l2.3,4.1h-4.6z"/>
</g>
<g fill="#1aa7f5" fill-opacity="0.24">
<circle cx="662.8" cy="195.5" r="2"/>
<circle cx="664.1" cy="168.9" r="2"/>
<circle cx="664.8" cy="187.9" r="2"/>
<circle cx="662.1" cy="215.6" r="2"/>
<circle cx="662.2" cy="202.4" r="2"/>
<circle cx="679.2" cy="150.5" r="2"/>
<circle cx="678.2" cy="147.3" r="2"/>
<circle cx="678.1" cy="149.4" r="2"/>
<circle cx="681.2" cy="147.0" r="2"/>
<circle cx="681.2" cy="152.8" r="2"/>
<circle cx="692.9" cy="141.9" r="2"/>
<circle cx="697.0" cy="144.5" r="2"/>
<circle cx="697.1" cy="147.9" r="2"/>
<circle cx="697.1" cy="144.5" r="2"/>
<circle cx="694.1" cy="143.4" r="2"/>
<circle cx="709.2" cy="144.3" r="2"/>
<circle cx="713.1" cy="146.9" r="2"/>
<circle cx="711.3" cy="143.9" r="2"/>
<circle cx="708.7" cy="141.9" r="2"/>
<circle cx="710.7" cy="145.5" r="2"/>
<circle cx="723.3" cy="143.2" r="2"/>
<circle cx="728.0" cy="142.3" r="2"/>
<circle cx="723.7" cy="146.3" r="2"/>
<circle cx="723.6" cy="141.9" r="2"/>
<circle cx="727.4" cy="144.7" r="2"/>
<circle cx="742.0" cy="141.9" r="2"/>
<circle cx="738.9" cy="145.8" r="2"/>
<circle cx="737.7" cy="145.3" r="2"/>
<circle cx="741.8" cy="143.7" r="2"/>
<circle cx="737.5" cy="145.2" r="2"/>
</g>
<g fill="#1aa7f5" fill-opacity="0.24">
<path d="M663.1,212.9l2.3,4.1h-4.6z"/>
<path d="M662.4,211.1l2.3,4.1h-4.6z"/>
<path d="M662.0,211.9l2.3,4.1h-4.6z"/>
<path d="M666.2,213.1l2.3,4.1h-4.6z"/>
<path d="M662.2,211.2l2.3,4.1h-4.6z"/>
<path d="M679.6,211.4l2.3,4.1h-4.6z"/>
<path d="M679.6,213.0l2.3,4.1h-4.6z"/>
<path d="M681.5,212.7l2.3,4.1h-4.6z"/>
<path d="M682.8,213.3l2.3,4.1h-4.6z"/>
<path d="M680.2,213.3l2.3,4.1h-4.6z"/>
<path d="M695.3,185.8l2.3,4.1h-4.6z"/>
<path d="M696.3,190.6l2.3,4.1h-4.6z"/>
<path d="M694.8,181.3l2.3,4.1h-4.6z"/>
<path d="M697.5,194.4l2.3,4.1h-4.6z"/>
<path d="M694.9,193.1l2.3,4.1h-4.6z"/>
<path d="M708.9,180.2l2.3,4.1h-4.6z"/>
<path d="M707.6,189.6l2.3,4.1h-4.6z"/>
<path d="M709.2,194.0l2.3,4.1h-4.6z"/>
<path d="M712.0,167.9l2.3,4.1h-4.6z"/>
<path d="M709.6,190.0l2.3,4.1h-4.6z"/>
<path d="M727.3,156.9l2.3,4.1h-4.6z"/>
<path d="M725.7,183.1l2.3,4.1h-4.6z"/>
<path d="M722.6,180.8l2.3,4.1h-4.6z"/>
<path d="M722.5,181.6l2.3,4.1h-4.6z"/>
<path d="M728.1,164.9l2.3,4.1h-4.6z"/>
<path d="M741.0,169.9l2.3,4.1h-4.6z"/>
<path d="M743.2,169.9l2.3,4.1h-4.6z"/>
<path d="M739.2,191.9l2.3,4.1h-4.6z"/>
<path d="M739.5,198.9l2.3,4.1h-4.6z"/>
<path d="M741.7,173.8l2.3,4.1h-4.6z"/>
</g>
<polyline points="649.9,215.7 665.0,205.6 680.1,149.8 695.2,144.7 710.3,143.3 725.4,143.3 740.5,143.3" fill="none" stroke="#f9867c" stroke-width="1.2" stroke-linejoin="round"/>
<polyline points="649.9,215.7 665.0,215.7 680.1,214.3 695.2,202.7 710.3,193.3 725.4,188.2 740.5,183.8" fill="none" stroke="#f9867c" stroke-width="1.2" stroke-linejoin="round"/>
<polyline points="649.9,215.7 665.0,191.8 680.1,148.4 695.2,144.7 710.3,144.7 725.4,144.7 740.5,144.7" fill="none" stroke="#2baef7" stroke-width="1.2" stroke-linejoin="round" stroke-dasharray="4.2 2.4"/>
<polyline points="649.9,215.7 665.0,215.0 680.1,213.5 695.2,192.5 710.3,183.1 725.4,179.5 740.5,176.6" fill="none" stroke="#2baef7" stroke-width="1.2" stroke-linejoin="round" stroke-dasharray="4.2 2.4"/>
<path d="M665.0,202.7 V208.5 M663.4,202.7 h3.2 M663.4,208.5 h3.2" stroke="#111" stroke-width="0.6" fill="none"/>
<path d="M680.1,148.4 V151.3 M678.5,148.4 h3.2 M678.5,151.3 h3.2" stroke="#111" stroke-width="0.6" fill="none"/>
<path d="M680.1,213.5 V215.0 M678.5,213.5 h3.2 M678.5,215.0 h3.2" stroke="#111" stroke-width="0.6" fill="none"/>
<path d="M695.2,200.1 V205.2 M693.6,200.1 h3.2 M693.6,205.2 h3.2" stroke="#111" stroke-width="0.6" fill="none"/>
<path d="M710.3,190.7 V195.8 M708.7,190.7 h3.2 M708.7,195.8 h3.2" stroke="#111" stroke-width="0.6" fill="none"/>
<path d="M725.4,184.6 V191.8 M723.8,184.6 h3.2 M723.8,191.8 h3.2" stroke="#111" stroke-width="0.6" fill="none"/>
<path d="M740.5,179.9 V187.8 M738.9,179.9 h3.2 M738.9,187.8 h3.2" stroke="#111" stroke-width="0.6" fill="none"/>
<path d="M665.0,188.2 V195.4 M663.4,188.2 h3.2 M663.4,195.4 h3.2" stroke="#111" stroke-width="0.6" fill="none"/>
<path d="M680.1,146.6 V150.2 M678.5,146.6 h3.2 M678.5,150.2 h3.2" stroke="#111" stroke-width="0.6" fill="none"/>
<path d="M695.2,143.7 V145.8 M693.6,143.7 h3.2 M693.6,145.8 h3.2" stroke="#111" stroke-width="0.6" fill="none"/>
<path d="M710.3,144.0 V145.5 M708.7,144.0 h3.2 M708.7,145.5 h3.2" stroke="#111" stroke-width="0.6" fill="none"/>
<path d="M725.4,144.0 V145.5 M723.8,144.0 h3.2 M723.8,145.5 h3.2" stroke="#111" stroke-width="0.6" fill="none"/>
<path d="M740.5,144.0 V145.5 M738.9,144.0 h3.2 M738.9,145.5 h3.2" stroke="#111" stroke-width="0.6" fill="none"/>
<path d="M680.1,212.4 V214.6 M678.5,212.4 h3.2 M678.5,214.6 h3.2" stroke="#111" stroke-width="0.6" fill="none"/>
<path d="M695.2,189.6 V195.4 M693.6,189.6 h3.2 M693.6,195.4 h3.2" stroke="#111" stroke-width="0.6" fill="none"/>
<path d="M710.3,180.2 V186.0 M708.7,180.2 h3.2 M708.7,186.0 h3.2" stroke="#111" stroke-width="0.6" fill="none"/>
<path d="M725.4,175.9 V183.1 M723.8,175.9 h3.2 M723.8,183.1 h3.2" stroke="#111" stroke-width="0.6" fill="none"/>
<path d="M740.5,173.0 V180.2 M738.9,173.0 h3.2 M738.9,180.2 h3.2" stroke="#111" stroke-width="0.6" fill="none"/>
<circle cx="649.9" cy="215.7" r="2.1" fill="#ee6a5f" stroke="#1a1a1a" stroke-width="0.7"/>
<circle cx="665.0" cy="205.6" r="2.1" fill="#ee6a5f" stroke="#1a1a1a" stroke-width="0.7"/>
<circle cx="680.1" cy="149.8" r="2.1" fill="#ee6a5f" stroke="#1a1a1a" stroke-width="0.7"/>
<circle cx="695.2" cy="144.7" r="2.1" fill="#ee6a5f" stroke="#1a1a1a" stroke-width="0.7"/>
<circle cx="710.3" cy="143.3" r="2.1" fill="#ee6a5f" stroke="#1a1a1a" stroke-width="0.7"/>
<circle cx="725.4" cy="143.3" r="2.1" fill="#ee6a5f" stroke="#1a1a1a" stroke-width="0.7"/>
<circle cx="740.5" cy="143.3" r="2.1" fill="#ee6a5f" stroke="#1a1a1a" stroke-width="0.7"/>
<polygon points="649.9,213.2 652.3,217.5 647.5,217.5" fill="#ee6a5f" stroke="#1a1a1a" stroke-width="0.7" stroke-linejoin="round"/>
<polygon points="665.0,213.2 667.4,217.5 662.6,217.5" fill="#ee6a5f" stroke="#1a1a1a" stroke-width="0.7" stroke-linejoin="round"/>
<polygon points="680.1,211.8 682.5,216.1 677.7,216.1" fill="#ee6a5f" stroke="#1a1a1a" stroke-width="0.7" stroke-linejoin="round"/>
<polygon points="695.2,200.2 697.6,204.5 692.8,204.5" fill="#ee6a5f" stroke="#1a1a1a" stroke-width="0.7" stroke-linejoin="round"/>
<polygon points="710.3,190.8 712.7,195.1 707.9,195.1" fill="#ee6a5f" stroke="#1a1a1a" stroke-width="0.7" stroke-linejoin="round"/>
<polygon points="725.4,185.7 727.8,190.0 723.0,190.0" fill="#ee6a5f" stroke="#1a1a1a" stroke-width="0.7" stroke-linejoin="round"/>
<polygon points="740.5,181.3 742.9,185.6 738.1,185.6" fill="#ee6a5f" stroke="#1a1a1a" stroke-width="0.7" stroke-linejoin="round"/>
<circle cx="649.9" cy="215.7" r="2.1" fill="#12a0f0" stroke="#1a1a1a" stroke-width="0.7"/>
<circle cx="665.0" cy="191.8" r="2.1" fill="#12a0f0" stroke="#1a1a1a" stroke-width="0.7"/>
<circle cx="680.1" cy="148.4" r="2.1" fill="#12a0f0" stroke="#1a1a1a" stroke-width="0.7"/>
<circle cx="695.2" cy="144.7" r="2.1" fill="#12a0f0" stroke="#1a1a1a" stroke-width="0.7"/>
<circle cx="710.3" cy="144.7" r="2.1" fill="#12a0f0" stroke="#1a1a1a" stroke-width="0.7"/>
<circle cx="725.4" cy="144.7" r="2.1" fill="#12a0f0" stroke="#1a1a1a" stroke-width="0.7"/>
<circle cx="740.5" cy="144.7" r="2.1" fill="#12a0f0" stroke="#1a1a1a" stroke-width="0.7"/>
<polygon points="649.9,213.2 652.3,217.5 647.5,217.5" fill="#12a0f0" stroke="#1a1a1a" stroke-width="0.7" stroke-linejoin="round"/>
<polygon points="665.0,212.5 667.4,216.8 662.6,216.8" fill="#12a0f0" stroke="#1a1a1a" stroke-width="0.7" stroke-linejoin="round"/>
<polygon points="680.1,211.0 682.5,215.3 677.7,215.3" fill="#12a0f0" stroke="#1a1a1a" stroke-width="0.7" stroke-linejoin="round"/>
<polygon points="695.2,190.0 697.6,194.3 692.8,194.3" fill="#12a0f0" stroke="#1a1a1a" stroke-width="0.7" stroke-linejoin="round"/>
<polygon points="710.3,180.6 712.7,184.9 707.9,184.9" fill="#12a0f0" stroke="#1a1a1a" stroke-width="0.7" stroke-linejoin="round"/>
<polygon points="725.4,177.0 727.8,181.3 723.0,181.3" fill="#12a0f0" stroke="#1a1a1a" stroke-width="0.7" stroke-linejoin="round"/>
<polygon points="740.5,174.1 742.9,178.4 738.1,178.4" fill="#12a0f0" stroke="#1a1a1a" stroke-width="0.7" stroke-linejoin="round"/>
<rect x="642.4" y="139.0" width="105.6" height="80.85" fill="none" stroke="#4a4a4a" stroke-width="1.1"/>
<g stroke="#333" stroke-width="0.7"><line x1="639.8" y1="215.7" x2="641.9" y2="215.7"/><line x1="639.8" y1="197.6" x2="641.9" y2="197.6"/><line x1="639.8" y1="179.5" x2="641.9" y2="179.5"/><line x1="639.8" y1="161.4" x2="641.9" y2="161.4"/><line x1="639.8" y1="143.3" x2="641.9" y2="143.3"/><line x1="649.9" y1="220.3" x2="649.9" y2="222.4"/><line x1="665.0" y1="220.3" x2="665.0" y2="222.4"/><line x1="680.1" y1="220.3" x2="680.1" y2="222.4"/><line x1="695.2" y1="220.3" x2="695.2" y2="222.4"/><line x1="710.3" y1="220.3" x2="710.3" y2="222.4"/><line x1="725.4" y1="220.3" x2="725.4" y2="222.4"/><line x1="740.5" y1="220.3" x2="740.5" y2="222.4"/></g>
<g font-size="6.6" fill="#4d4d4d">
<text x="638.80" y="218.05" font-size="6.6" text-anchor="end" fill="#4d4d4d">0</text>
<text x="638.80" y="199.95" font-size="6.6" text-anchor="end" fill="#4d4d4d">25</text>
<text x="638.80" y="181.85" font-size="6.6" text-anchor="end" fill="#4d4d4d">50</text>
<text x="638.80" y="163.75" font-size="6.6" text-anchor="end" fill="#4d4d4d">75</text>
<text x="638.80" y="145.65" font-size="6.6" text-anchor="end" fill="#4d4d4d">100</text>
<text x="649.90" y="229.25" font-size="6.6" text-anchor="middle" fill="#4d4d4d">1</text>
<text x="665.00" y="229.25" font-size="6.6" text-anchor="middle" fill="#4d4d4d">2</text>
<text x="680.10" y="229.25" font-size="6.6" text-anchor="middle" fill="#4d4d4d">3</text>
<text x="695.20" y="229.25" font-size="6.6" text-anchor="middle" fill="#4d4d4d">4</text>
<text x="710.30" y="229.25" font-size="6.6" text-anchor="middle" fill="#4d4d4d">5</text>
<text x="725.40" y="229.25" font-size="6.6" text-anchor="middle" fill="#4d4d4d">6</text>
<text x="740.50" y="229.25" font-size="6.6" text-anchor="middle" fill="#4d4d4d">7</text>
</g>
<text x="642.80" y="132.70" font-size="10.3" text-anchor="start" fill="#000" font-style="italic" stroke="#000" stroke-width="0.18">at1g77770-1</text>
<rect x="767.0" y="139.0" width="105.6" height="80.85" fill="#fff"/>
<g stroke="#e6e6e6"><line x1="782.0" y1="139.0" x2="782.0" y2="219.8" stroke-width="0.4"/><line x1="797.1" y1="139.0" x2="797.1" y2="219.8" stroke-width="0.4"/><line x1="812.2" y1="139.0" x2="812.2" y2="219.8" stroke-width="0.4"/><line x1="827.4" y1="139.0" x2="827.4" y2="219.8" stroke-width="0.4"/><line x1="842.5" y1="139.0" x2="842.5" y2="219.8" stroke-width="0.4"/><line x1="857.5" y1="139.0" x2="857.5" y2="219.8" stroke-width="0.4"/><line x1="767.0" y1="206.6" x2="872.6" y2="206.6" stroke-width="0.4"/><line x1="767.0" y1="188.6" x2="872.6" y2="188.6" stroke-width="0.4"/><line x1="767.0" y1="170.5" x2="872.6" y2="170.5" stroke-width="0.4"/><line x1="767.0" y1="152.4" x2="872.6" y2="152.4" stroke-width="0.4"/><line x1="774.5" y1="139.0" x2="774.5" y2="219.8" stroke-width="0.8"/><line x1="789.6" y1="139.0" x2="789.6" y2="219.8" stroke-width="0.8"/><line x1="804.7" y1="139.0" x2="804.7" y2="219.8" stroke-width="0.8"/><line x1="819.8" y1="139.0" x2="819.8" y2="219.8" stroke-width="0.8"/><line x1="834.9" y1="139.0" x2="834.9" y2="219.8" stroke-width="0.8"/><line x1="850.0" y1="139.0" x2="850.0" y2="219.8" stroke-width="0.8"/><line x1="865.1" y1="139.0" x2="865.1" y2="219.8" stroke-width="0.8"/><line x1="767.0" y1="215.7" x2="872.6" y2="215.7" stroke-width="0.8"/><line x1="767.0" y1="197.6" x2="872.6" y2="197.6" stroke-width="0.8"/><line x1="767.0" y1="179.5" x2="872.6" y2="179.5" stroke-width="0.8"/><line x1="767.0" y1="161.4" x2="872.6" y2="161.4" stroke-width="0.8"/><line x1="767.0" y1="143.3" x2="872.6" y2="143.3" stroke-width="0.8"/></g>
<g fill="#f8766d" fill-opacity="0.24">
<circle cx="791.3" cy="199.8" r="2"/>
<circle cx="792.3" cy="211.1" r="2"/>
<circle cx="788.6" cy="211.2" r="2"/>
<circle cx="787.6" cy="191.8" r="2"/>
<circle cx="787.5" cy="214.0" r="2"/>
<circle cx="805.7" cy="143.9" r="2"/>
<circle cx="804.3" cy="151.4" r="2"/>
<circle cx="804.0" cy="147.7" r="2"/>
<circle cx="807.2" cy="158.5" r="2"/>
<circle cx="803.1" cy="147.6" r="2"/>
<circle cx="822.6" cy="143.3" r="2"/>
<circle cx="821.7" cy="144.9" r="2"/>
<circle cx="822.4" cy="145.6" r="2"/>
<circle cx="822.8" cy="144.9" r="2"/>
<circle cx="821.7" cy="145.1" r="2"/>
<circle cx="836.5" cy="143.7" r="2"/>
<circle cx="837.8" cy="141.9" r="2"/>
<circle cx="836.3" cy="145.3" r="2"/>
<circle cx="834.9" cy="144.3" r="2"/>
<circle cx="836.5" cy="142.5" r="2"/>
<circle cx="850.1" cy="144.7" r="2"/>
<circle cx="850.5" cy="144.7" r="2"/>
<circle cx="852.6" cy="141.9" r="2"/>
<circle cx="851.2" cy="143.7" r="2"/>
<circle cx="848.7" cy="142.5" r="2"/>
<circle cx="863.7" cy="142.5" r="2"/>
<circle cx="865.0" cy="142.9" r="2"/>
<circle cx="866.8" cy="142.9" r="2"/>
<circle cx="865.6" cy="141.9" r="2"/>
<circle cx="862.2" cy="145.4" r="2"/>
</g>
<g fill="#f8766d" fill-opacity="0.24">
<path d="M791.8,213.2l2.3,4.1h-4.6z"/>
<path d="M788.5,213.0l2.3,4.1h-4.6z"/>
<path d="M790.1,213.3l2.3,4.1h-4.6z"/>
<path d="M791.7,213.3l2.3,4.1h-4.6z"/>
<path d="M790.4,213.3l2.3,4.1h-4.6z"/>
<path d="M803.8,212.6l2.3,4.1h-4.6z"/>
<path d="M803.2,210.2l2.3,4.1h-4.6z"/>
<path d="M807.2,212.1l2.3,4.1h-4.6z"/>
<path d="M806.5,212.6l2.3,4.1h-4.6z"/>
<path d="M807.2,211.4l2.3,4.1h-4.6z"/>
<path d="M822.0,204.9l2.3,4.1h-4.6z"/>
<path d="M818.8,200.0l2.3,4.1h-4.6z"/>
<path d="M822.1,200.2l2.3,4.1h-4.6z"/>
<path d="M818.2,198.0l2.3,4.1h-4.6z"/>
<path d="M821.0,195.0l2.3,4.1h-4.6z"/>
<path d="M837.9,185.9l2.3,4.1h-4.6z"/>
<path d="M833.5,188.3l2.3,4.1h-4.6z"/>
<path d="M837.1,180.6l2.3,4.1h-4.6z"/>
<path d="M836.9,202.4l2.3,4.1h-4.6z"/>
<path d="M835.1,189.9l2.3,4.1h-4.6z"/>
<path d="M848.0,187.3l2.3,4.1h-4.6z"/>
<path d="M851.2,185.5l2.3,4.1h-4.6z"/>
<path d="M847.3,184.8l2.3,4.1h-4.6z"/>
<path d="M851.5,200.0l2.3,4.1h-4.6z"/>
<path d="M851.5,173.3l2.3,4.1h-4.6z"/>
<path d="M866.1,200.6l2.3,4.1h-4.6z"/>
<path d="M863.2,188.1l2.3,4.1h-4.6z"/>
<path d="M866.0,172.3l2.3,4.1h-4.6z"/>
<path d="M863.5,193.0l2.3,4.1h-4.6z"/>
<path d="M863.7,163.0l2.3,4.1h-4.6z"/>
</g>
<g fill="#1aa7f5" fill-opacity="0.24">
<circle cx="791.3" cy="193.7" r="2"/>
<circle cx="791.6" cy="196.7" r="2"/>
<circle cx="790.7" cy="198.7" r="2"/>
<circle cx="790.0" cy="202.7" r="2"/>
<circle cx="790.7" cy="215.7" r="2"/>
<circle cx="803.6" cy="142.3" r="2"/>
<circle cx="804.5" cy="149.9" r="2"/>
<circle cx="804.6" cy="157.8" r="2"/>
<circle cx="806.6" cy="153.9" r="2"/>
<circle cx="803.5" cy="152.5" r="2"/>
<circle cx="820.2" cy="150.3" r="2"/>
<circle cx="817.2" cy="147.7" r="2"/>
<circle cx="822.1" cy="146.2" r="2"/>
<circle cx="820.9" cy="148.0" r="2"/>
<circle cx="819.5" cy="148.6" r="2"/>
<circle cx="836.3" cy="149.3" r="2"/>
<circle cx="832.4" cy="148.4" r="2"/>
<circle cx="834.2" cy="150.7" r="2"/>
<circle cx="835.6" cy="144.0" r="2"/>
<circle cx="834.0" cy="149.8" r="2"/>
<circle cx="849.8" cy="150.6" r="2"/>
<circle cx="852.1" cy="150.1" r="2"/>
<circle cx="851.4" cy="149.3" r="2"/>
<circle cx="851.2" cy="148.7" r="2"/>
<circle cx="852.9" cy="146.2" r="2"/>
<circle cx="866.0" cy="146.8" r="2"/>
<circle cx="864.6" cy="149.5" r="2"/>
<circle cx="868.0" cy="150.6" r="2"/>
<circle cx="862.7" cy="148.8" r="2"/>
<circle cx="865.2" cy="146.0" r="2"/>
</g>
<g fill="#1aa7f5" fill-opacity="0.24">
<path d="M792.5,213.3l2.3,4.1h-4.6z"/>
<path d="M788.2,213.3l2.3,4.1h-4.6z"/>
<path d="M788.6,213.0l2.3,4.1h-4.6z"/>
<path d="M792.1,212.3l2.3,4.1h-4.6z"/>
<path d="M792.6,213.0l2.3,4.1h-4.6z"/>
<path d="M804.2,206.8l2.3,4.1h-4.6z"/>
<path d="M803.6,213.3l2.3,4.1h-4.6z"/>
<path d="M803.6,209.5l2.3,4.1h-4.6z"/>
<path d="M802.1,210.1l2.3,4.1h-4.6z"/>
<path d="M806.5,210.9l2.3,4.1h-4.6z"/>
<path d="M819.7,197.4l2.3,4.1h-4.6z"/>
<path d="M819.6,204.9l2.3,4.1h-4.6z"/>
<path d="M818.9,196.3l2.3,4.1h-4.6z"/>
<path d="M820.3,186.7l2.3,4.1h-4.6z"/>
<path d="M817.0,201.9l2.3,4.1h-4.6z"/>
<path d="M837.8,178.1l2.3,4.1h-4.6z"/>
<path d="M834.2,178.2l2.3,4.1h-4.6z"/>
<path d="M832.7,187.2l2.3,4.1h-4.6z"/>
<path d="M833.0,178.6l2.3,4.1h-4.6z"/>
<path d="M833.9,189.5l2.3,4.1h-4.6z"/>
<path d="M853.0,177.1l2.3,4.1h-4.6z"/>
<path d="M852.8,169.5l2.3,4.1h-4.6z"/>
<path d="M850.4,180.0l2.3,4.1h-4.6z"/>
<path d="M851.6,165.2l2.3,4.1h-4.6z"/>
<path d="M847.7,180.3l2.3,4.1h-4.6z"/>
<path d="M867.5,174.3l2.3,4.1h-4.6z"/>
<path d="M864.9,174.1l2.3,4.1h-4.6z"/>
<path d="M862.5,176.0l2.3,4.1h-4.6z"/>
<path d="M863.2,164.8l2.3,4.1h-4.6z"/>
<path d="M866.7,153.2l2.3,4.1h-4.6z"/>
</g>
<polyline points="774.5,215.7 789.6,205.6 804.7,149.8 819.8,144.7 834.9,143.3 850.0,143.3 865.1,143.3" fill="none" stroke="#f9867c" stroke-width="1.2" stroke-linejoin="round"/>
<polyline points="774.5,215.7 789.6,215.7 804.7,214.3 819.8,202.7 834.9,193.3 850.0,188.2 865.1,183.8" fill="none" stroke="#f9867c" stroke-width="1.2" stroke-linejoin="round"/>
<polyline points="774.5,215.7 789.6,201.2 804.7,152.7 819.8,148.4 834.9,148.4 850.0,148.4 865.1,148.4" fill="none" stroke="#2baef7" stroke-width="1.2" stroke-linejoin="round" stroke-dasharray="4.2 2.4"/>
<polyline points="774.5,215.7 789.6,215.7 804.7,212.8 819.8,198.3 834.9,190.4 850.0,184.6 865.1,179.5" fill="none" stroke="#2baef7" stroke-width="1.2" stroke-linejoin="round" stroke-dasharray="4.2 2.4"/>
<path d="M789.6,202.7 V208.5 M788.0,202.7 h3.2 M788.0,208.5 h3.2" stroke="#111" stroke-width="0.6" fill="none"/>
<path d="M804.7,148.4 V151.3 M803.1,148.4 h3.2 M803.1,151.3 h3.2" stroke="#111" stroke-width="0.6" fill="none"/>
<path d="M804.7,213.5 V215.0 M803.1,213.5 h3.2 M803.1,215.0 h3.2" stroke="#111" stroke-width="0.6" fill="none"/>
<path d="M819.8,200.1 V205.2 M818.2,200.1 h3.2 M818.2,205.2 h3.2" stroke="#111" stroke-width="0.6" fill="none"/>
<path d="M834.9,190.7 V195.8 M833.3,190.7 h3.2 M833.3,195.8 h3.2" stroke="#111" stroke-width="0.6" fill="none"/>
<path d="M850.0,184.6 V191.8 M848.4,184.6 h3.2 M848.4,191.8 h3.2" stroke="#111" stroke-width="0.6" fill="none"/>
<path d="M865.1,179.9 V187.8 M863.5,179.9 h3.2 M863.5,187.8 h3.2" stroke="#111" stroke-width="0.6" fill="none"/>
<path d="M789.6,197.6 V204.8 M788.0,197.6 h3.2 M788.0,204.8 h3.2" stroke="#111" stroke-width="0.6" fill="none"/>
<path d="M804.7,150.9 V154.5 M803.1,150.9 h3.2 M803.1,154.5 h3.2" stroke="#111" stroke-width="0.6" fill="none"/>
<path d="M819.8,147.3 V149.5 M818.2,147.3 h3.2 M818.2,149.5 h3.2" stroke="#111" stroke-width="0.6" fill="none"/>
<path d="M834.9,147.6 V149.1 M833.3,147.6 h3.2 M833.3,149.1 h3.2" stroke="#111" stroke-width="0.6" fill="none"/>
<path d="M850.0,147.6 V149.1 M848.4,147.6 h3.2 M848.4,149.1 h3.2" stroke="#111" stroke-width="0.6" fill="none"/>
<path d="M865.1,147.6 V149.1 M863.5,147.6 h3.2 M863.5,149.1 h3.2" stroke="#111" stroke-width="0.6" fill="none"/>
<path d="M804.7,211.7 V213.9 M803.1,211.7 h3.2 M803.1,213.9 h3.2" stroke="#111" stroke-width="0.6" fill="none"/>
<path d="M819.8,195.4 V201.2 M818.2,195.4 h3.2 M818.2,201.2 h3.2" stroke="#111" stroke-width="0.6" fill="none"/>
<path d="M834.9,187.5 V193.3 M833.3,187.5 h3.2 M833.3,193.3 h3.2" stroke="#111" stroke-width="0.6" fill="none"/>
<path d="M850.0,180.9 V188.2 M848.4,180.9 h3.2 M848.4,188.2 h3.2" stroke="#111" stroke-width="0.6" fill="none"/>
<path d="M865.1,175.9 V183.1 M863.5,175.9 h3.2 M863.5,183.1 h3.2" stroke="#111" stroke-width="0.6" fill="none"/>
<circle cx="774.5" cy="215.7" r="2.1" fill="#ee6a5f" stroke="#1a1a1a" stroke-width="0.7"/>
<circle cx="789.6" cy="205.6" r="2.1" fill="#ee6a5f" stroke="#1a1a1a" stroke-width="0.7"/>
<circle cx="804.7" cy="149.8" r="2.1" fill="#ee6a5f" stroke="#1a1a1a" stroke-width="0.7"/>
<circle cx="819.8" cy="144.7" r="2.1" fill="#ee6a5f" stroke="#1a1a1a" stroke-width="0.7"/>
<circle cx="834.9" cy="143.3" r="2.1" fill="#ee6a5f" stroke="#1a1a1a" stroke-width="0.7"/>
<circle cx="850.0" cy="143.3" r="2.1" fill="#ee6a5f" stroke="#1a1a1a" stroke-width="0.7"/>
<circle cx="865.1" cy="143.3" r="2.1" fill="#ee6a5f" stroke="#1a1a1a" stroke-width="0.7"/>
<polygon points="774.5,213.2 776.9,217.5 772.1,217.5" fill="#ee6a5f" stroke="#1a1a1a" stroke-width="0.7" stroke-linejoin="round"/>
<polygon points="789.6,213.2 792.0,217.5 787.2,217.5" fill="#ee6a5f" stroke="#1a1a1a" stroke-width="0.7" stroke-linejoin="round"/>
<polygon points="804.7,211.8 807.1,216.1 802.3,216.1" fill="#ee6a5f" stroke="#1a1a1a" stroke-width="0.7" stroke-linejoin="round"/>
<polygon points="819.8,200.2 822.2,204.5 817.4,204.5" fill="#ee6a5f" stroke="#1a1a1a" stroke-width="0.7" stroke-linejoin="round"/>
<polygon points="834.9,190.8 837.3,195.1 832.5,195.1" fill="#ee6a5f" stroke="#1a1a1a" stroke-width="0.7" stroke-linejoin="round"/>
<polygon points="850.0,185.7 852.4,190.0 847.6,190.0" fill="#ee6a5f" stroke="#1a1a1a" stroke-width="0.7" stroke-linejoin="round"/>
<polygon points="865.1,181.3 867.5,185.6 862.7,185.6" fill="#ee6a5f" stroke="#1a1a1a" stroke-width="0.7" stroke-linejoin="round"/>
<circle cx="774.5" cy="215.7" r="2.1" fill="#12a0f0" stroke="#1a1a1a" stroke-width="0.7"/>
<circle cx="789.6" cy="201.2" r="2.1" fill="#12a0f0" stroke="#1a1a1a" stroke-width="0.7"/>
<circle cx="804.7" cy="152.7" r="2.1" fill="#12a0f0" stroke="#1a1a1a" stroke-width="0.7"/>
<circle cx="819.8" cy="148.4" r="2.1" fill="#12a0f0" stroke="#1a1a1a" stroke-width="0.7"/>
<circle cx="834.9" cy="148.4" r="2.1" fill="#12a0f0" stroke="#1a1a1a" stroke-width="0.7"/>
<circle cx="850.0" cy="148.4" r="2.1" fill="#12a0f0" stroke="#1a1a1a" stroke-width="0.7"/>
<circle cx="865.1" cy="148.4" r="2.1" fill="#12a0f0" stroke="#1a1a1a" stroke-width="0.7"/>
<polygon points="774.5,213.2 776.9,217.5 772.1,217.5" fill="#12a0f0" stroke="#1a1a1a" stroke-width="0.7" stroke-linejoin="round"/>
<polygon points="789.6,213.2 792.0,217.5 787.2,217.5" fill="#12a0f0" stroke="#1a1a1a" stroke-width="0.7" stroke-linejoin="round"/>
<polygon points="804.7,210.3 807.1,214.6 802.3,214.6" fill="#12a0f0" stroke="#1a1a1a" stroke-width="0.7" stroke-linejoin="round"/>
<polygon points="819.8,195.8 822.2,200.1 817.4,200.1" fill="#12a0f0" stroke="#1a1a1a" stroke-width="0.7" stroke-linejoin="round"/>
<polygon points="834.9,187.9 837.3,192.2 832.5,192.2" fill="#12a0f0" stroke="#1a1a1a" stroke-width="0.7" stroke-linejoin="round"/>
<polygon points="850.0,182.1 852.4,186.4 847.6,186.4" fill="#12a0f0" stroke="#1a1a1a" stroke-width="0.7" stroke-linejoin="round"/>
<polygon points="865.1,177.0 867.5,181.3 862.7,181.3" fill="#12a0f0" stroke="#1a1a1a" stroke-width="0.7" stroke-linejoin="round"/>
<rect x="767.0" y="139.0" width="105.6" height="80.85" fill="none" stroke="#4a4a4a" stroke-width="1.1"/>
<g stroke="#333" stroke-width="0.7"><line x1="764.4" y1="215.7" x2="766.5" y2="215.7"/><line x1="764.4" y1="197.6" x2="766.5" y2="197.6"/><line x1="764.4" y1="179.5" x2="766.5" y2="179.5"/><line x1="764.4" y1="161.4" x2="766.5" y2="161.4"/><line x1="764.4" y1="143.3" x2="766.5" y2="143.3"/><line x1="774.5" y1="220.3" x2="774.5" y2="222.4"/><line x1="789.6" y1="220.3" x2="789.6" y2="222.4"/><line x1="804.7" y1="220.3" x2="804.7" y2="222.4"/><line x1="819.8" y1="220.3" x2="819.8" y2="222.4"/><line x1="834.9" y1="220.3" x2="834.9" y2="222.4"/><line x1="850.0" y1="220.3" x2="850.0" y2="222.4"/><line x1="865.1" y1="220.3" x2="865.1" y2="222.4"/></g>
<g font-size="6.6" fill="#4d4d4d">
<text x="763.40" y="218.05" font-size="6.6" text-anchor="end" fill="#4d4d4d">0</text>
<text x="763.40" y="199.95" font-size="6.6" text-anchor="end" fill="#4d4d4d">25</text>
<text x="763.40" y="181.85" font-size="6.6" text-anchor="end" fill="#4d4d4d">50</text>
<text x="763.40" y="163.75" font-size="6.6" text-anchor="end" fill="#4d4d4d">75</text>
<text x="763.40" y="145.65" font-size="6.6" text-anchor="end" fill="#4d4d4d">100</text>
<text x="774.50" y="229.25" font-size="6.6" text-anchor="middle" fill="#4d4d4d">1</text>
<text x="789.60" y="229.25" font-size="6.6" text-anchor="middle" fill="#4d4d4d">2</text>
<text x="804.70" y="229.25" font-size="6.6" text-anchor="middle" fill="#4d4d4d">3</text>
<text x="819.80" y="229.25" font-size="6.6" text-anchor="middle" fill="#4d4d4d">4</text>
<text x="834.90" y="229.25" font-size="6.6" text-anchor="middle" fill="#4d4d4d">5</text>
<text x="850.00" y="229.25" font-size="6.6" text-anchor="middle" fill="#4d4d4d">6</text>
<text x="865.10" y="229.25" font-size="6.6" text-anchor="middle" fill="#4d4d4d">7</text>
</g>
<text x="767.40" y="132.70" font-size="10.3" text-anchor="start" fill="#000" font-style="italic" stroke="#000" stroke-width="0.18">atl31-2</text>
<rect x="517.6" y="247.05" width="105.6" height="81.05000000000001" fill="#fff"/>
<g stroke="#e6e6e6"><line x1="532.6" y1="247.05" x2="532.6" y2="328.1" stroke-width="0.4"/><line x1="547.8" y1="247.05" x2="547.8" y2="328.1" stroke-width="0.4"/><line x1="562.9" y1="247.05" x2="562.9" y2="328.1" stroke-width="0.4"/><line x1="578.0" y1="247.05" x2="578.0" y2="328.1" stroke-width="0.4"/><line x1="593.1" y1="247.05" x2="593.1" y2="328.1" stroke-width="0.4"/><line x1="608.1" y1="247.05" x2="608.1" y2="328.1" stroke-width="0.4"/><line x1="517.6" y1="314.7" x2="623.2" y2="314.7" stroke-width="0.4"/><line x1="517.6" y1="296.7" x2="623.2" y2="296.7" stroke-width="0.4"/><line x1="517.6" y1="278.7" x2="623.2" y2="278.7" stroke-width="0.4"/><line x1="517.6" y1="260.7" x2="623.2" y2="260.7" stroke-width="0.4"/><line x1="525.1" y1="247.05" x2="525.1" y2="328.1" stroke-width="0.8"/><line x1="540.2" y1="247.05" x2="540.2" y2="328.1" stroke-width="0.8"/><line x1="555.3" y1="247.05" x2="555.3" y2="328.1" stroke-width="0.8"/><line x1="570.4" y1="247.05" x2="570.4" y2="328.1" stroke-width="0.8"/><line x1="585.5" y1="247.05" x2="585.5" y2="328.1" stroke-width="0.8"/><line x1="600.6" y1="247.05" x2="600.6" y2="328.1" stroke-width="0.8"/><line x1="615.7" y1="247.05" x2="615.7" y2="328.1" stroke-width="0.8"/><line x1="517.6" y1="323.8" x2="623.2" y2="323.8" stroke-width="0.8"/><line x1="517.6" y1="305.7" x2="623.2" y2="305.7" stroke-width="0.8"/><line x1="517.6" y1="287.7" x2="623.2" y2="287.7" stroke-width="0.8"/><line x1="517.6" y1="269.7" x2="623.2" y2="269.7" stroke-width="0.8"/><line x1="517.6" y1="251.7" x2="623.2" y2="251.7" stroke-width="0.8"/></g>
<g fill="#f8766d" fill-opacity="0.24">
<circle cx="537.3" cy="318.2" r="2"/>
<circle cx="542.9" cy="323.8" r="2"/>
<circle cx="542.0" cy="312.4" r="2"/>
<circle cx="542.0" cy="316.3" r="2"/>
<circle cx="539.4" cy="304.9" r="2"/>
<circle cx="555.0" cy="250.3" r="2"/>
<circle cx="556.8" cy="261.9" r="2"/>
<circle cx="554.0" cy="263.6" r="2"/>
<circle cx="553.9" cy="260.5" r="2"/>
<circle cx="555.2" cy="257.9" r="2"/>
<circle cx="572.3" cy="252.2" r="2"/>
<circle cx="568.5" cy="252.7" r="2"/>
<circle cx="571.8" cy="253.4" r="2"/>
<circle cx="568.0" cy="253.0" r="2"/>
<circle cx="570.1" cy="252.4" r="2"/>
<circle cx="585.8" cy="250.3" r="2"/>
<circle cx="585.0" cy="252.7" r="2"/>
<circle cx="583.4" cy="252.5" r="2"/>
<circle cx="584.0" cy="251.2" r="2"/>
<circle cx="584.4" cy="251.1" r="2"/>
<circle cx="598.4" cy="251.1" r="2"/>
<circle cx="599.2" cy="252.2" r="2"/>
<circle cx="603.3" cy="250.3" r="2"/>
<circle cx="602.2" cy="250.3" r="2"/>
<circle cx="600.3" cy="250.4" r="2"/>
<circle cx="615.0" cy="252.1" r="2"/>
<circle cx="615.8" cy="252.2" r="2"/>
<circle cx="615.0" cy="252.4" r="2"/>
<circle cx="616.6" cy="252.8" r="2"/>
<circle cx="613.5" cy="253.6" r="2"/>
</g>
<g fill="#f8766d" fill-opacity="0.24">
<path d="M540.4,321.4l2.3,4.1h-4.6z"/>
<path d="M537.6,321.4l2.3,4.1h-4.6z"/>
<path d="M541.5,320.2l2.3,4.1h-4.6z"/>
<path d="M540.2,320.6l2.3,4.1h-4.6z"/>
<path d="M542.1,321.4l2.3,4.1h-4.6z"/>
<path d="M553.6,321.4l2.3,4.1h-4.6z"/>
<path d="M553.0,318.1l2.3,4.1h-4.6z"/>
<path d="M553.7,321.4l2.3,4.1h-4.6z"/>
<path d="M556.1,320.9l2.3,4.1h-4.6z"/>
<path d="M552.7,316.3l2.3,4.1h-4.6z"/>
<path d="M572.6,309.0l2.3,4.1h-4.6z"/>
<path d="M569.1,314.8l2.3,4.1h-4.6z"/>
<path d="M570.2,302.9l2.3,4.1h-4.6z"/>
<path d="M570.0,304.3l2.3,4.1h-4.6z"/>
<path d="M569.0,311.9l2.3,4.1h-4.6z"/>
<path d="M582.7,299.8l2.3,4.1h-4.6z"/>
<path d="M584.2,290.3l2.3,4.1h-4.6z"/>
<path d="M583.5,299.7l2.3,4.1h-4.6z"/>
<path d="M583.4,299.6l2.3,4.1h-4.6z"/>
<path d="M586.5,299.5l2.3,4.1h-4.6z"/>
<path d="M602.7,310.7l2.3,4.1h-4.6z"/>
<path d="M599.5,296.9l2.3,4.1h-4.6z"/>
<path d="M602.6,292.4l2.3,4.1h-4.6z"/>
<path d="M600.8,313.5l2.3,4.1h-4.6z"/>
<path d="M598.7,293.7l2.3,4.1h-4.6z"/>
<path d="M616.2,292.8l2.3,4.1h-4.6z"/>
<path d="M615.2,305.0l2.3,4.1h-4.6z"/>
<path d="M613.0,295.2l2.3,4.1h-4.6z"/>
<path d="M616.7,293.0l2.3,4.1h-4.6z"/>
<path d="M614.1,282.5l2.3,4.1h-4.6z"/>
</g>
<g fill="#1aa7f5" fill-opacity="0.24">
<circle cx="539.5" cy="311.4" r="2"/>
<circle cx="540.9" cy="323.8" r="2"/>
<circle cx="537.5" cy="304.8" r="2"/>
<circle cx="542.4" cy="318.5" r="2"/>
<circle cx="540.1" cy="317.9" r="2"/>
<circle cx="554.7" cy="250.3" r="2"/>
<circle cx="557.5" cy="256.7" r="2"/>
<circle cx="554.0" cy="260.4" r="2"/>
<circle cx="557.3" cy="256.0" r="2"/>
<circle cx="554.3" cy="271.5" r="2"/>
<circle cx="569.2" cy="250.7" r="2"/>
<circle cx="569.6" cy="255.4" r="2"/>
<circle cx="570.1" cy="250.6" r="2"/>
<circle cx="570.8" cy="252.3" r="2"/>
<circle cx="567.6" cy="251.9" r="2"/>
<circle cx="586.1" cy="255.4" r="2"/>
<circle cx="585.8" cy="251.4" r="2"/>
<circle cx="585.2" cy="252.3" r="2"/>
<circle cx="584.7" cy="254.4" r="2"/>
<circle cx="583.7" cy="254.6" r="2"/>
<circle cx="598.9" cy="253.6" r="2"/>
<circle cx="602.7" cy="252.8" r="2"/>
<circle cx="602.3" cy="250.9" r="2"/>
<circle cx="597.7" cy="254.3" r="2"/>
<circle cx="603.0" cy="255.7" r="2"/>
<circle cx="613.0" cy="250.9" r="2"/>
<circle cx="613.2" cy="250.3" r="2"/>
<circle cx="615.1" cy="254.2" r="2"/>
<circle cx="613.7" cy="252.2" r="2"/>
<circle cx="616.2" cy="254.9" r="2"/>
</g>
<g fill="#1aa7f5" fill-opacity="0.24">
<path d="M538.5,321.4l2.3,4.1h-4.6z"/>
<path d="M540.2,321.4l2.3,4.1h-4.6z"/>
<path d="M542.6,320.5l2.3,4.1h-4.6z"/>
<path d="M542.9,319.0l2.3,4.1h-4.6z"/>
<path d="M542.1,320.9l2.3,4.1h-4.6z"/>
<path d="M555.1,318.4l2.3,4.1h-4.6z"/>
<path d="M552.5,317.2l2.3,4.1h-4.6z"/>
<path d="M553.0,321.4l2.3,4.1h-4.6z"/>
<path d="M554.7,320.3l2.3,4.1h-4.6z"/>
<path d="M556.0,321.4l2.3,4.1h-4.6z"/>
<path d="M570.3,307.5l2.3,4.1h-4.6z"/>
<path d="M567.5,310.0l2.3,4.1h-4.6z"/>
<path d="M568.0,316.1l2.3,4.1h-4.6z"/>
<path d="M567.9,304.2l2.3,4.1h-4.6z"/>
<path d="M570.3,310.2l2.3,4.1h-4.6z"/>
<path d="M585.2,320.0l2.3,4.1h-4.6z"/>
<path d="M583.6,298.6l2.3,4.1h-4.6z"/>
<path d="M585.5,311.9l2.3,4.1h-4.6z"/>
<path d="M584.6,317.9l2.3,4.1h-4.6z"/>
<path d="M585.5,306.2l2.3,4.1h-4.6z"/>
<path d="M602.9,284.1l2.3,4.1h-4.6z"/>
<path d="M602.0,295.7l2.3,4.1h-4.6z"/>
<path d="M600.6,283.7l2.3,4.1h-4.6z"/>
<path d="M600.1,321.4l2.3,4.1h-4.6z"/>
<path d="M599.4,300.1l2.3,4.1h-4.6z"/>
<path d="M616.3,305.2l2.3,4.1h-4.6z"/>
<path d="M618.3,268.4l2.3,4.1h-4.6z"/>
<path d="M615.8,291.1l2.3,4.1h-4.6z"/>
<path d="M615.5,304.8l2.3,4.1h-4.6z"/>
<path d="M613.3,304.4l2.3,4.1h-4.6z"/>
</g>
<polyline points="525.1,323.8 540.2,313.7 555.3,258.2 570.4,253.1 585.5,251.7 600.6,251.7 615.7,251.7" fill="none" stroke="#f9867c" stroke-width="1.2" stroke-linejoin="round"/>
<polyline points="525.1,323.8 540.2,323.8 555.3,322.3 570.4,310.8 585.5,301.4 600.6,296.4 615.7,292.0" fill="none" stroke="#f9867c" stroke-width="1.2" stroke-linejoin="round"/>
<polyline points="525.1,323.8 540.2,312.2 555.3,258.2 570.4,254.6 585.5,253.9 600.6,253.9 615.7,253.9" fill="none" stroke="#2baef7" stroke-width="1.2" stroke-linejoin="round" stroke-dasharray="4.2 2.4"/>
<polyline points="525.1,323.8 540.2,323.8 555.3,322.3 570.4,313.7 585.5,309.3 600.6,302.1 615.7,300.0" fill="none" stroke="#2baef7" stroke-width="1.2" stroke-linejoin="round" stroke-dasharray="4.2 2.4"/>
<path d="M540.2,310.8 V316.5 M538.6,310.8 h3.2 M538.6,316.5 h3.2" stroke="#111" stroke-width="0.6" fill="none"/>
<path d="M555.3,256.7 V259.6 M553.7,256.7 h3.2 M553.7,259.6 h3.2" stroke="#111" stroke-width="0.6" fill="none"/>
<path d="M555.3,321.6 V323.0 M553.7,321.6 h3.2 M553.7,323.0 h3.2" stroke="#111" stroke-width="0.6" fill="none"/>
<path d="M570.4,308.3 V313.3 M568.8,308.3 h3.2 M568.8,313.3 h3.2" stroke="#111" stroke-width="0.6" fill="none"/>
<path d="M585.5,298.9 V303.9 M583.9,298.9 h3.2 M583.9,303.9 h3.2" stroke="#111" stroke-width="0.6" fill="none"/>
<path d="M600.6,292.8 V300.0 M599.0,292.8 h3.2 M599.0,300.0 h3.2" stroke="#111" stroke-width="0.6" fill="none"/>
<path d="M615.7,288.1 V296.0 M614.1,288.1 h3.2 M614.1,296.0 h3.2" stroke="#111" stroke-width="0.6" fill="none"/>
<path d="M540.2,308.6 V315.8 M538.6,308.6 h3.2 M538.6,315.8 h3.2" stroke="#111" stroke-width="0.6" fill="none"/>
<path d="M555.3,256.4 V260.0 M553.7,256.4 h3.2 M553.7,260.0 h3.2" stroke="#111" stroke-width="0.6" fill="none"/>
<path d="M570.4,253.5 V255.7 M568.8,253.5 h3.2 M568.8,255.7 h3.2" stroke="#111" stroke-width="0.6" fill="none"/>
<path d="M585.5,253.1 V254.6 M583.9,253.1 h3.2 M583.9,254.6 h3.2" stroke="#111" stroke-width="0.6" fill="none"/>
<path d="M600.6,253.1 V254.6 M599.0,253.1 h3.2 M599.0,254.6 h3.2" stroke="#111" stroke-width="0.6" fill="none"/>
<path d="M615.7,253.1 V254.6 M614.1,253.1 h3.2 M614.1,254.6 h3.2" stroke="#111" stroke-width="0.6" fill="none"/>
<path d="M555.3,321.2 V323.4 M553.7,321.2 h3.2 M553.7,323.4 h3.2" stroke="#111" stroke-width="0.6" fill="none"/>
<path d="M570.4,310.8 V316.5 M568.8,310.8 h3.2 M568.8,316.5 h3.2" stroke="#111" stroke-width="0.6" fill="none"/>
<path d="M585.5,306.5 V312.2 M583.9,306.5 h3.2 M583.9,312.2 h3.2" stroke="#111" stroke-width="0.6" fill="none"/>
<path d="M600.6,298.5 V305.7 M599.0,298.5 h3.2 M599.0,305.7 h3.2" stroke="#111" stroke-width="0.6" fill="none"/>
<path d="M615.7,296.4 V303.6 M614.1,296.4 h3.2 M614.1,303.6 h3.2" stroke="#111" stroke-width="0.6" fill="none"/>
<circle cx="525.1" cy="323.8" r="2.1" fill="#ee6a5f" stroke="#1a1a1a" stroke-width="0.7"/>
<circle cx="540.2" cy="313.7" r="2.1" fill="#ee6a5f" stroke="#1a1a1a" stroke-width="0.7"/>
<circle cx="555.3" cy="258.2" r="2.1" fill="#ee6a5f" stroke="#1a1a1a" stroke-width="0.7"/>
<circle cx="570.4" cy="253.1" r="2.1" fill="#ee6a5f" stroke="#1a1a1a" stroke-width="0.7"/>
<circle cx="585.5" cy="251.7" r="2.1" fill="#ee6a5f" stroke="#1a1a1a" stroke-width="0.7"/>
<circle cx="600.6" cy="251.7" r="2.1" fill="#ee6a5f" stroke="#1a1a1a" stroke-width="0.7"/>
<circle cx="615.7" cy="251.7" r="2.1" fill="#ee6a5f" stroke="#1a1a1a" stroke-width="0.7"/>
<polygon points="525.1,321.2 527.5,325.6 522.7,325.6" fill="#ee6a5f" stroke="#1a1a1a" stroke-width="0.7" stroke-linejoin="round"/>
<polygon points="540.2,321.2 542.6,325.6 537.8,325.6" fill="#ee6a5f" stroke="#1a1a1a" stroke-width="0.7" stroke-linejoin="round"/>
<polygon points="555.3,319.8 557.7,324.1 552.9,324.1" fill="#ee6a5f" stroke="#1a1a1a" stroke-width="0.7" stroke-linejoin="round"/>
<polygon points="570.4,308.3 572.8,312.6 568.0,312.6" fill="#ee6a5f" stroke="#1a1a1a" stroke-width="0.7" stroke-linejoin="round"/>
<polygon points="585.5,298.9 587.9,303.2 583.1,303.2" fill="#ee6a5f" stroke="#1a1a1a" stroke-width="0.7" stroke-linejoin="round"/>
<polygon points="600.6,293.9 603.0,298.2 598.2,298.2" fill="#ee6a5f" stroke="#1a1a1a" stroke-width="0.7" stroke-linejoin="round"/>
<polygon points="615.7,289.5 618.1,293.8 613.3,293.8" fill="#ee6a5f" stroke="#1a1a1a" stroke-width="0.7" stroke-linejoin="round"/>
<circle cx="525.1" cy="323.8" r="2.1" fill="#12a0f0" stroke="#1a1a1a" stroke-width="0.7"/>
<circle cx="540.2" cy="312.2" r="2.1" fill="#12a0f0" stroke="#1a1a1a" stroke-width="0.7"/>
<circle cx="555.3" cy="258.2" r="2.1" fill="#12a0f0" stroke="#1a1a1a" stroke-width="0.7"/>
<circle cx="570.4" cy="254.6" r="2.1" fill="#12a0f0" stroke="#1a1a1a" stroke-width="0.7"/>
<circle cx="585.5" cy="253.9" r="2.1" fill="#12a0f0" stroke="#1a1a1a" stroke-width="0.7"/>
<circle cx="600.6" cy="253.9" r="2.1" fill="#12a0f0" stroke="#1a1a1a" stroke-width="0.7"/>
<circle cx="615.7" cy="253.9" r="2.1" fill="#12a0f0" stroke="#1a1a1a" stroke-width="0.7"/>
<polygon points="525.1,321.2 527.5,325.6 522.7,325.6" fill="#12a0f0" stroke="#1a1a1a" stroke-width="0.7" stroke-linejoin="round"/>
<polygon points="540.2,321.2 542.6,325.6 537.8,325.6" fill="#12a0f0" stroke="#1a1a1a" stroke-width="0.7" stroke-linejoin="round"/>
<polygon points="555.3,319.8 557.7,324.1 552.9,324.1" fill="#12a0f0" stroke="#1a1a1a" stroke-width="0.7" stroke-linejoin="round"/>
<polygon points="570.4,311.2 572.8,315.5 568.0,315.5" fill="#12a0f0" stroke="#1a1a1a" stroke-width="0.7" stroke-linejoin="round"/>
<polygon points="585.5,306.8 587.9,311.1 583.1,311.1" fill="#12a0f0" stroke="#1a1a1a" stroke-width="0.7" stroke-linejoin="round"/>
<polygon points="600.6,299.6 603.0,303.9 598.2,303.9" fill="#12a0f0" stroke="#1a1a1a" stroke-width="0.7" stroke-linejoin="round"/>
<polygon points="615.7,297.5 618.1,301.8 613.3,301.8" fill="#12a0f0" stroke="#1a1a1a" stroke-width="0.7" stroke-linejoin="round"/>
<rect x="517.6" y="247.05" width="105.6" height="81.05000000000001" fill="none" stroke="#4a4a4a" stroke-width="1.1"/>
<g stroke="#333" stroke-width="0.7"><line x1="515.0" y1="323.8" x2="517.1" y2="323.8"/><line x1="515.0" y1="305.7" x2="517.1" y2="305.7"/><line x1="515.0" y1="287.7" x2="517.1" y2="287.7"/><line x1="515.0" y1="269.7" x2="517.1" y2="269.7"/><line x1="515.0" y1="251.7" x2="517.1" y2="251.7"/><line x1="525.1" y1="328.6" x2="525.1" y2="330.7"/><line x1="540.2" y1="328.6" x2="540.2" y2="330.7"/><line x1="555.3" y1="328.6" x2="555.3" y2="330.7"/><line x1="570.4" y1="328.6" x2="570.4" y2="330.7"/><line x1="585.5" y1="328.6" x2="585.5" y2="330.7"/><line x1="600.6" y1="328.6" x2="600.6" y2="330.7"/><line x1="615.7" y1="328.6" x2="615.7" y2="330.7"/></g>
<g font-size="6.6" fill="#4d4d4d">
<text x="514.00" y="326.10" font-size="6.6" text-anchor="end" fill="#4d4d4d">0</text>
<text x="514.00" y="308.09" font-size="6.6" text-anchor="end" fill="#4d4d4d">25</text>
<text x="514.00" y="290.08" font-size="6.6" text-anchor="end" fill="#4d4d4d">50</text>
<text x="514.00" y="272.06" font-size="6.6" text-anchor="end" fill="#4d4d4d">75</text>
<text x="514.00" y="254.05" font-size="6.6" text-anchor="end" fill="#4d4d4d">100</text>
<text x="525.10" y="337.50" font-size="6.6" text-anchor="middle" fill="#4d4d4d">1</text>
<text x="540.20" y="337.50" font-size="6.6" text-anchor="middle" fill="#4d4d4d">2</text>
<text x="555.30" y="337.50" font-size="6.6" text-anchor="middle" fill="#4d4d4d">3</text>
<text x="570.40" y="337.50" font-size="6.6" text-anchor="middle" fill="#4d4d4d">4</text>
<text x="585.50" y="337.50" font-size="6.6" text-anchor="middle" fill="#4d4d4d">5</text>
<text x="600.60" y="337.50" font-size="6.6" text-anchor="middle" fill="#4d4d4d">6</text>
<text x="615.70" y="337.50" font-size="6.6" text-anchor="middle" fill="#4d4d4d">7</text>
</g>
<text x="518.00" y="240.75" font-size="10.3" text-anchor="start" fill="#000" font-style="italic" stroke="#000" stroke-width="0.18">atl42-1</text>
<rect x="642.4" y="247.05" width="105.6" height="81.05000000000001" fill="#fff"/>
<g stroke="#e6e6e6"><line x1="657.4" y1="247.05" x2="657.4" y2="328.1" stroke-width="0.4"/><line x1="672.5" y1="247.05" x2="672.5" y2="328.1" stroke-width="0.4"/><line x1="687.6" y1="247.05" x2="687.6" y2="328.1" stroke-width="0.4"/><line x1="702.8" y1="247.05" x2="702.8" y2="328.1" stroke-width="0.4"/><line x1="717.9" y1="247.05" x2="717.9" y2="328.1" stroke-width="0.4"/><line x1="732.9" y1="247.05" x2="732.9" y2="328.1" stroke-width="0.4"/><line x1="642.4" y1="314.7" x2="748.0" y2="314.7" stroke-width="0.4"/><line x1="642.4" y1="296.7" x2="748.0" y2="296.7" stroke-width="0.4"/><line x1="642.4" y1="278.7" x2="748.0" y2="278.7" stroke-width="0.4"/><line x1="642.4" y1="260.7" x2="748.0" y2="260.7" stroke-width="0.4"/><line x1="649.9" y1="247.05" x2="649.9" y2="328.1" stroke-width="0.8"/><line x1="665.0" y1="247.05" x2="665.0" y2="328.1" stroke-width="0.8"/><line x1="680.1" y1="247.05" x2="680.1" y2="328.1" stroke-width="0.8"/><line x1="695.2" y1="247.05" x2="695.2" y2="328.1" stroke-width="0.8"/><line x1="710.3" y1="247.05" x2="710.3" y2="328.1" stroke-width="0.8"/><line x1="725.4" y1="247.05" x2="725.4" y2="328.1" stroke-width="0.8"/><line x1="740.5" y1="247.05" x2="740.5" y2="328.1" stroke-width="0.8"/><line x1="642.4" y1="323.8" x2="748.0" y2="323.8" stroke-width="0.8"/><line x1="642.4" y1="305.7" x2="748.0" y2="305.7" stroke-width="0.8"/><line x1="642.4" y1="287.7" x2="748.0" y2="287.7" stroke-width="0.8"/><line x1="642.4" y1="269.7" x2="748.0" y2="269.7" stroke-width="0.8"/><line x1="642.4" y1="251.7" x2="748.0" y2="251.7" stroke-width="0.8"/></g>
<g fill="#f8766d" fill-opacity="0.24">
<circle cx="667.8" cy="313.4" r="2"/>
<circle cx="665.9" cy="302.3" r="2"/>
<circle cx="662.8" cy="321.1" r="2"/>
<circle cx="668.0" cy="312.8" r="2"/>
<circle cx="665.6" cy="313.5" r="2"/>
<circle cx="681.4" cy="261.5" r="2"/>
<circle cx="679.0" cy="255.3" r="2"/>
<circle cx="678.2" cy="260.1" r="2"/>
<circle cx="681.5" cy="266.4" r="2"/>
<circle cx="677.9" cy="263.4" r="2"/>
<circle cx="693.2" cy="253.4" r="2"/>
<circle cx="695.2" cy="252.8" r="2"/>
<circle cx="693.7" cy="252.7" r="2"/>
<circle cx="694.7" cy="252.4" r="2"/>
<circle cx="695.9" cy="252.7" r="2"/>
<circle cx="709.7" cy="252.3" r="2"/>
<circle cx="712.0" cy="251.9" r="2"/>
<circle cx="712.4" cy="250.8" r="2"/>
<circle cx="711.7" cy="251.9" r="2"/>
<circle cx="709.1" cy="254.0" r="2"/>
<circle cx="726.1" cy="251.6" r="2"/>
<circle cx="727.1" cy="250.3" r="2"/>
<circle cx="728.3" cy="250.3" r="2"/>
<circle cx="726.4" cy="252.8" r="2"/>
<circle cx="725.4" cy="252.5" r="2"/>
<circle cx="742.3" cy="253.5" r="2"/>
<circle cx="739.6" cy="250.8" r="2"/>
<circle cx="739.8" cy="252.6" r="2"/>
<circle cx="740.5" cy="252.8" r="2"/>
<circle cx="739.8" cy="252.6" r="2"/>
</g>
<g fill="#f8766d" fill-opacity="0.24">
<path d="M667.6,321.4l2.3,4.1h-4.6z"/>
<path d="M667.8,321.4l2.3,4.1h-4.6z"/>
<path d="M666.5,320.3l2.3,4.1h-4.6z"/>
<path d="M665.2,321.3l2.3,4.1h-4.6z"/>
<path d="M664.3,321.4l2.3,4.1h-4.6z"/>
<path d="M682.3,321.0l2.3,4.1h-4.6z"/>
<path d="M682.6,321.4l2.3,4.1h-4.6z"/>
<path d="M682.6,321.4l2.3,4.1h-4.6z"/>
<path d="M682.5,316.7l2.3,4.1h-4.6z"/>
<path d="M682.7,321.4l2.3,4.1h-4.6z"/>
<path d="M694.9,315.0l2.3,4.1h-4.6z"/>
<path d="M696.8,304.4l2.3,4.1h-4.6z"/>
<path d="M694.8,297.2l2.3,4.1h-4.6z"/>
<path d="M692.7,309.9l2.3,4.1h-4.6z"/>
<path d="M693.1,306.5l2.3,4.1h-4.6z"/>
<path d="M707.3,296.9l2.3,4.1h-4.6z"/>
<path d="M713.0,304.2l2.3,4.1h-4.6z"/>
<path d="M708.2,295.2l2.3,4.1h-4.6z"/>
<path d="M712.8,285.5l2.3,4.1h-4.6z"/>
<path d="M710.4,290.1l2.3,4.1h-4.6z"/>
<path d="M724.8,303.5l2.3,4.1h-4.6z"/>
<path d="M724.1,296.4l2.3,4.1h-4.6z"/>
<path d="M727.6,270.2l2.3,4.1h-4.6z"/>
<path d="M727.6,276.3l2.3,4.1h-4.6z"/>
<path d="M722.8,284.8l2.3,4.1h-4.6z"/>
<path d="M741.8,276.1l2.3,4.1h-4.6z"/>
<path d="M738.5,274.9l2.3,4.1h-4.6z"/>
<path d="M743.4,282.7l2.3,4.1h-4.6z"/>
<path d="M743.0,279.0l2.3,4.1h-4.6z"/>
<path d="M742.2,296.2l2.3,4.1h-4.6z"/>
</g>
<g fill="#1aa7f5" fill-opacity="0.24">
<circle cx="667.3" cy="298.5" r="2"/>
<circle cx="663.5" cy="288.7" r="2"/>
<circle cx="662.2" cy="312.4" r="2"/>
<circle cx="664.8" cy="316.0" r="2"/>
<circle cx="666.2" cy="294.8" r="2"/>
<circle cx="678.5" cy="250.3" r="2"/>
<circle cx="679.2" cy="258.4" r="2"/>
<circle cx="680.7" cy="255.6" r="2"/>
<circle cx="680.8" cy="250.3" r="2"/>
<circle cx="679.8" cy="269.3" r="2"/>
<circle cx="697.1" cy="250.3" r="2"/>
<circle cx="694.3" cy="255.4" r="2"/>
<circle cx="694.6" cy="250.8" r="2"/>
<circle cx="693.6" cy="253.8" r="2"/>
<circle cx="697.8" cy="255.6" r="2"/>
<circle cx="707.5" cy="250.3" r="2"/>
<circle cx="712.2" cy="253.7" r="2"/>
<circle cx="711.8" cy="253.2" r="2"/>
<circle cx="711.2" cy="250.3" r="2"/>
<circle cx="708.9" cy="253.5" r="2"/>
<circle cx="724.0" cy="252.9" r="2"/>
<circle cx="723.0" cy="254.8" r="2"/>
<circle cx="723.2" cy="250.6" r="2"/>
<circle cx="723.7" cy="253.9" r="2"/>
<circle cx="726.9" cy="251.9" r="2"/>
<circle cx="740.3" cy="251.9" r="2"/>
<circle cx="739.1" cy="253.0" r="2"/>
<circle cx="740.6" cy="250.6" r="2"/>
<circle cx="740.0" cy="253.2" r="2"/>
<circle cx="742.8" cy="252.8" r="2"/>
</g>
<g fill="#1aa7f5" fill-opacity="0.24">
<path d="M664.4,320.9l2.3,4.1h-4.6z"/>
<path d="M663.9,321.4l2.3,4.1h-4.6z"/>
<path d="M662.7,320.1l2.3,4.1h-4.6z"/>
<path d="M662.2,319.9l2.3,4.1h-4.6z"/>
<path d="M667.7,318.2l2.3,4.1h-4.6z"/>
<path d="M677.4,309.6l2.3,4.1h-4.6z"/>
<path d="M679.2,317.3l2.3,4.1h-4.6z"/>
<path d="M680.7,315.0l2.3,4.1h-4.6z"/>
<path d="M678.2,316.1l2.3,4.1h-4.6z"/>
<path d="M680.2,312.8l2.3,4.1h-4.6z"/>
<path d="M694.7,294.5l2.3,4.1h-4.6z"/>
<path d="M693.9,292.9l2.3,4.1h-4.6z"/>
<path d="M694.8,314.0l2.3,4.1h-4.6z"/>
<path d="M697.3,298.1l2.3,4.1h-4.6z"/>
<path d="M697.2,292.4l2.3,4.1h-4.6z"/>
<path d="M713.0,279.2l2.3,4.1h-4.6z"/>
<path d="M711.4,293.9l2.3,4.1h-4.6z"/>
<path d="M711.1,298.1l2.3,4.1h-4.6z"/>
<path d="M707.6,300.5l2.3,4.1h-4.6z"/>
<path d="M707.4,284.2l2.3,4.1h-4.6z"/>
<path d="M722.5,274.7l2.3,4.1h-4.6z"/>
<path d="M723.9,262.5l2.3,4.1h-4.6z"/>
<path d="M724.9,282.4l2.3,4.1h-4.6z"/>
<path d="M725.4,306.8l2.3,4.1h-4.6z"/>
<path d="M723.0,277.2l2.3,4.1h-4.6z"/>
<path d="M739.2,284.5l2.3,4.1h-4.6z"/>
<path d="M741.0,281.1l2.3,4.1h-4.6z"/>
<path d="M737.9,289.1l2.3,4.1h-4.6z"/>
<path d="M742.9,266.8l2.3,4.1h-4.6z"/>
<path d="M738.4,304.0l2.3,4.1h-4.6z"/>
</g>
<polyline points="649.9,323.8 665.0,313.7 680.1,258.2 695.2,253.1 710.3,251.7 725.4,251.7 740.5,251.7" fill="none" stroke="#f9867c" stroke-width="1.2" stroke-linejoin="round"/>
<polyline points="649.9,323.8 665.0,323.8 680.1,322.3 695.2,310.8 710.3,301.4 725.4,296.4 740.5,292.0" fill="none" stroke="#f9867c" stroke-width="1.2" stroke-linejoin="round"/>
<polyline points="649.9,323.8 665.0,307.9 680.1,256.7 695.2,252.4 710.3,252.4 725.4,252.4 740.5,252.4" fill="none" stroke="#2baef7" stroke-width="1.2" stroke-linejoin="round" stroke-dasharray="4.2 2.4"/>
<polyline points="649.9,323.8 665.0,323.0 680.1,318.7 695.2,301.4 710.3,293.5 725.4,287.0 740.5,282.0" fill="none" stroke="#2baef7" stroke-width="1.2" stroke-linejoin="round" stroke-dasharray="4.2 2.4"/>
<path d="M665.0,310.8 V316.5 M663.4,310.8 h3.2 M663.4,316.5 h3.2" stroke="#111" stroke-width="0.6" fill="none"/>
<path d="M680.1,256.7 V259.6 M678.5,256.7 h3.2 M678.5,259.6 h3.2" stroke="#111" stroke-width="0.6" fill="none"/>
<path d="M680.1,321.6 V323.0 M678.5,321.6 h3.2 M678.5,323.0 h3.2" stroke="#111" stroke-width="0.6" fill="none"/>
<path d="M695.2,308.3 V313.3 M693.6,308.3 h3.2 M693.6,313.3 h3.2" stroke="#111" stroke-width="0.6" fill="none"/>
<path d="M710.3,298.9 V303.9 M708.7,298.9 h3.2 M708.7,303.9 h3.2" stroke="#111" stroke-width="0.6" fill="none"/>
<path d="M725.4,292.8 V300.0 M723.8,292.8 h3.2 M723.8,300.0 h3.2" stroke="#111" stroke-width="0.6" fill="none"/>
<path d="M740.5,288.1 V296.0 M738.9,288.1 h3.2 M738.9,296.0 h3.2" stroke="#111" stroke-width="0.6" fill="none"/>
<path d="M665.0,304.3 V311.5 M663.4,304.3 h3.2 M663.4,311.5 h3.2" stroke="#111" stroke-width="0.6" fill="none"/>
<path d="M680.1,254.9 V258.5 M678.5,254.9 h3.2 M678.5,258.5 h3.2" stroke="#111" stroke-width="0.6" fill="none"/>
<path d="M695.2,251.3 V253.5 M693.6,251.3 h3.2 M693.6,253.5 h3.2" stroke="#111" stroke-width="0.6" fill="none"/>
<path d="M710.3,251.7 V253.1 M708.7,251.7 h3.2 M708.7,253.1 h3.2" stroke="#111" stroke-width="0.6" fill="none"/>
<path d="M725.4,251.7 V253.1 M723.8,251.7 h3.2 M723.8,253.1 h3.2" stroke="#111" stroke-width="0.6" fill="none"/>
<path d="M740.5,251.7 V253.1 M738.9,251.7 h3.2 M738.9,253.1 h3.2" stroke="#111" stroke-width="0.6" fill="none"/>
<path d="M680.1,317.6 V319.8 M678.5,317.6 h3.2 M678.5,319.8 h3.2" stroke="#111" stroke-width="0.6" fill="none"/>
<path d="M695.2,298.5 V304.3 M693.6,298.5 h3.2 M693.6,304.3 h3.2" stroke="#111" stroke-width="0.6" fill="none"/>
<path d="M710.3,290.6 V296.4 M708.7,290.6 h3.2 M708.7,296.4 h3.2" stroke="#111" stroke-width="0.6" fill="none"/>
<path d="M725.4,283.4 V290.6 M723.8,283.4 h3.2 M723.8,290.6 h3.2" stroke="#111" stroke-width="0.6" fill="none"/>
<path d="M740.5,278.4 V285.6 M738.9,278.4 h3.2 M738.9,285.6 h3.2" stroke="#111" stroke-width="0.6" fill="none"/>
<circle cx="649.9" cy="323.8" r="2.1" fill="#ee6a5f" stroke="#1a1a1a" stroke-width="0.7"/>
<circle cx="665.0" cy="313.7" r="2.1" fill="#ee6a5f" stroke="#1a1a1a" stroke-width="0.7"/>
<circle cx="680.1" cy="258.2" r="2.1" fill="#ee6a5f" stroke="#1a1a1a" stroke-width="0.7"/>
<circle cx="695.2" cy="253.1" r="2.1" fill="#ee6a5f" stroke="#1a1a1a" stroke-width="0.7"/>
<circle cx="710.3" cy="251.7" r="2.1" fill="#ee6a5f" stroke="#1a1a1a" stroke-width="0.7"/>
<circle cx="725.4" cy="251.7" r="2.1" fill="#ee6a5f" stroke="#1a1a1a" stroke-width="0.7"/>
<circle cx="740.5" cy="251.7" r="2.1" fill="#ee6a5f" stroke="#1a1a1a" stroke-width="0.7"/>
<polygon points="649.9,321.2 652.3,325.6 647.5,325.6" fill="#ee6a5f" stroke="#1a1a1a" stroke-width="0.7" stroke-linejoin="round"/>
<polygon points="665.0,321.2 667.4,325.6 662.6,325.6" fill="#ee6a5f" stroke="#1a1a1a" stroke-width="0.7" stroke-linejoin="round"/>
<polygon points="680.1,319.8 682.5,324.1 677.7,324.1" fill="#ee6a5f" stroke="#1a1a1a" stroke-width="0.7" stroke-linejoin="round"/>
<polygon points="695.2,308.3 697.6,312.6 692.8,312.6" fill="#ee6a5f" stroke="#1a1a1a" stroke-width="0.7" stroke-linejoin="round"/>
<polygon points="710.3,298.9 712.7,303.2 707.9,303.2" fill="#ee6a5f" stroke="#1a1a1a" stroke-width="0.7" stroke-linejoin="round"/>
<polygon points="725.4,293.9 727.8,298.2 723.0,298.2" fill="#ee6a5f" stroke="#1a1a1a" stroke-width="0.7" stroke-linejoin="round"/>
<polygon points="740.5,289.5 742.9,293.8 738.1,293.8" fill="#ee6a5f" stroke="#1a1a1a" stroke-width="0.7" stroke-linejoin="round"/>
<circle cx="649.9" cy="323.8" r="2.1" fill="#12a0f0" stroke="#1a1a1a" stroke-width="0.7"/>
<circle cx="665.0" cy="307.9" r="2.1" fill="#12a0f0" stroke="#1a1a1a" stroke-width="0.7"/>
<circle cx="680.1" cy="256.7" r="2.1" fill="#12a0f0" stroke="#1a1a1a" stroke-width="0.7"/>
<circle cx="695.2" cy="252.4" r="2.1" fill="#12a0f0" stroke="#1a1a1a" stroke-width="0.7"/>
<circle cx="710.3" cy="252.4" r="2.1" fill="#12a0f0" stroke="#1a1a1a" stroke-width="0.7"/>
<circle cx="725.4" cy="252.4" r="2.1" fill="#12a0f0" stroke="#1a1a1a" stroke-width="0.7"/>
<circle cx="740.5" cy="252.4" r="2.1" fill="#12a0f0" stroke="#1a1a1a" stroke-width="0.7"/>
<polygon points="649.9,321.2 652.3,325.6 647.5,325.6" fill="#12a0f0" stroke="#1a1a1a" stroke-width="0.7" stroke-linejoin="round"/>
<polygon points="665.0,320.5 667.4,324.8 662.6,324.8" fill="#12a0f0" stroke="#1a1a1a" stroke-width="0.7" stroke-linejoin="round"/>
<polygon points="680.1,316.2 682.5,320.5 677.7,320.5" fill="#12a0f0" stroke="#1a1a1a" stroke-width="0.7" stroke-linejoin="round"/>
<polygon points="695.2,298.9 697.6,303.2 692.8,303.2" fill="#12a0f0" stroke="#1a1a1a" stroke-width="0.7" stroke-linejoin="round"/>
<polygon points="710.3,291.0 712.7,295.3 707.9,295.3" fill="#12a0f0" stroke="#1a1a1a" stroke-width="0.7" stroke-linejoin="round"/>
<polygon points="725.4,284.5 727.8,288.8 723.0,288.8" fill="#12a0f0" stroke="#1a1a1a" stroke-width="0.7" stroke-linejoin="round"/>
<polygon points="740.5,279.5 742.9,283.8 738.1,283.8" fill="#12a0f0" stroke="#1a1a1a" stroke-width="0.7" stroke-linejoin="round"/>
<rect x="642.4" y="247.05" width="105.6" height="81.05000000000001" fill="none" stroke="#4a4a4a" stroke-width="1.1"/>
<g stroke="#333" stroke-width="0.7"><line x1="639.8" y1="323.8" x2="641.9" y2="323.8"/><line x1="639.8" y1="305.7" x2="641.9" y2="305.7"/><line x1="639.8" y1="287.7" x2="641.9" y2="287.7"/><line x1="639.8" y1="269.7" x2="641.9" y2="269.7"/><line x1="639.8" y1="251.7" x2="641.9" y2="251.7"/><line x1="649.9" y1="328.6" x2="649.9" y2="330.7"/><line x1="665.0" y1="328.6" x2="665.0" y2="330.7"/><line x1="680.1" y1="328.6" x2="680.1" y2="330.7"/><line x1="695.2" y1="328.6" x2="695.2" y2="330.7"/><line x1="710.3" y1="328.6" x2="710.3" y2="330.7"/><line x1="725.4" y1="328.6" x2="725.4" y2="330.7"/><line x1="740.5" y1="328.6" x2="740.5" y2="330.7"/></g>
<g font-size="6.6" fill="#4d4d4d">
<text x="638.80" y="326.10" font-size="6.6" text-anchor="end" fill="#4d4d4d">0</text>
<text x="638.80" y="308.09" font-size="6.6" text-anchor="end" fill="#4d4d4d">25</text>
<text x="638.80" y="290.08" font-size="6.6" text-anchor="end" fill="#4d4d4d">50</text>
<text x="638.80" y="272.06" font-size="6.6" text-anchor="end" fill="#4d4d4d">75</text>
<text x="638.80" y="254.05" font-size="6.6" text-anchor="end" fill="#4d4d4d">100</text>
<text x="649.90" y="337.50" font-size="6.6" text-anchor="middle" fill="#4d4d4d">1</text>
<text x="665.00" y="337.50" font-size="6.6" text-anchor="middle" fill="#4d4d4d">2</text>
<text x="680.10" y="337.50" font-size="6.6" text-anchor="middle" fill="#4d4d4d">3</text>
<text x="695.20" y="337.50" font-size="6.6" text-anchor="middle" fill="#4d4d4d">4</text>
<text x="710.30" y="337.50" font-size="6.6" text-anchor="middle" fill="#4d4d4d">5</text>
<text x="725.40" y="337.50" font-size="6.6" text-anchor="middle" fill="#4d4d4d">6</text>
<text x="740.50" y="337.50" font-size="6.6" text-anchor="middle" fill="#4d4d4d">7</text>
</g>
<text x="642.80" y="240.75" font-size="10.3" text-anchor="start" fill="#000" font-style="italic" stroke="#000" stroke-width="0.18">rduf1-1</text>
<rect x="767.0" y="247.05" width="105.6" height="81.05000000000001" fill="#fff"/>
<g stroke="#e6e6e6"><line x1="782.0" y1="247.05" x2="782.0" y2="328.1" stroke-width="0.4"/><line x1="797.1" y1="247.05" x2="797.1" y2="328.1" stroke-width="0.4"/><line x1="812.2" y1="247.05" x2="812.2" y2="328.1" stroke-width="0.4"/><line x1="827.4" y1="247.05" x2="827.4" y2="328.1" stroke-width="0.4"/><line x1="842.5" y1="247.05" x2="842.5" y2="328.1" stroke-width="0.4"/><line x1="857.5" y1="247.05" x2="857.5" y2="328.1" stroke-width="0.4"/><line x1="767.0" y1="314.7" x2="872.6" y2="314.7" stroke-width="0.4"/><line x1="767.0" y1="296.7" x2="872.6" y2="296.7" stroke-width="0.4"/><line x1="767.0" y1="278.7" x2="872.6" y2="278.7" stroke-width="0.4"/><line x1="767.0" y1="260.7" x2="872.6" y2="260.7" stroke-width="0.4"/><line x1="774.5" y1="247.05" x2="774.5" y2="328.1" stroke-width="0.8"/><line x1="789.6" y1="247.05" x2="789.6" y2="328.1" stroke-width="0.8"/><line x1="804.7" y1="247.05" x2="804.7" y2="328.1" stroke-width="0.8"/><line x1="819.8" y1="247.05" x2="819.8" y2="328.1" stroke-width="0.8"/><line x1="834.9" y1="247.05" x2="834.9" y2="328.1" stroke-width="0.8"/><line x1="850.0" y1="247.05" x2="850.0" y2="328.1" stroke-width="0.8"/><line x1="865.1" y1="247.05" x2="865.1" y2="328.1" stroke-width="0.8"/><line x1="767.0" y1="323.8" x2="872.6" y2="323.8" stroke-width="0.8"/><line x1="767.0" y1="305.7" x2="872.6" y2="305.7" stroke-width="0.8"/><line x1="767.0" y1="287.7" x2="872.6" y2="287.7" stroke-width="0.8"/><line x1="767.0" y1="269.7" x2="872.6" y2="269.7" stroke-width="0.8"/><line x1="767.0" y1="251.7" x2="872.6" y2="251.7" stroke-width="0.8"/></g>
<g fill="#f8766d" fill-opacity="0.24">
<circle cx="791.9" cy="302.8" r="2"/>
<circle cx="788.9" cy="302.0" r="2"/>
<circle cx="787.1" cy="314.6" r="2"/>
<circle cx="787.9" cy="308.0" r="2"/>
<circle cx="787.7" cy="308.6" r="2"/>
<circle cx="802.8" cy="250.3" r="2"/>
<circle cx="802.3" cy="250.3" r="2"/>
<circle cx="803.6" cy="262.4" r="2"/>
<circle cx="805.5" cy="253.9" r="2"/>
<circle cx="805.8" cy="258.5" r="2"/>
<circle cx="821.1" cy="253.4" r="2"/>
<circle cx="821.7" cy="253.4" r="2"/>
<circle cx="821.1" cy="254.1" r="2"/>
<circle cx="822.7" cy="252.8" r="2"/>
<circle cx="821.4" cy="252.5" r="2"/>
<circle cx="834.8" cy="252.0" r="2"/>
<circle cx="834.8" cy="250.3" r="2"/>
<circle cx="837.3" cy="251.9" r="2"/>
<circle cx="834.3" cy="251.3" r="2"/>
<circle cx="837.6" cy="252.0" r="2"/>
<circle cx="850.8" cy="251.6" r="2"/>
<circle cx="849.1" cy="250.5" r="2"/>
<circle cx="850.6" cy="251.5" r="2"/>
<circle cx="850.3" cy="252.4" r="2"/>
<circle cx="851.7" cy="250.3" r="2"/>
<circle cx="867.2" cy="251.4" r="2"/>
<circle cx="863.0" cy="251.2" r="2"/>
<circle cx="866.5" cy="250.5" r="2"/>
<circle cx="862.9" cy="253.4" r="2"/>
<circle cx="863.6" cy="253.2" r="2"/>
</g>
<g fill="#f8766d" fill-opacity="0.24">
<path d="M790.5,319.1l2.3,4.1h-4.6z"/>
<path d="M787.4,320.3l2.3,4.1h-4.6z"/>
<path d="M789.0,321.4l2.3,4.1h-4.6z"/>
<path d="M791.3,321.4l2.3,4.1h-4.6z"/>
<path d="M788.4,321.4l2.3,4.1h-4.6z"/>
<path d="M804.0,321.4l2.3,4.1h-4.6z"/>
<path d="M802.7,321.0l2.3,4.1h-4.6z"/>
<path d="M805.1,319.0l2.3,4.1h-4.6z"/>
<path d="M804.1,317.1l2.3,4.1h-4.6z"/>
<path d="M801.9,320.4l2.3,4.1h-4.6z"/>
<path d="M818.6,302.6l2.3,4.1h-4.6z"/>
<path d="M821.1,311.6l2.3,4.1h-4.6z"/>
<path d="M817.2,305.7l2.3,4.1h-4.6z"/>
<path d="M818.1,310.8l2.3,4.1h-4.6z"/>
<path d="M817.4,299.3l2.3,4.1h-4.6z"/>
<path d="M835.8,299.3l2.3,4.1h-4.6z"/>
<path d="M832.3,302.6l2.3,4.1h-4.6z"/>
<path d="M834.1,299.0l2.3,4.1h-4.6z"/>
<path d="M837.8,291.2l2.3,4.1h-4.6z"/>
<path d="M834.2,300.6l2.3,4.1h-4.6z"/>
<path d="M850.6,296.2l2.3,4.1h-4.6z"/>
<path d="M848.0,289.5l2.3,4.1h-4.6z"/>
<path d="M847.1,279.6l2.3,4.1h-4.6z"/>
<path d="M850.7,298.7l2.3,4.1h-4.6z"/>
<path d="M850.6,309.6l2.3,4.1h-4.6z"/>
<path d="M862.8,286.7l2.3,4.1h-4.6z"/>
<path d="M862.6,306.4l2.3,4.1h-4.6z"/>
<path d="M867.4,287.4l2.3,4.1h-4.6z"/>
<path d="M862.6,291.5l2.3,4.1h-4.6z"/>
<path d="M864.5,297.2l2.3,4.1h-4.6z"/>
</g>
<g fill="#1aa7f5" fill-opacity="0.24">
<circle cx="787.3" cy="321.3" r="2"/>
<circle cx="790.2" cy="321.8" r="2"/>
<circle cx="789.6" cy="317.1" r="2"/>
<circle cx="790.4" cy="312.9" r="2"/>
<circle cx="787.0" cy="311.4" r="2"/>
<circle cx="805.9" cy="260.8" r="2"/>
<circle cx="807.0" cy="251.3" r="2"/>
<circle cx="804.0" cy="258.7" r="2"/>
<circle cx="803.4" cy="253.9" r="2"/>
<circle cx="806.9" cy="251.4" r="2"/>
<circle cx="818.7" cy="254.6" r="2"/>
<circle cx="821.6" cy="255.6" r="2"/>
<circle cx="817.0" cy="252.4" r="2"/>
<circle cx="821.0" cy="253.8" r="2"/>
<circle cx="822.2" cy="250.3" r="2"/>
<circle cx="833.1" cy="253.9" r="2"/>
<circle cx="836.8" cy="250.7" r="2"/>
<circle cx="833.2" cy="259.4" r="2"/>
<circle cx="836.1" cy="254.6" r="2"/>
<circle cx="834.4" cy="250.3" r="2"/>
<circle cx="851.7" cy="252.5" r="2"/>
<circle cx="850.6" cy="251.8" r="2"/>
<circle cx="852.9" cy="251.7" r="2"/>
<circle cx="852.5" cy="251.5" r="2"/>
<circle cx="852.3" cy="251.1" r="2"/>
<circle cx="864.8" cy="252.4" r="2"/>
<circle cx="864.4" cy="250.9" r="2"/>
<circle cx="867.8" cy="254.4" r="2"/>
<circle cx="866.8" cy="254.4" r="2"/>
<circle cx="862.9" cy="250.3" r="2"/>
</g>
<g fill="#1aa7f5" fill-opacity="0.24">
<path d="M787.3,318.9l2.3,4.1h-4.6z"/>
<path d="M789.8,321.4l2.3,4.1h-4.6z"/>
<path d="M791.0,321.4l2.3,4.1h-4.6z"/>
<path d="M792.1,321.3l2.3,4.1h-4.6z"/>
<path d="M789.1,319.9l2.3,4.1h-4.6z"/>
<path d="M805.6,321.4l2.3,4.1h-4.6z"/>
<path d="M806.2,318.1l2.3,4.1h-4.6z"/>
<path d="M804.3,321.4l2.3,4.1h-4.6z"/>
<path d="M805.0,317.4l2.3,4.1h-4.6z"/>
<path d="M804.4,321.4l2.3,4.1h-4.6z"/>
<path d="M821.2,305.9l2.3,4.1h-4.6z"/>
<path d="M820.6,304.0l2.3,4.1h-4.6z"/>
<path d="M817.5,297.8l2.3,4.1h-4.6z"/>
<path d="M819.8,317.7l2.3,4.1h-4.6z"/>
<path d="M822.5,313.5l2.3,4.1h-4.6z"/>
<path d="M835.7,306.4l2.3,4.1h-4.6z"/>
<path d="M835.9,312.1l2.3,4.1h-4.6z"/>
<path d="M836.5,296.0l2.3,4.1h-4.6z"/>
<path d="M835.0,298.3l2.3,4.1h-4.6z"/>
<path d="M835.3,314.2l2.3,4.1h-4.6z"/>
<path d="M851.4,297.9l2.3,4.1h-4.6z"/>
<path d="M851.3,295.7l2.3,4.1h-4.6z"/>
<path d="M848.4,289.6l2.3,4.1h-4.6z"/>
<path d="M847.7,293.1l2.3,4.1h-4.6z"/>
<path d="M848.9,301.9l2.3,4.1h-4.6z"/>
<path d="M866.5,302.9l2.3,4.1h-4.6z"/>
<path d="M865.5,289.7l2.3,4.1h-4.6z"/>
<path d="M863.7,300.8l2.3,4.1h-4.6z"/>
<path d="M863.9,293.0l2.3,4.1h-4.6z"/>
<path d="M863.2,284.1l2.3,4.1h-4.6z"/>
</g>
<polyline points="774.5,323.8 789.6,313.7 804.7,258.2 819.8,253.1 834.9,251.7 850.0,251.7 865.1,251.7" fill="none" stroke="#f9867c" stroke-width="1.2" stroke-linejoin="round"/>
<polyline points="774.5,323.8 789.6,323.8 804.7,322.3 819.8,310.8 834.9,301.4 850.0,296.4 865.1,292.0" fill="none" stroke="#f9867c" stroke-width="1.2" stroke-linejoin="round"/>
<polyline points="774.5,323.8 789.6,310.8 804.7,258.2 819.8,254.6 834.9,253.1 850.0,252.4 865.1,252.4" fill="none" stroke="#2baef7" stroke-width="1.2" stroke-linejoin="round" stroke-dasharray="4.2 2.4"/>
<polyline points="774.5,323.8 789.6,323.8 804.7,322.3 819.8,314.4 834.9,309.3 850.0,300.7 865.1,294.9" fill="none" stroke="#2baef7" stroke-width="1.2" stroke-linejoin="round" stroke-dasharray="4.2 2.4"/>
<path d="M789.6,310.8 V316.5 M788.0,310.8 h3.2 M788.0,316.5 h3.2" stroke="#111" stroke-width="0.6" fill="none"/>
<path d="M804.7,256.7 V259.6 M803.1,256.7 h3.2 M803.1,259.6 h3.2" stroke="#111" stroke-width="0.6" fill="none"/>
<path d="M804.7,321.6 V323.0 M803.1,321.6 h3.2 M803.1,323.0 h3.2" stroke="#111" stroke-width="0.6" fill="none"/>
<path d="M819.8,308.3 V313.3 M818.2,308.3 h3.2 M818.2,313.3 h3.2" stroke="#111" stroke-width="0.6" fill="none"/>
<path d="M834.9,298.9 V303.9 M833.3,298.9 h3.2 M833.3,303.9 h3.2" stroke="#111" stroke-width="0.6" fill="none"/>
<path d="M850.0,292.8 V300.0 M848.4,292.8 h3.2 M848.4,300.0 h3.2" stroke="#111" stroke-width="0.6" fill="none"/>
<path d="M865.1,288.1 V296.0 M863.5,288.1 h3.2 M863.5,296.0 h3.2" stroke="#111" stroke-width="0.6" fill="none"/>
<path d="M789.6,307.2 V314.4 M788.0,307.2 h3.2 M788.0,314.4 h3.2" stroke="#111" stroke-width="0.6" fill="none"/>
<path d="M804.7,256.4 V260.0 M803.1,256.4 h3.2 M803.1,260.0 h3.2" stroke="#111" stroke-width="0.6" fill="none"/>
<path d="M819.8,253.5 V255.7 M818.2,253.5 h3.2 M818.2,255.7 h3.2" stroke="#111" stroke-width="0.6" fill="none"/>
<path d="M834.9,252.4 V253.9 M833.3,252.4 h3.2 M833.3,253.9 h3.2" stroke="#111" stroke-width="0.6" fill="none"/>
<path d="M850.0,251.7 V253.1 M848.4,251.7 h3.2 M848.4,253.1 h3.2" stroke="#111" stroke-width="0.6" fill="none"/>
<path d="M865.1,251.7 V253.1 M863.5,251.7 h3.2 M863.5,253.1 h3.2" stroke="#111" stroke-width="0.6" fill="none"/>
<path d="M804.7,321.2 V323.4 M803.1,321.2 h3.2 M803.1,323.4 h3.2" stroke="#111" stroke-width="0.6" fill="none"/>
<path d="M819.8,311.5 V317.3 M818.2,311.5 h3.2 M818.2,317.3 h3.2" stroke="#111" stroke-width="0.6" fill="none"/>
<path d="M834.9,306.5 V312.2 M833.3,306.5 h3.2 M833.3,312.2 h3.2" stroke="#111" stroke-width="0.6" fill="none"/>
<path d="M850.0,297.1 V304.3 M848.4,297.1 h3.2 M848.4,304.3 h3.2" stroke="#111" stroke-width="0.6" fill="none"/>
<path d="M865.1,291.3 V298.5 M863.5,291.3 h3.2 M863.5,298.5 h3.2" stroke="#111" stroke-width="0.6" fill="none"/>
<circle cx="774.5" cy="323.8" r="2.1" fill="#ee6a5f" stroke="#1a1a1a" stroke-width="0.7"/>
<circle cx="789.6" cy="313.7" r="2.1" fill="#ee6a5f" stroke="#1a1a1a" stroke-width="0.7"/>
<circle cx="804.7" cy="258.2" r="2.1" fill="#ee6a5f" stroke="#1a1a1a" stroke-width="0.7"/>
<circle cx="819.8" cy="253.1" r="2.1" fill="#ee6a5f" stroke="#1a1a1a" stroke-width="0.7"/>
<circle cx="834.9" cy="251.7" r="2.1" fill="#ee6a5f" stroke="#1a1a1a" stroke-width="0.7"/>
<circle cx="850.0" cy="251.7" r="2.1" fill="#ee6a5f" stroke="#1a1a1a" stroke-width="0.7"/>
<circle cx="865.1" cy="251.7" r="2.1" fill="#ee6a5f" stroke="#1a1a1a" stroke-width="0.7"/>
<polygon points="774.5,321.2 776.9,325.6 772.1,325.6" fill="#ee6a5f" stroke="#1a1a1a" stroke-width="0.7" stroke-linejoin="round"/>
<polygon points="789.6,321.2 792.0,325.6 787.2,325.6" fill="#ee6a5f" stroke="#1a1a1a" stroke-width="0.7" stroke-linejoin="round"/>
<polygon points="804.7,319.8 807.1,324.1 802.3,324.1" fill="#ee6a5f" stroke="#1a1a1a" stroke-width="0.7" stroke-linejoin="round"/>
<polygon points="819.8,308.3 822.2,312.6 817.4,312.6" fill="#ee6a5f" stroke="#1a1a1a" stroke-width="0.7" stroke-linejoin="round"/>
<polygon points="834.9,298.9 837.3,303.2 832.5,303.2" fill="#ee6a5f" stroke="#1a1a1a" stroke-width="0.7" stroke-linejoin="round"/>
<polygon points="850.0,293.9 852.4,298.2 847.6,298.2" fill="#ee6a5f" stroke="#1a1a1a" stroke-width="0.7" stroke-linejoin="round"/>
<polygon points="865.1,289.5 867.5,293.8 862.7,293.8" fill="#ee6a5f" stroke="#1a1a1a" stroke-width="0.7" stroke-linejoin="round"/>
<circle cx="774.5" cy="323.8" r="2.1" fill="#12a0f0" stroke="#1a1a1a" stroke-width="0.7"/>
<circle cx="789.6" cy="310.8" r="2.1" fill="#12a0f0" stroke="#1a1a1a" stroke-width="0.7"/>
<circle cx="804.7" cy="258.2" r="2.1" fill="#12a0f0" stroke="#1a1a1a" stroke-width="0.7"/>
<circle cx="819.8" cy="254.6" r="2.1" fill="#12a0f0" stroke="#1a1a1a" stroke-width="0.7"/>
<circle cx="834.9" cy="253.1" r="2.1" fill="#12a0f0" stroke="#1a1a1a" stroke-width="0.7"/>
<circle cx="850.0" cy="252.4" r="2.1" fill="#12a0f0" stroke="#1a1a1a" stroke-width="0.7"/>
<circle cx="865.1" cy="252.4" r="2.1" fill="#12a0f0" stroke="#1a1a1a" stroke-width="0.7"/>
<polygon points="774.5,321.2 776.9,325.6 772.1,325.6" fill="#12a0f0" stroke="#1a1a1a" stroke-width="0.7" stroke-linejoin="round"/>
<polygon points="789.6,321.2 792.0,325.6 787.2,325.6" fill="#12a0f0" stroke="#1a1a1a" stroke-width="0.7" stroke-linejoin="round"/>
<polygon points="804.7,319.8 807.1,324.1 802.3,324.1" fill="#12a0f0" stroke="#1a1a1a" stroke-width="0.7" stroke-linejoin="round"/>
<polygon points="819.8,311.9 822.2,316.2 817.4,316.2" fill="#12a0f0" stroke="#1a1a1a" stroke-width="0.7" stroke-linejoin="round"/>
<polygon points="834.9,306.8 837.3,311.1 832.5,311.1" fill="#12a0f0" stroke="#1a1a1a" stroke-width="0.7" stroke-linejoin="round"/>
<polygon points="850.0,298.2 852.4,302.5 847.6,302.5" fill="#12a0f0" stroke="#1a1a1a" stroke-width="0.7" stroke-linejoin="round"/>
<polygon points="865.1,292.4 867.5,296.7 862.7,296.7" fill="#12a0f0" stroke="#1a1a1a" stroke-width="0.7" stroke-linejoin="round"/>
<rect x="767.0" y="247.05" width="105.6" height="81.05000000000001" fill="none" stroke="#4a4a4a" stroke-width="1.1"/>
<g stroke="#333" stroke-width="0.7"><line x1="764.4" y1="323.8" x2="766.5" y2="323.8"/><line x1="764.4" y1="305.7" x2="766.5" y2="305.7"/><line x1="764.4" y1="287.7" x2="766.5" y2="287.7"/><line x1="764.4" y1="269.7" x2="766.5" y2="269.7"/><line x1="764.4" y1="251.7" x2="766.5" y2="251.7"/><line x1="774.5" y1="328.6" x2="774.5" y2="330.7"/><line x1="789.6" y1="328.6" x2="789.6" y2="330.7"/><line x1="804.7" y1="328.6" x2="804.7" y2="330.7"/><line x1="819.8" y1="328.6" x2="819.8" y2="330.7"/><line x1="834.9" y1="328.6" x2="834.9" y2="330.7"/><line x1="850.0" y1="328.6" x2="850.0" y2="330.7"/><line x1="865.1" y1="328.6" x2="865.1" y2="330.7"/></g>
<g font-size="6.6" fill="#4d4d4d">
<text x="763.40" y="326.10" font-size="6.6" text-anchor="end" fill="#4d4d4d">0</text>
<text x="763.40" y="308.09" font-size="6.6" text-anchor="end" fill="#4d4d4d">25</text>
<text x="763.40" y="290.08" font-size="6.6" text-anchor="end" fill="#4d4d4d">50</text>
<text x="763.40" y="272.06" font-size="6.6" text-anchor="end" fill="#4d4d4d">75</text>
<text x="763.40" y="254.05" font-size="6.6" text-anchor="end" fill="#4d4d4d">100</text>
<text x="774.50" y="337.50" font-size="6.6" text-anchor="middle" fill="#4d4d4d">1</text>
<text x="789.60" y="337.50" font-size="6.6" text-anchor="middle" fill="#4d4d4d">2</text>
<text x="804.70" y="337.50" font-size="6.6" text-anchor="middle" fill="#4d4d4d">3</text>
<text x="819.80" y="337.50" font-size="6.6" text-anchor="middle" fill="#4d4d4d">4</text>
<text x="834.90" y="337.50" font-size="6.6" text-anchor="middle" fill="#4d4d4d">5</text>
<text x="850.00" y="337.50" font-size="6.6" text-anchor="middle" fill="#4d4d4d">6</text>
<text x="865.10" y="337.50" font-size="6.6" text-anchor="middle" fill="#4d4d4d">7</text>
</g>
<text x="767.40" y="240.75" font-size="10.3" text-anchor="start" fill="#000" font-style="italic" stroke="#000" stroke-width="0.18">rglg-1</text>
<rect x="517.6" y="355.5" width="105.6" height="80.89999999999998" fill="#fff"/>
<g stroke="#e6e6e6"><line x1="532.6" y1="355.5" x2="532.6" y2="436.4" stroke-width="0.4"/><line x1="547.8" y1="355.5" x2="547.8" y2="436.4" stroke-width="0.4"/><line x1="562.9" y1="355.5" x2="562.9" y2="436.4" stroke-width="0.4"/><line x1="578.0" y1="355.5" x2="578.0" y2="436.4" stroke-width="0.4"/><line x1="593.1" y1="355.5" x2="593.1" y2="436.4" stroke-width="0.4"/><line x1="608.1" y1="355.5" x2="608.1" y2="436.4" stroke-width="0.4"/><line x1="517.6" y1="423.2" x2="623.2" y2="423.2" stroke-width="0.4"/><line x1="517.6" y1="405.1" x2="623.2" y2="405.1" stroke-width="0.4"/><line x1="517.6" y1="387.0" x2="623.2" y2="387.0" stroke-width="0.4"/><line x1="517.6" y1="368.9" x2="623.2" y2="368.9" stroke-width="0.4"/><line x1="525.1" y1="355.5" x2="525.1" y2="436.4" stroke-width="0.8"/><line x1="540.2" y1="355.5" x2="540.2" y2="436.4" stroke-width="0.8"/><line x1="555.3" y1="355.5" x2="555.3" y2="436.4" stroke-width="0.8"/><line x1="570.4" y1="355.5" x2="570.4" y2="436.4" stroke-width="0.8"/><line x1="585.5" y1="355.5" x2="585.5" y2="436.4" stroke-width="0.8"/><line x1="600.6" y1="355.5" x2="600.6" y2="436.4" stroke-width="0.8"/><line x1="615.7" y1="355.5" x2="615.7" y2="436.4" stroke-width="0.8"/><line x1="517.6" y1="432.3" x2="623.2" y2="432.3" stroke-width="0.8"/><line x1="517.6" y1="414.2" x2="623.2" y2="414.2" stroke-width="0.8"/><line x1="517.6" y1="396.1" x2="623.2" y2="396.1" stroke-width="0.8"/><line x1="517.6" y1="377.9" x2="623.2" y2="377.9" stroke-width="0.8"/><line x1="517.6" y1="359.8" x2="623.2" y2="359.8" stroke-width="0.8"/></g>
<g fill="#f8766d" fill-opacity="0.24">
<circle cx="540.5" cy="423.9" r="2"/>
<circle cx="537.8" cy="412.7" r="2"/>
<circle cx="540.6" cy="432.3" r="2"/>
<circle cx="540.3" cy="422.5" r="2"/>
<circle cx="538.9" cy="419.8" r="2"/>
<circle cx="557.3" cy="370.9" r="2"/>
<circle cx="557.6" cy="361.8" r="2"/>
<circle cx="555.6" cy="358.4" r="2"/>
<circle cx="553.3" cy="367.9" r="2"/>
<circle cx="556.9" cy="366.5" r="2"/>
<circle cx="568.2" cy="361.5" r="2"/>
<circle cx="571.7" cy="362.8" r="2"/>
<circle cx="571.4" cy="359.1" r="2"/>
<circle cx="570.1" cy="361.4" r="2"/>
<circle cx="567.6" cy="361.8" r="2"/>
<circle cx="588.3" cy="359.5" r="2"/>
<circle cx="585.4" cy="360.7" r="2"/>
<circle cx="588.4" cy="359.1" r="2"/>
<circle cx="587.2" cy="358.4" r="2"/>
<circle cx="585.7" cy="360.7" r="2"/>
<circle cx="601.6" cy="361.0" r="2"/>
<circle cx="597.9" cy="361.4" r="2"/>
<circle cx="601.6" cy="361.2" r="2"/>
<circle cx="603.2" cy="359.5" r="2"/>
<circle cx="600.5" cy="359.6" r="2"/>
<circle cx="617.4" cy="360.9" r="2"/>
<circle cx="615.1" cy="359.8" r="2"/>
<circle cx="616.4" cy="360.8" r="2"/>
<circle cx="617.8" cy="361.4" r="2"/>
<circle cx="615.2" cy="359.7" r="2"/>
</g>
<g fill="#f8766d" fill-opacity="0.24">
<path d="M542.1,429.9l2.3,4.1h-4.6z"/>
<path d="M541.4,429.9l2.3,4.1h-4.6z"/>
<path d="M537.7,429.9l2.3,4.1h-4.6z"/>
<path d="M538.7,429.9l2.3,4.1h-4.6z"/>
<path d="M540.7,429.9l2.3,4.1h-4.6z"/>
<path d="M557.4,424.7l2.3,4.1h-4.6z"/>
<path d="M553.2,426.9l2.3,4.1h-4.6z"/>
<path d="M556.6,429.2l2.3,4.1h-4.6z"/>
<path d="M555.0,429.9l2.3,4.1h-4.6z"/>
<path d="M553.7,426.6l2.3,4.1h-4.6z"/>
<path d="M572.2,405.0l2.3,4.1h-4.6z"/>
<path d="M571.6,421.2l2.3,4.1h-4.6z"/>
<path d="M567.8,402.0l2.3,4.1h-4.6z"/>
<path d="M567.9,421.6l2.3,4.1h-4.6z"/>
<path d="M570.4,404.7l2.3,4.1h-4.6z"/>
<path d="M586.8,404.2l2.3,4.1h-4.6z"/>
<path d="M587.8,403.5l2.3,4.1h-4.6z"/>
<path d="M586.2,404.7l2.3,4.1h-4.6z"/>
<path d="M587.3,405.2l2.3,4.1h-4.6z"/>
<path d="M587.5,404.3l2.3,4.1h-4.6z"/>
<path d="M598.3,379.5l2.3,4.1h-4.6z"/>
<path d="M599.9,382.4l2.3,4.1h-4.6z"/>
<path d="M602.9,416.6l2.3,4.1h-4.6z"/>
<path d="M597.7,416.3l2.3,4.1h-4.6z"/>
<path d="M598.1,402.4l2.3,4.1h-4.6z"/>
<path d="M616.7,391.5l2.3,4.1h-4.6z"/>
<path d="M616.8,390.2l2.3,4.1h-4.6z"/>
<path d="M617.4,388.3l2.3,4.1h-4.6z"/>
<path d="M616.6,415.8l2.3,4.1h-4.6z"/>
<path d="M614.1,402.4l2.3,4.1h-4.6z"/>
</g>
<g fill="#1aa7f5" fill-opacity="0.24">
<circle cx="538.7" cy="406.1" r="2"/>
<circle cx="542.6" cy="383.3" r="2"/>
<circle cx="541.2" cy="401.7" r="2"/>
<circle cx="538.6" cy="407.4" r="2"/>
<circle cx="542.5" cy="395.3" r="2"/>
<circle cx="556.3" cy="363.6" r="2"/>
<circle cx="554.5" cy="361.6" r="2"/>
<circle cx="553.8" cy="365.7" r="2"/>
<circle cx="553.1" cy="365.4" r="2"/>
<circle cx="555.4" cy="361.6" r="2"/>
<circle cx="571.3" cy="358.4" r="2"/>
<circle cx="572.9" cy="361.3" r="2"/>
<circle cx="571.0" cy="363.5" r="2"/>
<circle cx="570.6" cy="361.8" r="2"/>
<circle cx="572.5" cy="359.0" r="2"/>
<circle cx="585.3" cy="359.0" r="2"/>
<circle cx="585.5" cy="359.6" r="2"/>
<circle cx="588.0" cy="360.5" r="2"/>
<circle cx="584.6" cy="358.4" r="2"/>
<circle cx="585.6" cy="359.3" r="2"/>
<circle cx="599.5" cy="361.8" r="2"/>
<circle cx="603.2" cy="361.9" r="2"/>
<circle cx="597.7" cy="359.9" r="2"/>
<circle cx="603.4" cy="359.6" r="2"/>
<circle cx="601.1" cy="359.7" r="2"/>
<circle cx="615.8" cy="358.4" r="2"/>
<circle cx="616.2" cy="361.8" r="2"/>
<circle cx="613.3" cy="358.4" r="2"/>
<circle cx="617.2" cy="360.8" r="2"/>
<circle cx="616.9" cy="363.0" r="2"/>
</g>
<g fill="#1aa7f5" fill-opacity="0.24">
<path d="M542.5,429.5l2.3,4.1h-4.6z"/>
<path d="M538.7,429.8l2.3,4.1h-4.6z"/>
<path d="M542.4,425.1l2.3,4.1h-4.6z"/>
<path d="M541.4,429.9l2.3,4.1h-4.6z"/>
<path d="M539.6,427.9l2.3,4.1h-4.6z"/>
<path d="M557.4,422.6l2.3,4.1h-4.6z"/>
<path d="M554.6,423.1l2.3,4.1h-4.6z"/>
<path d="M553.9,424.6l2.3,4.1h-4.6z"/>
<path d="M556.4,420.2l2.3,4.1h-4.6z"/>
<path d="M555.7,417.2l2.3,4.1h-4.6z"/>
<path d="M567.5,405.8l2.3,4.1h-4.6z"/>
<path d="M570.7,417.9l2.3,4.1h-4.6z"/>
<path d="M572.3,412.6l2.3,4.1h-4.6z"/>
<path d="M569.1,418.9l2.3,4.1h-4.6z"/>
<path d="M570.0,418.2l2.3,4.1h-4.6z"/>
<path d="M588.2,411.2l2.3,4.1h-4.6z"/>
<path d="M585.0,407.3l2.3,4.1h-4.6z"/>
<path d="M587.9,393.1l2.3,4.1h-4.6z"/>
<path d="M586.7,394.1l2.3,4.1h-4.6z"/>
<path d="M586.0,413.9l2.3,4.1h-4.6z"/>
<path d="M598.1,401.4l2.3,4.1h-4.6z"/>
<path d="M600.2,408.7l2.3,4.1h-4.6z"/>
<path d="M601.1,395.4l2.3,4.1h-4.6z"/>
<path d="M598.4,400.2l2.3,4.1h-4.6z"/>
<path d="M601.6,382.7l2.3,4.1h-4.6z"/>
<path d="M614.2,392.9l2.3,4.1h-4.6z"/>
<path d="M615.6,408.0l2.3,4.1h-4.6z"/>
<path d="M617.0,402.9l2.3,4.1h-4.6z"/>
<path d="M616.2,391.1l2.3,4.1h-4.6z"/>
<path d="M618.3,414.3l2.3,4.1h-4.6z"/>
</g>
<polyline points="525.1,432.3 540.2,422.2 555.3,366.3 570.4,361.2 585.5,359.8 600.6,359.8 615.7,359.8" fill="none" stroke="#f9867c" stroke-width="1.2" stroke-linejoin="round"/>
<polyline points="525.1,432.3 540.2,432.3 555.3,430.9 570.4,419.2 585.5,409.8 600.6,404.8 615.7,400.4" fill="none" stroke="#f9867c" stroke-width="1.2" stroke-linejoin="round"/>
<polyline points="525.1,432.3 540.2,410.6 555.3,363.4 570.4,359.8 585.5,359.8 600.6,359.8 615.7,359.8" fill="none" stroke="#2baef7" stroke-width="1.2" stroke-linejoin="round" stroke-dasharray="4.2 2.4"/>
<polyline points="525.1,432.3 540.2,432.3 555.3,426.5 570.4,409.1 585.5,404.8 600.6,401.9 615.7,398.2" fill="none" stroke="#2baef7" stroke-width="1.2" stroke-linejoin="round" stroke-dasharray="4.2 2.4"/>
<path d="M540.2,419.2 V425.1 M538.6,419.2 h3.2 M538.6,425.1 h3.2" stroke="#111" stroke-width="0.6" fill="none"/>
<path d="M555.3,364.9 V367.8 M553.7,364.9 h3.2 M553.7,367.8 h3.2" stroke="#111" stroke-width="0.6" fill="none"/>
<path d="M555.3,430.1 V431.6 M553.7,430.1 h3.2 M553.7,431.6 h3.2" stroke="#111" stroke-width="0.6" fill="none"/>
<path d="M570.4,416.7 V421.8 M568.8,416.7 h3.2 M568.8,421.8 h3.2" stroke="#111" stroke-width="0.6" fill="none"/>
<path d="M585.5,407.3 V412.4 M583.9,407.3 h3.2 M583.9,412.4 h3.2" stroke="#111" stroke-width="0.6" fill="none"/>
<path d="M600.6,401.1 V408.4 M599.0,401.1 h3.2 M599.0,408.4 h3.2" stroke="#111" stroke-width="0.6" fill="none"/>
<path d="M615.7,396.4 V404.4 M614.1,396.4 h3.2 M614.1,404.4 h3.2" stroke="#111" stroke-width="0.6" fill="none"/>
<path d="M540.2,406.9 V414.2 M538.6,406.9 h3.2 M538.6,414.2 h3.2" stroke="#111" stroke-width="0.6" fill="none"/>
<path d="M555.3,361.6 V365.2 M553.7,361.6 h3.2 M553.7,365.2 h3.2" stroke="#111" stroke-width="0.6" fill="none"/>
<path d="M570.4,358.7 V360.9 M568.8,358.7 h3.2 M568.8,360.9 h3.2" stroke="#111" stroke-width="0.6" fill="none"/>
<path d="M585.5,359.1 V360.5 M583.9,359.1 h3.2 M583.9,360.5 h3.2" stroke="#111" stroke-width="0.6" fill="none"/>
<path d="M600.6,359.1 V360.5 M599.0,359.1 h3.2 M599.0,360.5 h3.2" stroke="#111" stroke-width="0.6" fill="none"/>
<path d="M615.7,359.1 V360.5 M614.1,359.1 h3.2 M614.1,360.5 h3.2" stroke="#111" stroke-width="0.6" fill="none"/>
<path d="M555.3,425.4 V427.6 M553.7,425.4 h3.2 M553.7,427.6 h3.2" stroke="#111" stroke-width="0.6" fill="none"/>
<path d="M570.4,406.2 V412.0 M568.8,406.2 h3.2 M568.8,412.0 h3.2" stroke="#111" stroke-width="0.6" fill="none"/>
<path d="M585.5,401.9 V407.7 M583.9,401.9 h3.2 M583.9,407.7 h3.2" stroke="#111" stroke-width="0.6" fill="none"/>
<path d="M600.6,398.2 V405.5 M599.0,398.2 h3.2 M599.0,405.5 h3.2" stroke="#111" stroke-width="0.6" fill="none"/>
<path d="M615.7,394.6 V401.9 M614.1,394.6 h3.2 M614.1,401.9 h3.2" stroke="#111" stroke-width="0.6" fill="none"/>
<circle cx="525.1" cy="432.3" r="2.1" fill="#ee6a5f" stroke="#1a1a1a" stroke-width="0.7"/>
<circle cx="540.2" cy="422.2" r="2.1" fill="#ee6a5f" stroke="#1a1a1a" stroke-width="0.7"/>
<circle cx="555.3" cy="366.3" r="2.1" fill="#ee6a5f" stroke="#1a1a1a" stroke-width="0.7"/>
<circle cx="570.4" cy="361.2" r="2.1" fill="#ee6a5f" stroke="#1a1a1a" stroke-width="0.7"/>
<circle cx="585.5" cy="359.8" r="2.1" fill="#ee6a5f" stroke="#1a1a1a" stroke-width="0.7"/>
<circle cx="600.6" cy="359.8" r="2.1" fill="#ee6a5f" stroke="#1a1a1a" stroke-width="0.7"/>
<circle cx="615.7" cy="359.8" r="2.1" fill="#ee6a5f" stroke="#1a1a1a" stroke-width="0.7"/>
<polygon points="525.1,429.8 527.5,434.1 522.7,434.1" fill="#ee6a5f" stroke="#1a1a1a" stroke-width="0.7" stroke-linejoin="round"/>
<polygon points="540.2,429.8 542.6,434.1 537.8,434.1" fill="#ee6a5f" stroke="#1a1a1a" stroke-width="0.7" stroke-linejoin="round"/>
<polygon points="555.3,428.4 557.7,432.7 552.9,432.7" fill="#ee6a5f" stroke="#1a1a1a" stroke-width="0.7" stroke-linejoin="round"/>
<polygon points="570.4,416.8 572.8,421.1 568.0,421.1" fill="#ee6a5f" stroke="#1a1a1a" stroke-width="0.7" stroke-linejoin="round"/>
<polygon points="585.5,407.3 587.9,411.6 583.1,411.6" fill="#ee6a5f" stroke="#1a1a1a" stroke-width="0.7" stroke-linejoin="round"/>
<polygon points="600.6,402.2 603.0,406.6 598.2,406.6" fill="#ee6a5f" stroke="#1a1a1a" stroke-width="0.7" stroke-linejoin="round"/>
<polygon points="615.7,397.9 618.1,402.2 613.3,402.2" fill="#ee6a5f" stroke="#1a1a1a" stroke-width="0.7" stroke-linejoin="round"/>
<circle cx="525.1" cy="432.3" r="2.1" fill="#12a0f0" stroke="#1a1a1a" stroke-width="0.7"/>
<circle cx="540.2" cy="410.6" r="2.1" fill="#12a0f0" stroke="#1a1a1a" stroke-width="0.7"/>
<circle cx="555.3" cy="363.4" r="2.1" fill="#12a0f0" stroke="#1a1a1a" stroke-width="0.7"/>
<circle cx="570.4" cy="359.8" r="2.1" fill="#12a0f0" stroke="#1a1a1a" stroke-width="0.7"/>
<circle cx="585.5" cy="359.8" r="2.1" fill="#12a0f0" stroke="#1a1a1a" stroke-width="0.7"/>
<circle cx="600.6" cy="359.8" r="2.1" fill="#12a0f0" stroke="#1a1a1a" stroke-width="0.7"/>
<circle cx="615.7" cy="359.8" r="2.1" fill="#12a0f0" stroke="#1a1a1a" stroke-width="0.7"/>
<polygon points="525.1,429.8 527.5,434.1 522.7,434.1" fill="#12a0f0" stroke="#1a1a1a" stroke-width="0.7" stroke-linejoin="round"/>
<polygon points="540.2,429.8 542.6,434.1 537.8,434.1" fill="#12a0f0" stroke="#1a1a1a" stroke-width="0.7" stroke-linejoin="round"/>
<polygon points="555.3,424.0 557.7,428.3 552.9,428.3" fill="#12a0f0" stroke="#1a1a1a" stroke-width="0.7" stroke-linejoin="round"/>
<polygon points="570.4,406.6 572.8,410.9 568.0,410.9" fill="#12a0f0" stroke="#1a1a1a" stroke-width="0.7" stroke-linejoin="round"/>
<polygon points="585.5,402.2 587.9,406.6 583.1,406.6" fill="#12a0f0" stroke="#1a1a1a" stroke-width="0.7" stroke-linejoin="round"/>
<polygon points="600.6,399.4 603.0,403.7 598.2,403.7" fill="#12a0f0" stroke="#1a1a1a" stroke-width="0.7" stroke-linejoin="round"/>
<polygon points="615.7,395.7 618.1,400.0 613.3,400.0" fill="#12a0f0" stroke="#1a1a1a" stroke-width="0.7" stroke-linejoin="round"/>
<rect x="517.6" y="355.5" width="105.6" height="80.89999999999998" fill="none" stroke="#4a4a4a" stroke-width="1.1"/>
<g stroke="#333" stroke-width="0.7"><line x1="515.0" y1="432.3" x2="517.1" y2="432.3"/><line x1="515.0" y1="414.2" x2="517.1" y2="414.2"/><line x1="515.0" y1="396.1" x2="517.1" y2="396.1"/><line x1="515.0" y1="377.9" x2="517.1" y2="377.9"/><line x1="515.0" y1="359.8" x2="517.1" y2="359.8"/><line x1="525.1" y1="436.9" x2="525.1" y2="439.0"/><line x1="540.2" y1="436.9" x2="540.2" y2="439.0"/><line x1="555.3" y1="436.9" x2="555.3" y2="439.0"/><line x1="570.4" y1="436.9" x2="570.4" y2="439.0"/><line x1="585.5" y1="436.9" x2="585.5" y2="439.0"/><line x1="600.6" y1="436.9" x2="600.6" y2="439.0"/><line x1="615.7" y1="436.9" x2="615.7" y2="439.0"/></g>
<g font-size="6.6" fill="#4d4d4d">
<text x="514.00" y="434.65" font-size="6.6" text-anchor="end" fill="#4d4d4d">0</text>
<text x="514.00" y="416.53" font-size="6.6" text-anchor="end" fill="#4d4d4d">25</text>
<text x="514.00" y="398.40" font-size="6.6" text-anchor="end" fill="#4d4d4d">50</text>
<text x="514.00" y="380.28" font-size="6.6" text-anchor="end" fill="#4d4d4d">75</text>
<text x="514.00" y="362.15" font-size="6.6" text-anchor="end" fill="#4d4d4d">100</text>
<text x="525.10" y="445.80" font-size="6.6" text-anchor="middle" fill="#4d4d4d">1</text>
<text x="540.20" y="445.80" font-size="6.6" text-anchor="middle" fill="#4d4d4d">2</text>
<text x="555.30" y="445.80" font-size="6.6" text-anchor="middle" fill="#4d4d4d">3</text>
<text x="570.40" y="445.80" font-size="6.6" text-anchor="middle" fill="#4d4d4d">4</text>
<text x="585.50" y="445.80" font-size="6.6" text-anchor="middle" fill="#4d4d4d">5</text>
<text x="600.60" y="445.80" font-size="6.6" text-anchor="middle" fill="#4d4d4d">6</text>
<text x="615.70" y="445.80" font-size="6.6" text-anchor="middle" fill="#4d4d4d">7</text>
</g>
<text x="518.00" y="349.20" font-size="10.3" text-anchor="start" fill="#000" font-style="italic" stroke="#000" stroke-width="0.18">rha1b-2</text>
<rect x="642.4" y="355.5" width="105.6" height="80.89999999999998" fill="#fff"/>
<g stroke="#e6e6e6"><line x1="657.4" y1="355.5" x2="657.4" y2="436.4" stroke-width="0.4"/><line x1="672.5" y1="355.5" x2="672.5" y2="436.4" stroke-width="0.4"/><line x1="687.6" y1="355.5" x2="687.6" y2="436.4" stroke-width="0.4"/><line x1="702.8" y1="355.5" x2="702.8" y2="436.4" stroke-width="0.4"/><line x1="717.9" y1="355.5" x2="717.9" y2="436.4" stroke-width="0.4"/><line x1="732.9" y1="355.5" x2="732.9" y2="436.4" stroke-width="0.4"/><line x1="642.4" y1="423.2" x2="748.0" y2="423.2" stroke-width="0.4"/><line x1="642.4" y1="405.1" x2="748.0" y2="405.1" stroke-width="0.4"/><line x1="642.4" y1="387.0" x2="748.0" y2="387.0" stroke-width="0.4"/><line x1="642.4" y1="368.9" x2="748.0" y2="368.9" stroke-width="0.4"/><line x1="649.9" y1="355.5" x2="649.9" y2="436.4" stroke-width="0.8"/><line x1="665.0" y1="355.5" x2="665.0" y2="436.4" stroke-width="0.8"/><line x1="680.1" y1="355.5" x2="680.1" y2="436.4" stroke-width="0.8"/><line x1="695.2" y1="355.5" x2="695.2" y2="436.4" stroke-width="0.8"/><line x1="710.3" y1="355.5" x2="710.3" y2="436.4" stroke-width="0.8"/><line x1="725.4" y1="355.5" x2="725.4" y2="436.4" stroke-width="0.8"/><line x1="740.5" y1="355.5" x2="740.5" y2="436.4" stroke-width="0.8"/><line x1="642.4" y1="432.3" x2="748.0" y2="432.3" stroke-width="0.8"/><line x1="642.4" y1="414.2" x2="748.0" y2="414.2" stroke-width="0.8"/><line x1="642.4" y1="396.1" x2="748.0" y2="396.1" stroke-width="0.8"/><line x1="642.4" y1="377.9" x2="748.0" y2="377.9" stroke-width="0.8"/><line x1="642.4" y1="359.8" x2="748.0" y2="359.8" stroke-width="0.8"/></g>
<g fill="#f8766d" fill-opacity="0.24">
<circle cx="666.9" cy="414.3" r="2"/>
<circle cx="663.5" cy="425.6" r="2"/>
<circle cx="665.3" cy="429.1" r="2"/>
<circle cx="662.4" cy="421.4" r="2"/>
<circle cx="662.2" cy="428.7" r="2"/>
<circle cx="682.0" cy="364.4" r="2"/>
<circle cx="680.9" cy="364.2" r="2"/>
<circle cx="680.3" cy="367.6" r="2"/>
<circle cx="681.1" cy="371.5" r="2"/>
<circle cx="678.8" cy="363.7" r="2"/>
<circle cx="698.2" cy="362.1" r="2"/>
<circle cx="697.8" cy="360.3" r="2"/>
<circle cx="697.7" cy="361.0" r="2"/>
<circle cx="698.1" cy="362.4" r="2"/>
<circle cx="694.7" cy="360.7" r="2"/>
<circle cx="708.7" cy="360.3" r="2"/>
<circle cx="710.3" cy="361.8" r="2"/>
<circle cx="709.3" cy="359.2" r="2"/>
<circle cx="712.2" cy="359.5" r="2"/>
<circle cx="713.0" cy="359.3" r="2"/>
<circle cx="724.0" cy="359.7" r="2"/>
<circle cx="723.2" cy="359.9" r="2"/>
<circle cx="725.3" cy="360.5" r="2"/>
<circle cx="725.1" cy="359.6" r="2"/>
<circle cx="725.4" cy="360.7" r="2"/>
<circle cx="737.8" cy="360.8" r="2"/>
<circle cx="742.7" cy="358.7" r="2"/>
<circle cx="739.4" cy="360.2" r="2"/>
<circle cx="740.5" cy="358.4" r="2"/>
<circle cx="738.5" cy="358.4" r="2"/>
</g>
<g fill="#f8766d" fill-opacity="0.24">
<path d="M662.7,427.5l2.3,4.1h-4.6z"/>
<path d="M667.7,429.9l2.3,4.1h-4.6z"/>
<path d="M662.9,429.5l2.3,4.1h-4.6z"/>
<path d="M667.3,429.5l2.3,4.1h-4.6z"/>
<path d="M666.2,429.9l2.3,4.1h-4.6z"/>
<path d="M678.9,429.9l2.3,4.1h-4.6z"/>
<path d="M678.5,427.6l2.3,4.1h-4.6z"/>
<path d="M680.6,428.1l2.3,4.1h-4.6z"/>
<path d="M678.3,427.9l2.3,4.1h-4.6z"/>
<path d="M677.2,428.2l2.3,4.1h-4.6z"/>
<path d="M692.9,413.0l2.3,4.1h-4.6z"/>
<path d="M694.2,415.4l2.3,4.1h-4.6z"/>
<path d="M692.2,410.2l2.3,4.1h-4.6z"/>
<path d="M692.6,426.0l2.3,4.1h-4.6z"/>
<path d="M694.9,421.2l2.3,4.1h-4.6z"/>
<path d="M710.5,400.2l2.3,4.1h-4.6z"/>
<path d="M708.8,409.3l2.3,4.1h-4.6z"/>
<path d="M708.9,418.1l2.3,4.1h-4.6z"/>
<path d="M712.8,398.2l2.3,4.1h-4.6z"/>
<path d="M712.9,407.8l2.3,4.1h-4.6z"/>
<path d="M726.8,396.7l2.3,4.1h-4.6z"/>
<path d="M724.1,416.5l2.3,4.1h-4.6z"/>
<path d="M723.5,399.4l2.3,4.1h-4.6z"/>
<path d="M723.5,391.9l2.3,4.1h-4.6z"/>
<path d="M722.5,397.2l2.3,4.1h-4.6z"/>
<path d="M738.3,393.2l2.3,4.1h-4.6z"/>
<path d="M741.7,398.4l2.3,4.1h-4.6z"/>
<path d="M741.7,401.8l2.3,4.1h-4.6z"/>
<path d="M741.1,391.2l2.3,4.1h-4.6z"/>
<path d="M743.2,386.2l2.3,4.1h-4.6z"/>
</g>
<g fill="#1aa7f5" fill-opacity="0.24">
<circle cx="662.3" cy="428.1" r="2"/>
<circle cx="663.0" cy="427.4" r="2"/>
<circle cx="667.1" cy="410.6" r="2"/>
<circle cx="662.6" cy="408.4" r="2"/>
<circle cx="663.3" cy="420.3" r="2"/>
<circle cx="680.1" cy="379.4" r="2"/>
<circle cx="681.7" cy="367.2" r="2"/>
<circle cx="678.3" cy="362.1" r="2"/>
<circle cx="682.3" cy="375.4" r="2"/>
<circle cx="682.9" cy="367.9" r="2"/>
<circle cx="694.3" cy="360.7" r="2"/>
<circle cx="697.7" cy="365.3" r="2"/>
<circle cx="695.9" cy="359.6" r="2"/>
<circle cx="697.9" cy="368.0" r="2"/>
<circle cx="696.8" cy="362.0" r="2"/>
<circle cx="708.9" cy="361.7" r="2"/>
<circle cx="711.0" cy="364.6" r="2"/>
<circle cx="708.9" cy="364.8" r="2"/>
<circle cx="707.3" cy="360.0" r="2"/>
<circle cx="709.2" cy="363.3" r="2"/>
<circle cx="726.1" cy="367.0" r="2"/>
<circle cx="728.1" cy="363.2" r="2"/>
<circle cx="725.1" cy="363.0" r="2"/>
<circle cx="727.9" cy="362.1" r="2"/>
<circle cx="727.4" cy="366.8" r="2"/>
<circle cx="742.9" cy="363.8" r="2"/>
<circle cx="740.9" cy="363.2" r="2"/>
<circle cx="738.1" cy="362.7" r="2"/>
<circle cx="739.7" cy="363.8" r="2"/>
<circle cx="740.4" cy="361.6" r="2"/>
</g>
<g fill="#1aa7f5" fill-opacity="0.24">
<path d="M667.1,429.9l2.3,4.1h-4.6z"/>
<path d="M666.9,429.9l2.3,4.1h-4.6z"/>
<path d="M664.3,429.1l2.3,4.1h-4.6z"/>
<path d="M664.6,428.7l2.3,4.1h-4.6z"/>
<path d="M667.8,428.9l2.3,4.1h-4.6z"/>
<path d="M682.4,427.3l2.3,4.1h-4.6z"/>
<path d="M682.2,428.5l2.3,4.1h-4.6z"/>
<path d="M679.5,429.9l2.3,4.1h-4.6z"/>
<path d="M679.0,429.9l2.3,4.1h-4.6z"/>
<path d="M678.6,426.0l2.3,4.1h-4.6z"/>
<path d="M695.0,409.6l2.3,4.1h-4.6z"/>
<path d="M695.4,425.7l2.3,4.1h-4.6z"/>
<path d="M692.4,415.6l2.3,4.1h-4.6z"/>
<path d="M694.3,417.4l2.3,4.1h-4.6z"/>
<path d="M694.0,417.3l2.3,4.1h-4.6z"/>
<path d="M712.6,416.4l2.3,4.1h-4.6z"/>
<path d="M712.7,411.4l2.3,4.1h-4.6z"/>
<path d="M711.9,404.9l2.3,4.1h-4.6z"/>
<path d="M708.9,420.4l2.3,4.1h-4.6z"/>
<path d="M709.3,410.1l2.3,4.1h-4.6z"/>
<path d="M725.0,396.8l2.3,4.1h-4.6z"/>
<path d="M728.0,412.3l2.3,4.1h-4.6z"/>
<path d="M725.5,417.3l2.3,4.1h-4.6z"/>
<path d="M723.1,406.1l2.3,4.1h-4.6z"/>
<path d="M724.7,410.4l2.3,4.1h-4.6z"/>
<path d="M737.7,410.6l2.3,4.1h-4.6z"/>
<path d="M738.4,405.6l2.3,4.1h-4.6z"/>
<path d="M742.2,388.8l2.3,4.1h-4.6z"/>
<path d="M743.3,412.2l2.3,4.1h-4.6z"/>
<path d="M737.8,413.3l2.3,4.1h-4.6z"/>
</g>
<polyline points="649.9,432.3 665.0,422.2 680.1,366.3 695.2,361.2 710.3,359.8 725.4,359.8 740.5,359.8" fill="none" stroke="#f9867c" stroke-width="1.2" stroke-linejoin="round"/>
<polyline points="649.9,432.3 665.0,432.3 680.1,430.9 695.2,419.2 710.3,409.8 725.4,404.8 740.5,400.4" fill="none" stroke="#f9867c" stroke-width="1.2" stroke-linejoin="round"/>
<polyline points="649.9,432.3 665.0,423.6 680.1,367.8 695.2,363.4 710.3,362.7 725.4,362.7 740.5,362.7" fill="none" stroke="#2baef7" stroke-width="1.2" stroke-linejoin="round" stroke-dasharray="4.2 2.4"/>
<polyline points="649.9,432.3 665.0,432.3 680.1,431.6 695.2,421.4 710.3,417.1 725.4,413.4 740.5,412.7" fill="none" stroke="#2baef7" stroke-width="1.2" stroke-linejoin="round" stroke-dasharray="4.2 2.4"/>
<path d="M665.0,419.2 V425.1 M663.4,419.2 h3.2 M663.4,425.1 h3.2" stroke="#111" stroke-width="0.6" fill="none"/>
<path d="M680.1,364.9 V367.8 M678.5,364.9 h3.2 M678.5,367.8 h3.2" stroke="#111" stroke-width="0.6" fill="none"/>
<path d="M680.1,430.1 V431.6 M678.5,430.1 h3.2 M678.5,431.6 h3.2" stroke="#111" stroke-width="0.6" fill="none"/>
<path d="M695.2,416.7 V421.8 M693.6,416.7 h3.2 M693.6,421.8 h3.2" stroke="#111" stroke-width="0.6" fill="none"/>
<path d="M710.3,407.3 V412.4 M708.7,407.3 h3.2 M708.7,412.4 h3.2" stroke="#111" stroke-width="0.6" fill="none"/>
<path d="M725.4,401.1 V408.4 M723.8,401.1 h3.2 M723.8,408.4 h3.2" stroke="#111" stroke-width="0.6" fill="none"/>
<path d="M740.5,396.4 V404.4 M738.9,396.4 h3.2 M738.9,404.4 h3.2" stroke="#111" stroke-width="0.6" fill="none"/>
<path d="M665.0,420.0 V427.2 M663.4,420.0 h3.2 M663.4,427.2 h3.2" stroke="#111" stroke-width="0.6" fill="none"/>
<path d="M680.1,366.0 V369.6 M678.5,366.0 h3.2 M678.5,369.6 h3.2" stroke="#111" stroke-width="0.6" fill="none"/>
<path d="M695.2,362.3 V364.5 M693.6,362.3 h3.2 M693.6,364.5 h3.2" stroke="#111" stroke-width="0.6" fill="none"/>
<path d="M710.3,362.0 V363.4 M708.7,362.0 h3.2 M708.7,363.4 h3.2" stroke="#111" stroke-width="0.6" fill="none"/>
<path d="M725.4,362.0 V363.4 M723.8,362.0 h3.2 M723.8,363.4 h3.2" stroke="#111" stroke-width="0.6" fill="none"/>
<path d="M740.5,362.0 V363.4 M738.9,362.0 h3.2 M738.9,363.4 h3.2" stroke="#111" stroke-width="0.6" fill="none"/>
<path d="M680.1,430.5 V432.7 M678.5,430.5 h3.2 M678.5,432.7 h3.2" stroke="#111" stroke-width="0.6" fill="none"/>
<path d="M695.2,418.5 V424.3 M693.6,418.5 h3.2 M693.6,424.3 h3.2" stroke="#111" stroke-width="0.6" fill="none"/>
<path d="M710.3,414.2 V420.0 M708.7,414.2 h3.2 M708.7,420.0 h3.2" stroke="#111" stroke-width="0.6" fill="none"/>
<path d="M725.4,409.8 V417.1 M723.8,409.8 h3.2 M723.8,417.1 h3.2" stroke="#111" stroke-width="0.6" fill="none"/>
<path d="M740.5,409.1 V416.4 M738.9,409.1 h3.2 M738.9,416.4 h3.2" stroke="#111" stroke-width="0.6" fill="none"/>
<circle cx="649.9" cy="432.3" r="2.1" fill="#ee6a5f" stroke="#1a1a1a" stroke-width="0.7"/>
<circle cx="665.0" cy="422.2" r="2.1" fill="#ee6a5f" stroke="#1a1a1a" stroke-width="0.7"/>
<circle cx="680.1" cy="366.3" r="2.1" fill="#ee6a5f" stroke="#1a1a1a" stroke-width="0.7"/>
<circle cx="695.2" cy="361.2" r="2.1" fill="#ee6a5f" stroke="#1a1a1a" stroke-width="0.7"/>
<circle cx="710.3" cy="359.8" r="2.1" fill="#ee6a5f" stroke="#1a1a1a" stroke-width="0.7"/>
<circle cx="725.4" cy="359.8" r="2.1" fill="#ee6a5f" stroke="#1a1a1a" stroke-width="0.7"/>
<circle cx="740.5" cy="359.8" r="2.1" fill="#ee6a5f" stroke="#1a1a1a" stroke-width="0.7"/>
<polygon points="649.9,429.8 652.3,434.1 647.5,434.1" fill="#ee6a5f" stroke="#1a1a1a" stroke-width="0.7" stroke-linejoin="round"/>
<polygon points="665.0,429.8 667.4,434.1 662.6,434.1" fill="#ee6a5f" stroke="#1a1a1a" stroke-width="0.7" stroke-linejoin="round"/>
<polygon points="680.1,428.4 682.5,432.7 677.7,432.7" fill="#ee6a5f" stroke="#1a1a1a" stroke-width="0.7" stroke-linejoin="round"/>
<polygon points="695.2,416.8 697.6,421.1 692.8,421.1" fill="#ee6a5f" stroke="#1a1a1a" stroke-width="0.7" stroke-linejoin="round"/>
<polygon points="710.3,407.3 712.7,411.6 707.9,411.6" fill="#ee6a5f" stroke="#1a1a1a" stroke-width="0.7" stroke-linejoin="round"/>
<polygon points="725.4,402.2 727.8,406.6 723.0,406.6" fill="#ee6a5f" stroke="#1a1a1a" stroke-width="0.7" stroke-linejoin="round"/>
<polygon points="740.5,397.9 742.9,402.2 738.1,402.2" fill="#ee6a5f" stroke="#1a1a1a" stroke-width="0.7" stroke-linejoin="round"/>
<circle cx="649.9" cy="432.3" r="2.1" fill="#12a0f0" stroke="#1a1a1a" stroke-width="0.7"/>
<circle cx="665.0" cy="423.6" r="2.1" fill="#12a0f0" stroke="#1a1a1a" stroke-width="0.7"/>
<circle cx="680.1" cy="367.8" r="2.1" fill="#12a0f0" stroke="#1a1a1a" stroke-width="0.7"/>
<circle cx="695.2" cy="363.4" r="2.1" fill="#12a0f0" stroke="#1a1a1a" stroke-width="0.7"/>
<circle cx="710.3" cy="362.7" r="2.1" fill="#12a0f0" stroke="#1a1a1a" stroke-width="0.7"/>
<circle cx="725.4" cy="362.7" r="2.1" fill="#12a0f0" stroke="#1a1a1a" stroke-width="0.7"/>
<circle cx="740.5" cy="362.7" r="2.1" fill="#12a0f0" stroke="#1a1a1a" stroke-width="0.7"/>
<polygon points="649.9,429.8 652.3,434.1 647.5,434.1" fill="#12a0f0" stroke="#1a1a1a" stroke-width="0.7" stroke-linejoin="round"/>
<polygon points="665.0,429.8 667.4,434.1 662.6,434.1" fill="#12a0f0" stroke="#1a1a1a" stroke-width="0.7" stroke-linejoin="round"/>
<polygon points="680.1,429.1 682.5,433.4 677.7,433.4" fill="#12a0f0" stroke="#1a1a1a" stroke-width="0.7" stroke-linejoin="round"/>
<polygon points="695.2,418.9 697.6,423.2 692.8,423.2" fill="#12a0f0" stroke="#1a1a1a" stroke-width="0.7" stroke-linejoin="round"/>
<polygon points="710.3,414.6 712.7,418.9 707.9,418.9" fill="#12a0f0" stroke="#1a1a1a" stroke-width="0.7" stroke-linejoin="round"/>
<polygon points="725.4,410.9 727.8,415.2 723.0,415.2" fill="#12a0f0" stroke="#1a1a1a" stroke-width="0.7" stroke-linejoin="round"/>
<polygon points="740.5,410.2 742.9,414.5 738.1,414.5" fill="#12a0f0" stroke="#1a1a1a" stroke-width="0.7" stroke-linejoin="round"/>
<rect x="642.4" y="355.5" width="105.6" height="80.89999999999998" fill="none" stroke="#4a4a4a" stroke-width="1.1"/>
<g stroke="#333" stroke-width="0.7"><line x1="639.8" y1="432.3" x2="641.9" y2="432.3"/><line x1="639.8" y1="414.2" x2="641.9" y2="414.2"/><line x1="639.8" y1="396.1" x2="641.9" y2="396.1"/><line x1="639.8" y1="377.9" x2="641.9" y2="377.9"/><line x1="639.8" y1="359.8" x2="641.9" y2="359.8"/><line x1="649.9" y1="436.9" x2="649.9" y2="439.0"/><line x1="665.0" y1="436.9" x2="665.0" y2="439.0"/><line x1="680.1" y1="436.9" x2="680.1" y2="439.0"/><line x1="695.2" y1="436.9" x2="695.2" y2="439.0"/><line x1="710.3" y1="436.9" x2="710.3" y2="439.0"/><line x1="725.4" y1="436.9" x2="725.4" y2="439.0"/><line x1="740.5" y1="436.9" x2="740.5" y2="439.0"/></g>
<g font-size="6.6" fill="#4d4d4d">
<text x="638.80" y="434.65" font-size="6.6" text-anchor="end" fill="#4d4d4d">0</text>
<text x="638.80" y="416.53" font-size="6.6" text-anchor="end" fill="#4d4d4d">25</text>
<text x="638.80" y="398.40" font-size="6.6" text-anchor="end" fill="#4d4d4d">50</text>
<text x="638.80" y="380.28" font-size="6.6" text-anchor="end" fill="#4d4d4d">75</text>
<text x="638.80" y="362.15" font-size="6.6" text-anchor="end" fill="#4d4d4d">100</text>
<text x="649.90" y="445.80" font-size="6.6" text-anchor="middle" fill="#4d4d4d">1</text>
<text x="665.00" y="445.80" font-size="6.6" text-anchor="middle" fill="#4d4d4d">2</text>
<text x="680.10" y="445.80" font-size="6.6" text-anchor="middle" fill="#4d4d4d">3</text>
<text x="695.20" y="445.80" font-size="6.6" text-anchor="middle" fill="#4d4d4d">4</text>
<text x="710.30" y="445.80" font-size="6.6" text-anchor="middle" fill="#4d4d4d">5</text>
<text x="725.40" y="445.80" font-size="6.6" text-anchor="middle" fill="#4d4d4d">6</text>
<text x="740.50" y="445.80" font-size="6.6" text-anchor="middle" fill="#4d4d4d">7</text>
</g>
<text x="642.80" y="349.20" font-size="10.3" text-anchor="start" fill="#000" font-style="italic" stroke="#000" stroke-width="0.18">wavh1-1</text>
<rect x="767.0" y="355.5" width="105.6" height="80.89999999999998" fill="#fff"/>
<g stroke="#e6e6e6"><line x1="782.0" y1="355.5" x2="782.0" y2="436.4" stroke-width="0.4"/><line x1="797.1" y1="355.5" x2="797.1" y2="436.4" stroke-width="0.4"/><line x1="812.2" y1="355.5" x2="812.2" y2="436.4" stroke-width="0.4"/><line x1="827.4" y1="355.5" x2="827.4" y2="436.4" stroke-width="0.4"/><line x1="842.5" y1="355.5" x2="842.5" y2="436.4" stroke-width="0.4"/><line x1="857.5" y1="355.5" x2="857.5" y2="436.4" stroke-width="0.4"/><line x1="767.0" y1="423.2" x2="872.6" y2="423.2" stroke-width="0.4"/><line x1="767.0" y1="405.1" x2="872.6" y2="405.1" stroke-width="0.4"/><line x1="767.0" y1="387.0" x2="872.6" y2="387.0" stroke-width="0.4"/><line x1="767.0" y1="368.9" x2="872.6" y2="368.9" stroke-width="0.4"/><line x1="774.5" y1="355.5" x2="774.5" y2="436.4" stroke-width="0.8"/><line x1="789.6" y1="355.5" x2="789.6" y2="436.4" stroke-width="0.8"/><line x1="804.7" y1="355.5" x2="804.7" y2="436.4" stroke-width="0.8"/><line x1="819.8" y1="355.5" x2="819.8" y2="436.4" stroke-width="0.8"/><line x1="834.9" y1="355.5" x2="834.9" y2="436.4" stroke-width="0.8"/><line x1="850.0" y1="355.5" x2="850.0" y2="436.4" stroke-width="0.8"/><line x1="865.1" y1="355.5" x2="865.1" y2="436.4" stroke-width="0.8"/><line x1="767.0" y1="432.3" x2="872.6" y2="432.3" stroke-width="0.8"/><line x1="767.0" y1="414.2" x2="872.6" y2="414.2" stroke-width="0.8"/><line x1="767.0" y1="396.1" x2="872.6" y2="396.1" stroke-width="0.8"/><line x1="767.0" y1="377.9" x2="872.6" y2="377.9" stroke-width="0.8"/><line x1="767.0" y1="359.8" x2="872.6" y2="359.8" stroke-width="0.8"/></g>
<g fill="#f8766d" fill-opacity="0.24">
<circle cx="792.3" cy="419.3" r="2"/>
<circle cx="789.6" cy="427.5" r="2"/>
<circle cx="787.6" cy="431.8" r="2"/>
<circle cx="787.8" cy="414.9" r="2"/>
<circle cx="790.6" cy="427.7" r="2"/>
<circle cx="804.2" cy="364.8" r="2"/>
<circle cx="803.0" cy="368.9" r="2"/>
<circle cx="806.0" cy="364.0" r="2"/>
<circle cx="806.5" cy="363.0" r="2"/>
<circle cx="803.6" cy="368.6" r="2"/>
<circle cx="820.2" cy="361.2" r="2"/>
<circle cx="819.2" cy="362.1" r="2"/>
<circle cx="817.4" cy="360.0" r="2"/>
<circle cx="817.4" cy="362.6" r="2"/>
<circle cx="818.2" cy="362.0" r="2"/>
<circle cx="837.6" cy="359.6" r="2"/>
<circle cx="832.0" cy="359.6" r="2"/>
<circle cx="835.7" cy="359.9" r="2"/>
<circle cx="836.1" cy="358.4" r="2"/>
<circle cx="836.3" cy="360.5" r="2"/>
<circle cx="852.1" cy="361.1" r="2"/>
<circle cx="847.6" cy="359.7" r="2"/>
<circle cx="847.9" cy="360.5" r="2"/>
<circle cx="851.6" cy="361.4" r="2"/>
<circle cx="851.6" cy="358.4" r="2"/>
<circle cx="864.8" cy="358.4" r="2"/>
<circle cx="864.3" cy="362.3" r="2"/>
<circle cx="863.3" cy="361.3" r="2"/>
<circle cx="863.0" cy="360.7" r="2"/>
<circle cx="866.7" cy="362.0" r="2"/>
</g>
<g fill="#f8766d" fill-opacity="0.24">
<path d="M789.5,429.9l2.3,4.1h-4.6z"/>
<path d="M792.3,428.8l2.3,4.1h-4.6z"/>
<path d="M792.4,429.9l2.3,4.1h-4.6z"/>
<path d="M787.4,429.9l2.3,4.1h-4.6z"/>
<path d="M787.5,428.2l2.3,4.1h-4.6z"/>
<path d="M805.2,429.8l2.3,4.1h-4.6z"/>
<path d="M802.0,428.5l2.3,4.1h-4.6z"/>
<path d="M803.9,427.8l2.3,4.1h-4.6z"/>
<path d="M805.2,427.9l2.3,4.1h-4.6z"/>
<path d="M806.9,429.1l2.3,4.1h-4.6z"/>
<path d="M820.4,424.8l2.3,4.1h-4.6z"/>
<path d="M821.4,407.7l2.3,4.1h-4.6z"/>
<path d="M819.2,429.9l2.3,4.1h-4.6z"/>
<path d="M818.1,414.4l2.3,4.1h-4.6z"/>
<path d="M817.5,412.6l2.3,4.1h-4.6z"/>
<path d="M837.5,403.4l2.3,4.1h-4.6z"/>
<path d="M836.5,397.7l2.3,4.1h-4.6z"/>
<path d="M834.7,396.6l2.3,4.1h-4.6z"/>
<path d="M837.5,402.6l2.3,4.1h-4.6z"/>
<path d="M834.4,405.8l2.3,4.1h-4.6z"/>
<path d="M847.3,401.3l2.3,4.1h-4.6z"/>
<path d="M849.2,407.9l2.3,4.1h-4.6z"/>
<path d="M850.8,406.7l2.3,4.1h-4.6z"/>
<path d="M850.5,396.4l2.3,4.1h-4.6z"/>
<path d="M849.5,411.2l2.3,4.1h-4.6z"/>
<path d="M863.7,401.8l2.3,4.1h-4.6z"/>
<path d="M866.0,409.2l2.3,4.1h-4.6z"/>
<path d="M867.9,401.8l2.3,4.1h-4.6z"/>
<path d="M862.7,405.1l2.3,4.1h-4.6z"/>
<path d="M867.1,383.6l2.3,4.1h-4.6z"/>
</g>
<g fill="#1aa7f5" fill-opacity="0.24">
<circle cx="790.0" cy="429.2" r="2"/>
<circle cx="787.3" cy="417.8" r="2"/>
<circle cx="787.8" cy="413.7" r="2"/>
<circle cx="789.5" cy="416.0" r="2"/>
<circle cx="792.0" cy="400.0" r="2"/>
<circle cx="803.7" cy="368.8" r="2"/>
<circle cx="803.1" cy="371.9" r="2"/>
<circle cx="802.3" cy="367.2" r="2"/>
<circle cx="801.7" cy="366.1" r="2"/>
<circle cx="802.8" cy="362.9" r="2"/>
<circle cx="821.3" cy="359.1" r="2"/>
<circle cx="820.2" cy="365.4" r="2"/>
<circle cx="818.9" cy="368.8" r="2"/>
<circle cx="818.4" cy="361.2" r="2"/>
<circle cx="816.9" cy="362.3" r="2"/>
<circle cx="833.5" cy="361.1" r="2"/>
<circle cx="834.8" cy="362.9" r="2"/>
<circle cx="833.6" cy="363.0" r="2"/>
<circle cx="834.6" cy="362.0" r="2"/>
<circle cx="836.4" cy="363.6" r="2"/>
<circle cx="847.1" cy="362.9" r="2"/>
<circle cx="849.8" cy="366.5" r="2"/>
<circle cx="848.5" cy="360.3" r="2"/>
<circle cx="851.8" cy="358.4" r="2"/>
<circle cx="851.8" cy="365.7" r="2"/>
<circle cx="867.3" cy="362.4" r="2"/>
<circle cx="866.1" cy="360.3" r="2"/>
<circle cx="867.6" cy="363.4" r="2"/>
<circle cx="867.1" cy="361.3" r="2"/>
<circle cx="866.8" cy="364.2" r="2"/>
</g>
<g fill="#1aa7f5" fill-opacity="0.24">
<path d="M789.2,429.9l2.3,4.1h-4.6z"/>
<path d="M792.2,428.8l2.3,4.1h-4.6z"/>
<path d="M787.4,428.8l2.3,4.1h-4.6z"/>
<path d="M788.1,426.5l2.3,4.1h-4.6z"/>
<path d="M788.4,429.3l2.3,4.1h-4.6z"/>
<path d="M803.5,429.9l2.3,4.1h-4.6z"/>
<path d="M804.0,429.9l2.3,4.1h-4.6z"/>
<path d="M804.5,429.9l2.3,4.1h-4.6z"/>
<path d="M807.1,429.9l2.3,4.1h-4.6z"/>
<path d="M805.5,425.1l2.3,4.1h-4.6z"/>
<path d="M819.3,408.3l2.3,4.1h-4.6z"/>
<path d="M820.6,399.0l2.3,4.1h-4.6z"/>
<path d="M819.9,412.9l2.3,4.1h-4.6z"/>
<path d="M820.1,397.2l2.3,4.1h-4.6z"/>
<path d="M818.3,399.3l2.3,4.1h-4.6z"/>
<path d="M831.9,401.3l2.3,4.1h-4.6z"/>
<path d="M837.3,386.2l2.3,4.1h-4.6z"/>
<path d="M835.9,398.7l2.3,4.1h-4.6z"/>
<path d="M834.6,398.9l2.3,4.1h-4.6z"/>
<path d="M832.3,397.3l2.3,4.1h-4.6z"/>
<path d="M847.9,378.5l2.3,4.1h-4.6z"/>
<path d="M849.9,385.2l2.3,4.1h-4.6z"/>
<path d="M849.3,385.1l2.3,4.1h-4.6z"/>
<path d="M850.1,402.6l2.3,4.1h-4.6z"/>
<path d="M851.3,386.2l2.3,4.1h-4.6z"/>
<path d="M863.5,389.8l2.3,4.1h-4.6z"/>
<path d="M862.4,388.6l2.3,4.1h-4.6z"/>
<path d="M863.3,388.3l2.3,4.1h-4.6z"/>
<path d="M866.5,388.3l2.3,4.1h-4.6z"/>
<path d="M863.9,394.1l2.3,4.1h-4.6z"/>
</g>
<polyline points="774.5,432.3 789.6,422.2 804.7,366.3 819.8,361.2 834.9,359.8 850.0,359.8 865.1,359.8" fill="none" stroke="#f9867c" stroke-width="1.2" stroke-linejoin="round"/>
<polyline points="774.5,432.3 789.6,432.3 804.7,430.9 819.8,419.2 834.9,409.8 850.0,404.8 865.1,400.4" fill="none" stroke="#f9867c" stroke-width="1.2" stroke-linejoin="round"/>
<polyline points="774.5,432.3 789.6,414.9 804.7,364.9 819.8,362.0 834.9,362.0 850.0,362.0 865.1,362.0" fill="none" stroke="#2baef7" stroke-width="1.2" stroke-linejoin="round" stroke-dasharray="4.2 2.4"/>
<polyline points="774.5,432.3 789.6,431.6 804.7,430.1 819.8,410.6 834.9,401.9 850.0,394.6 865.1,388.8" fill="none" stroke="#2baef7" stroke-width="1.2" stroke-linejoin="round" stroke-dasharray="4.2 2.4"/>
<path d="M789.6,419.2 V425.1 M788.0,419.2 h3.2 M788.0,425.1 h3.2" stroke="#111" stroke-width="0.6" fill="none"/>
<path d="M804.7,364.9 V367.8 M803.1,364.9 h3.2 M803.1,367.8 h3.2" stroke="#111" stroke-width="0.6" fill="none"/>
<path d="M804.7,430.1 V431.6 M803.1,430.1 h3.2 M803.1,431.6 h3.2" stroke="#111" stroke-width="0.6" fill="none"/>
<path d="M819.8,416.7 V421.8 M818.2,416.7 h3.2 M818.2,421.8 h3.2" stroke="#111" stroke-width="0.6" fill="none"/>
<path d="M834.9,407.3 V412.4 M833.3,407.3 h3.2 M833.3,412.4 h3.2" stroke="#111" stroke-width="0.6" fill="none"/>
<path d="M850.0,401.1 V408.4 M848.4,401.1 h3.2 M848.4,408.4 h3.2" stroke="#111" stroke-width="0.6" fill="none"/>
<path d="M865.1,396.4 V404.4 M863.5,396.4 h3.2 M863.5,404.4 h3.2" stroke="#111" stroke-width="0.6" fill="none"/>
<path d="M789.6,411.3 V418.5 M788.0,411.3 h3.2 M788.0,418.5 h3.2" stroke="#111" stroke-width="0.6" fill="none"/>
<path d="M804.7,363.1 V366.7 M803.1,363.1 h3.2 M803.1,366.7 h3.2" stroke="#111" stroke-width="0.6" fill="none"/>
<path d="M819.8,360.9 V363.1 M818.2,360.9 h3.2 M818.2,363.1 h3.2" stroke="#111" stroke-width="0.6" fill="none"/>
<path d="M834.9,361.2 V362.7 M833.3,361.2 h3.2 M833.3,362.7 h3.2" stroke="#111" stroke-width="0.6" fill="none"/>
<path d="M850.0,361.2 V362.7 M848.4,361.2 h3.2 M848.4,362.7 h3.2" stroke="#111" stroke-width="0.6" fill="none"/>
<path d="M865.1,361.2 V362.7 M863.5,361.2 h3.2 M863.5,362.7 h3.2" stroke="#111" stroke-width="0.6" fill="none"/>
<path d="M804.7,429.0 V431.2 M803.1,429.0 h3.2 M803.1,431.2 h3.2" stroke="#111" stroke-width="0.6" fill="none"/>
<path d="M819.8,407.7 V413.4 M818.2,407.7 h3.2 M818.2,413.4 h3.2" stroke="#111" stroke-width="0.6" fill="none"/>
<path d="M834.9,398.9 V404.8 M833.3,398.9 h3.2 M833.3,404.8 h3.2" stroke="#111" stroke-width="0.6" fill="none"/>
<path d="M850.0,391.0 V398.2 M848.4,391.0 h3.2 M848.4,398.2 h3.2" stroke="#111" stroke-width="0.6" fill="none"/>
<path d="M865.1,385.2 V392.4 M863.5,385.2 h3.2 M863.5,392.4 h3.2" stroke="#111" stroke-width="0.6" fill="none"/>
<circle cx="774.5" cy="432.3" r="2.1" fill="#ee6a5f" stroke="#1a1a1a" stroke-width="0.7"/>
<circle cx="789.6" cy="422.2" r="2.1" fill="#ee6a5f" stroke="#1a1a1a" stroke-width="0.7"/>
<circle cx="804.7" cy="366.3" r="2.1" fill="#ee6a5f" stroke="#1a1a1a" stroke-width="0.7"/>
<circle cx="819.8" cy="361.2" r="2.1" fill="#ee6a5f" stroke="#1a1a1a" stroke-width="0.7"/>
<circle cx="834.9" cy="359.8" r="2.1" fill="#ee6a5f" stroke="#1a1a1a" stroke-width="0.7"/>
<circle cx="850.0" cy="359.8" r="2.1" fill="#ee6a5f" stroke="#1a1a1a" stroke-width="0.7"/>
<circle cx="865.1" cy="359.8" r="2.1" fill="#ee6a5f" stroke="#1a1a1a" stroke-width="0.7"/>
<polygon points="774.5,429.8 776.9,434.1 772.1,434.1" fill="#ee6a5f" stroke="#1a1a1a" stroke-width="0.7" stroke-linejoin="round"/>
<polygon points="789.6,429.8 792.0,434.1 787.2,434.1" fill="#ee6a5f" stroke="#1a1a1a" stroke-width="0.7" stroke-linejoin="round"/>
<polygon points="804.7,428.4 807.1,432.7 802.3,432.7" fill="#ee6a5f" stroke="#1a1a1a" stroke-width="0.7" stroke-linejoin="round"/>
<polygon points="819.8,416.8 822.2,421.1 817.4,421.1" fill="#ee6a5f" stroke="#1a1a1a" stroke-width="0.7" stroke-linejoin="round"/>
<polygon points="834.9,407.3 837.3,411.6 832.5,411.6" fill="#ee6a5f" stroke="#1a1a1a" stroke-width="0.7" stroke-linejoin="round"/>
<polygon points="850.0,402.2 852.4,406.6 847.6,406.6" fill="#ee6a5f" stroke="#1a1a1a" stroke-width="0.7" stroke-linejoin="round"/>
<polygon points="865.1,397.9 867.5,402.2 862.7,402.2" fill="#ee6a5f" stroke="#1a1a1a" stroke-width="0.7" stroke-linejoin="round"/>
<circle cx="774.5" cy="432.3" r="2.1" fill="#12a0f0" stroke="#1a1a1a" stroke-width="0.7"/>
<circle cx="789.6" cy="414.9" r="2.1" fill="#12a0f0" stroke="#1a1a1a" stroke-width="0.7"/>
<circle cx="804.7" cy="364.9" r="2.1" fill="#12a0f0" stroke="#1a1a1a" stroke-width="0.7"/>
<circle cx="819.8" cy="362.0" r="2.1" fill="#12a0f0" stroke="#1a1a1a" stroke-width="0.7"/>
<circle cx="834.9" cy="362.0" r="2.1" fill="#12a0f0" stroke="#1a1a1a" stroke-width="0.7"/>
<circle cx="850.0" cy="362.0" r="2.1" fill="#12a0f0" stroke="#1a1a1a" stroke-width="0.7"/>
<circle cx="865.1" cy="362.0" r="2.1" fill="#12a0f0" stroke="#1a1a1a" stroke-width="0.7"/>
<polygon points="774.5,429.8 776.9,434.1 772.1,434.1" fill="#12a0f0" stroke="#1a1a1a" stroke-width="0.7" stroke-linejoin="round"/>
<polygon points="789.6,429.1 792.0,433.4 787.2,433.4" fill="#12a0f0" stroke="#1a1a1a" stroke-width="0.7" stroke-linejoin="round"/>
<polygon points="804.7,427.6 807.1,431.9 802.3,431.9" fill="#12a0f0" stroke="#1a1a1a" stroke-width="0.7" stroke-linejoin="round"/>
<polygon points="819.8,408.1 822.2,412.4 817.4,412.4" fill="#12a0f0" stroke="#1a1a1a" stroke-width="0.7" stroke-linejoin="round"/>
<polygon points="834.9,399.4 837.3,403.7 832.5,403.7" fill="#12a0f0" stroke="#1a1a1a" stroke-width="0.7" stroke-linejoin="round"/>
<polygon points="850.0,392.1 852.4,396.4 847.6,396.4" fill="#12a0f0" stroke="#1a1a1a" stroke-width="0.7" stroke-linejoin="round"/>
<polygon points="865.1,386.3 867.5,390.6 862.7,390.6" fill="#12a0f0" stroke="#1a1a1a" stroke-width="0.7" stroke-linejoin="round"/>
<rect x="767.0" y="355.5" width="105.6" height="80.89999999999998" fill="none" stroke="#4a4a4a" stroke-width="1.1"/>
<g stroke="#333" stroke-width="0.7"><line x1="764.4" y1="432.3" x2="766.5" y2="432.3"/><line x1="764.4" y1="414.2" x2="766.5" y2="414.2"/><line x1="764.4" y1="396.1" x2="766.5" y2="396.1"/><line x1="764.4" y1="377.9" x2="766.5" y2="377.9"/><line x1="764.4" y1="359.8" x2="766.5" y2="359.8"/><line x1="774.5" y1="436.9" x2="774.5" y2="439.0"/><line x1="789.6" y1="436.9" x2="789.6" y2="439.0"/><line x1="804.7" y1="436.9" x2="804.7" y2="439.0"/><line x1="819.8" y1="436.9" x2="819.8" y2="439.0"/><line x1="834.9" y1="436.9" x2="834.9" y2="439.0"/><line x1="850.0" y1="436.9" x2="850.0" y2="439.0"/><line x1="865.1" y1="436.9" x2="865.1" y2="439.0"/></g>
<g font-size="6.6" fill="#4d4d4d">
<text x="763.40" y="434.65" font-size="6.6" text-anchor="end" fill="#4d4d4d">0</text>
<text x="763.40" y="416.53" font-size="6.6" text-anchor="end" fill="#4d4d4d">25</text>
<text x="763.40" y="398.40" font-size="6.6" text-anchor="end" fill="#4d4d4d">50</text>
<text x="763.40" y="380.28" font-size="6.6" text-anchor="end" fill="#4d4d4d">75</text>
<text x="763.40" y="362.15" font-size="6.6" text-anchor="end" fill="#4d4d4d">100</text>
<text x="774.50" y="445.80" font-size="6.6" text-anchor="middle" fill="#4d4d4d">1</text>
<text x="789.60" y="445.80" font-size="6.6" text-anchor="middle" fill="#4d4d4d">2</text>
<text x="804.70" y="445.80" font-size="6.6" text-anchor="middle" fill="#4d4d4d">3</text>
<text x="819.80" y="445.80" font-size="6.6" text-anchor="middle" fill="#4d4d4d">4</text>
<text x="834.90" y="445.80" font-size="6.6" text-anchor="middle" fill="#4d4d4d">5</text>
<text x="850.00" y="445.80" font-size="6.6" text-anchor="middle" fill="#4d4d4d">6</text>
<text x="865.10" y="445.80" font-size="6.6" text-anchor="middle" fill="#4d4d4d">7</text>
</g>
<text x="767.40" y="349.20" font-size="10.3" text-anchor="start" fill="#000" font-style="italic" stroke="#000" stroke-width="0.18">xbat34-1</text>
<text transform="translate(497.9,232.7) rotate(-90)" font-size="12.6" font-weight="bold" text-anchor="middle" fill="#000" textLength="89.4" lengthAdjust="spacingAndGlyphs">% Germination</text>
<text x="693.30" y="457.30" font-size="12.4" text-anchor="middle" fill="#000" font-weight="bold" textLength="137.40" lengthAdjust="spacingAndGlyphs">Days after stratification</text>
<text x="618.00" y="470.00" font-size="6.6" text-anchor="middle" fill="#111" textLength="33.40" lengthAdjust="spacingAndGlyphs">Col-0 0 nM</text>
<line x1="609" y1="476.7" x2="627" y2="476.7" stroke="#f8766d" stroke-width="0.8"/>
<circle cx="618.0" cy="477.0" r="2.1" fill="#ee6a5f" stroke="#1a1a1a" stroke-width="0.7"/>
<text x="665.40" y="470.00" font-size="6.6" text-anchor="middle" fill="#111" textLength="41.20" lengthAdjust="spacingAndGlyphs">Col-0 250 nM</text>
<line x1="656" y1="476.7" x2="674" y2="476.7" stroke="#f8766d" stroke-width="0.8"/>
<polygon points="665.0,474.5 667.4,478.8 662.6,478.8" fill="#ee6a5f" stroke="#1a1a1a" stroke-width="0.7" stroke-linejoin="round"/>
<text x="695.6" y="470" font-size="6.6" fill="#111" textLength="38.3" lengthAdjust="spacingAndGlyphs"><tspan font-style="italic">mutant</tspan> 0 nM</text>
<line x1="705.8" y1="476.7" x2="723.8" y2="476.7" stroke="#1aa7f5" stroke-width="0.8"/>
<circle cx="714.8" cy="477.0" r="2.1" fill="#12a0f0" stroke="#1a1a1a" stroke-width="0.7"/>
<text x="744" y="470" font-size="6.6" fill="#111" textLength="46.0" lengthAdjust="spacingAndGlyphs"><tspan font-style="italic">mutant</tspan> 250 nM</text>
<line x1="758" y1="476.7" x2="776" y2="476.7" stroke="#1aa7f5" stroke-width="0.8"/>
<polygon points="767.0,474.5 769.4,478.8 764.6,478.8" fill="#12a0f0" stroke="#1a1a1a" stroke-width="0.7" stroke-linejoin="round"/>
</g>
<g id="watermark" pointer-events="none">
<g transform="translate(327.8,47.6) rotate(20.5)">
<text x="-2.5" y="29" font-size="40.5" font-weight="bold" fill="none" stroke="#4db847" stroke-opacity="0.43" stroke-width="0.6" textLength="170" lengthAdjust="spacingAndGlyphs">EcoTech</text>
<text x="158.5" y="4" font-size="11" fill="none" stroke="#4db847" stroke-opacity="0.43" stroke-width="0.5">®</text>
<line x1="-5.5" y1="39" x2="166" y2="39" stroke="#2e9e6e" stroke-opacity="0.42" stroke-width="2.6"/>
<text x="-2.4" y="62.6" font-size="18" font-weight="bold" fill="#222" fill-opacity="0.3" font-family="'Liberation Serif', 'Noto Serif CJK SC', serif" letter-spacing="6.9">易科泰生态技术</text>
</g>
<g transform="translate(630.0,160.0) rotate(20.5)">
<text x="-2.5" y="29" font-size="40.5" font-weight="bold" fill="none" stroke="#4db847" stroke-opacity="0.43" stroke-width="0.6" textLength="170" lengthAdjust="spacingAndGlyphs">EcoTech</text>
<text x="158.5" y="4" font-size="11" fill="none" stroke="#4db847" stroke-opacity="0.43" stroke-width="0.5">®</text>
<line x1="-5.5" y1="39" x2="166" y2="39" stroke="#2e9e6e" stroke-opacity="0.42" stroke-width="2.6"/>
<text x="-2.4" y="62.6" font-size="18" font-weight="bold" fill="#222" fill-opacity="0.3" font-family="'Liberation Serif', 'Noto Serif CJK SC', serif" letter-spacing="6.9">易科泰生态技术</text>
</g>
<g transform="translate(253.5,247.3) rotate(20.5)">
<text x="-2.5" y="29" font-size="40.5" font-weight="bold" fill="none" stroke="#4db847" stroke-opacity="0.43" stroke-width="0.6" textLength="170" lengthAdjust="spacingAndGlyphs">EcoTech</text>
<text x="158.5" y="4" font-size="11" fill="none" stroke="#4db847" stroke-opacity="0.43" stroke-width="0.5">®</text>
<line x1="-5.5" y1="39" x2="166" y2="39" stroke="#2e9e6e" stroke-opacity="0.42" stroke-width="2.6"/>
<text x="-2.4" y="62.6" font-size="18" font-weight="bold" fill="#222" fill-opacity="0.3" font-family="'Liberation Serif', 'Noto Serif CJK SC', serif" letter-spacing="6.9">易科泰生态技术</text>
</g>
<g transform="translate(550.5,355.5) rotate(20.5)">
<text x="-2.5" y="29" font-size="40.5" font-weight="bold" fill="none" stroke="#4db847" stroke-opacity="0.43" stroke-width="0.6" textLength="170" lengthAdjust="spacingAndGlyphs">EcoTech</text>
<text x="158.5" y="4" font-size="11" fill="none" stroke="#4db847" stroke-opacity="0.43" stroke-width="0.5">®</text>
<line x1="-5.5" y1="39" x2="166" y2="39" stroke="#2e9e6e" stroke-opacity="0.42" stroke-width="2.6"/>
<text x="-2.4" y="62.6" font-size="18" font-weight="bold" fill="#222" fill-opacity="0.3" font-family="'Liberation Serif', 'Noto Serif CJK SC', serif" letter-spacing="6.9">易科泰生态技术</text>
</g>
<g transform="translate(-42.0,138.8) rotate(20.5)">
<text x="-2.5" y="29" font-size="40.5" font-weight="bold" fill="none" stroke="#4db847" stroke-opacity="0.43" stroke-width="0.6" textLength="170" lengthAdjust="spacingAndGlyphs">EcoTech</text>
<text x="158.5" y="4" font-size="11" fill="none" stroke="#4db847" stroke-opacity="0.43" stroke-width="0.5">®</text>
<line x1="-5.5" y1="39" x2="166" y2="39" stroke="#2e9e6e" stroke-opacity="0.42" stroke-width="2.6"/>
<text x="-2.4" y="62.6" font-size="18" font-weight="bold" fill="#222" fill-opacity="0.3" font-family="'Liberation Serif', 'Noto Serif CJK SC', serif" letter-spacing="6.9">易科泰生态技术</text>
</g>
<g transform="translate(700.0,-42.0) rotate(20.5)">
<text x="-2.5" y="29" font-size="40.5" font-weight="bold" fill="none" stroke="#4db847" stroke-opacity="0.43" stroke-width="0.6" textLength="170" lengthAdjust="spacingAndGlyphs">EcoTech</text>
<text x="158.5" y="4" font-size="11" fill="none" stroke="#4db847" stroke-opacity="0.43" stroke-width="0.5">®</text>
<line x1="-5.5" y1="39" x2="166" y2="39" stroke="#2e9e6e" stroke-opacity="0.42" stroke-width="2.6"/>
<text x="-2.4" y="62.6" font-size="18" font-weight="bold" fill="#222" fill-opacity="0.3" font-family="'Liberation Serif', 'Noto Serif CJK SC', serif" letter-spacing="6.9">易科泰生态技术</text>
</g>
<g transform="translate(-116.0,341.0) rotate(20.5)">
<text x="-2.5" y="29" font-size="40.5" font-weight="bold" fill="none" stroke="#4db847" stroke-opacity="0.43" stroke-width="0.6" textLength="170" lengthAdjust="spacingAndGlyphs">EcoTech</text>
<text x="158.5" y="4" font-size="11" fill="none" stroke="#4db847" stroke-opacity="0.43" stroke-width="0.5">®</text>
<line x1="-5.5" y1="39" x2="166" y2="39" stroke="#2e9e6e" stroke-opacity="0.42" stroke-width="2.6"/>
<text x="-2.4" y="62.6" font-size="18" font-weight="bold" fill="#222" fill-opacity="0.3" font-family="'Liberation Serif', 'Noto Serif CJK SC', serif" letter-spacing="6.9">易科泰生态技术</text>
</g>
<g transform="translate(235.0,460.0) rotate(20.5)">
<text x="-2.5" y="29" font-size="40.5" font-weight="bold" fill="none" stroke="#4db847" stroke-opacity="0.43" stroke-width="0.6" textLength="170" lengthAdjust="spacingAndGlyphs">EcoTech</text>
<text x="158.5" y="4" font-size="11" fill="none" stroke="#4db847" stroke-opacity="0.43" stroke-width="0.5">®</text>
<line x1="-5.5" y1="39" x2="166" y2="39" stroke="#2e9e6e" stroke-opacity="0.42" stroke-width="2.6"/>
<text x="-2.4" y="62.6" font-size="18" font-weight="bold" fill="#222" fill-opacity="0.3" font-family="'Liberation Serif', 'Noto Serif CJK SC', serif" letter-spacing="6.9">易科泰生态技术</text>
</g>
<g transform="translate(849.0,465.0) rotate(20.5)">
<text x="-2.5" y="29" font-size="40.5" font-weight="bold" fill="none" stroke="#4db847" stroke-opacity="0.43" stroke-width="0.6" textLength="170" lengthAdjust="spacingAndGlyphs">EcoTech</text>
<text x="158.5" y="4" font-size="11" fill="none" stroke="#4db847" stroke-opacity="0.43" stroke-width="0.5">®</text>
<line x1="-5.5" y1="39" x2="166" y2="39" stroke="#2e9e6e" stroke-opacity="0.42" stroke-width="2.6"/>
<text x="-2.4" y="62.6" font-size="18" font-weight="bold" fill="#222" fill-opacity="0.3" font-family="'Liberation Serif', 'Noto Serif CJK SC', serif" letter-spacing="6.9">易科泰生态技术</text>
</g>
</g>
</svg>
</body>
</html>
